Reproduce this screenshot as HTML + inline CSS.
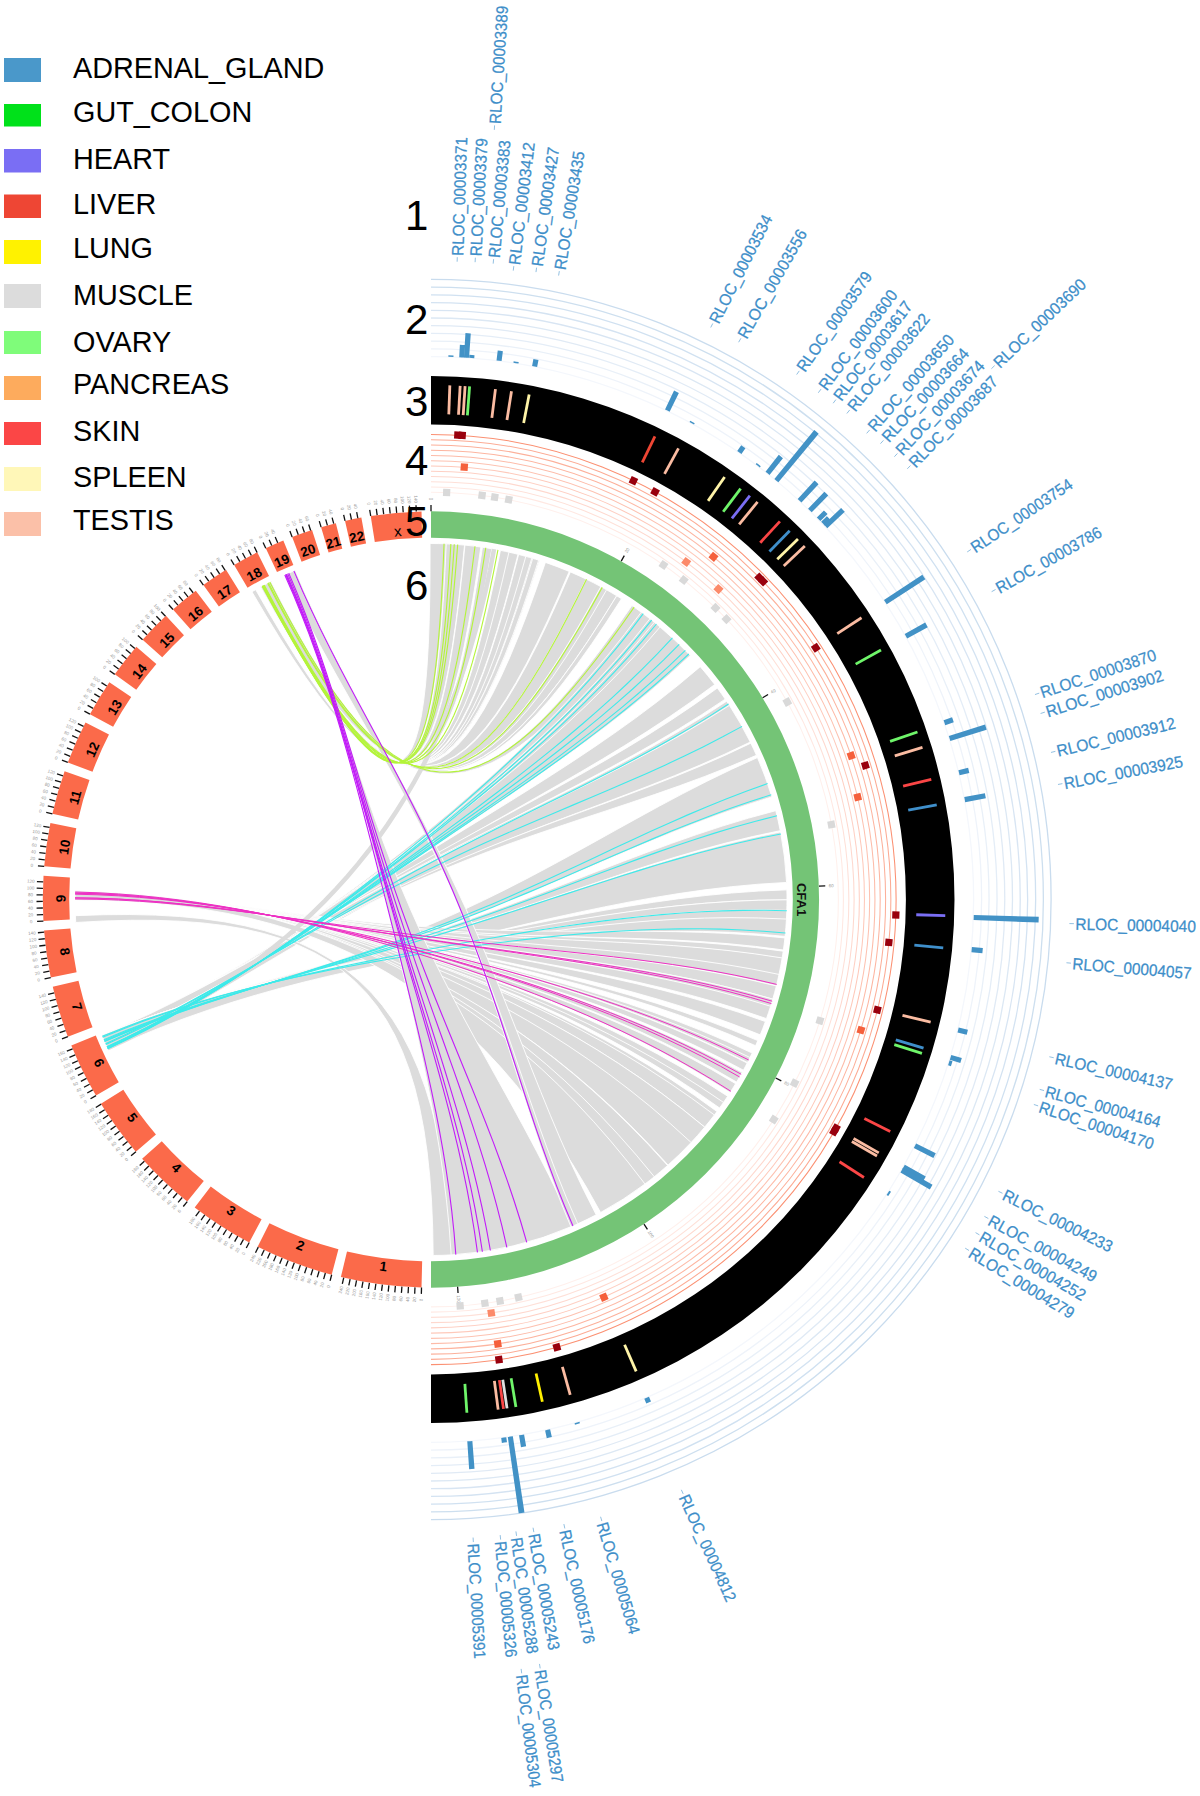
<!DOCTYPE html><html><head><meta charset="utf-8"><style>html,body{margin:0;padding:0;background:#fff;}svg{display:block;font-family:"Liberation Sans",sans-serif;}</style></head><body><svg width="1200" height="1796" viewBox="0 0 1200 1796"><rect x="4" y="58" width="37" height="24" fill="#4a98ca"/>
<text x="73" y="78.2" font-size="28.8" fill="#000">ADRENAL_GLAND</text>
<rect x="4" y="104" width="37" height="22.5" fill="#00e11a"/>
<text x="73" y="121.6" font-size="28.8" fill="#000">GUT_COLON</text>
<rect x="4" y="149" width="37" height="23.5" fill="#7a6ef4"/>
<text x="73" y="169" font-size="28.8" fill="#000">HEART</text>
<rect x="4" y="194.5" width="37" height="23.5" fill="#ee4634"/>
<text x="73" y="214" font-size="28.8" fill="#000">LIVER</text>
<rect x="4" y="240" width="37" height="24" fill="#fff200"/>
<text x="73" y="258" font-size="28.8" fill="#000">LUNG</text>
<rect x="4" y="284" width="37" height="24" fill="#dcdcdc"/>
<text x="73" y="304.6" font-size="28.8" fill="#000">MUSCLE</text>
<rect x="4" y="331" width="37" height="23" fill="#7ffc7a"/>
<text x="73" y="351.6" font-size="28.8" fill="#000">OVARY</text>
<rect x="4" y="376" width="37" height="24" fill="#fdab5d"/>
<text x="73" y="394" font-size="28.8" fill="#000">PANCREAS</text>
<rect x="4" y="422" width="37" height="23" fill="#fb4646"/>
<text x="73" y="440.8" font-size="28.8" fill="#000">SKIN</text>
<rect x="4" y="467" width="37" height="24" fill="#fff7b8"/>
<text x="73" y="487.3" font-size="28.8" fill="#000">SPLEEN</text>
<rect x="4" y="512" width="37" height="24" fill="#fbc0a8"/>
<text x="73" y="530" font-size="28.8" fill="#000">TESTIS</text>
<path d="M431.00,356.60 A542.90,542.90 0 0 1 431.00,1442.40" fill="none" stroke="#f4f7fc" stroke-width="1.3"/>
<path d="M431.00,348.88 A550.62,550.62 0 0 1 431.00,1450.12" fill="none" stroke="#eef3fa" stroke-width="1.3"/>
<path d="M431.00,341.16 A558.34,558.34 0 0 1 431.00,1457.84" fill="none" stroke="#e9f0f8" stroke-width="1.3"/>
<path d="M431.00,333.44 A566.06,566.06 0 0 1 431.00,1465.56" fill="none" stroke="#e4edf7" stroke-width="1.3"/>
<path d="M431.00,325.72 A573.78,573.78 0 0 1 431.00,1473.28" fill="none" stroke="#e0eaf5" stroke-width="1.3"/>
<path d="M431.00,318.00 A581.50,581.50 0 0 1 431.00,1481.00" fill="none" stroke="#dce8f4" stroke-width="1.3"/>
<path d="M431.00,310.28 A589.22,589.22 0 0 1 431.00,1488.72" fill="none" stroke="#d8e5f3" stroke-width="1.3"/>
<path d="M431.00,302.56 A596.94,596.94 0 0 1 431.00,1496.44" fill="none" stroke="#d4e3f2" stroke-width="1.3"/>
<path d="M431.00,294.84 A604.66,604.66 0 0 1 431.00,1504.16" fill="none" stroke="#d0e1f1" stroke-width="1.3"/>
<path d="M431.00,287.12 A612.38,612.38 0 0 1 431.00,1511.88" fill="none" stroke="#cddfef" stroke-width="1.3"/>
<path d="M431.00,279.40 A620.10,620.10 0 0 1 431.00,1519.60" fill="none" stroke="#c9dcee" stroke-width="1.3"/>
<path d="M431.00,376.00 A523.50,523.50 0 0 1 431.00,1423.00 L431.00,1374.40 A474.90,474.90 0 0 0 431.00,424.60 Z" fill="#000"/>
<path d="M431.00,434.40 A465.10,465.10 0 0 1 431.00,1364.60" fill="none" stroke="#fb9072" stroke-width="1.05"/>
<path d="M431.00,439.65 A459.85,459.85 0 0 1 431.00,1359.35" fill="none" stroke="#fcab94" stroke-width="1.05"/>
<path d="M431.00,444.90 A454.60,454.60 0 0 1 431.00,1354.10" fill="none" stroke="#fcb09a" stroke-width="1.05"/>
<path d="M431.00,450.15 A449.35,449.35 0 0 1 431.00,1348.85" fill="none" stroke="#fdb5a0" stroke-width="1.05"/>
<path d="M431.00,455.40 A444.10,444.10 0 0 1 431.00,1343.60" fill="none" stroke="#fdbba8" stroke-width="1.05"/>
<path d="M431.00,460.65 A438.85,438.85 0 0 1 431.00,1338.35" fill="none" stroke="#fdc2b1" stroke-width="1.05"/>
<path d="M431.00,465.90 A433.60,433.60 0 0 1 431.00,1333.10" fill="none" stroke="#fec9ba" stroke-width="1.05"/>
<path d="M431.00,471.15 A428.35,428.35 0 0 1 431.00,1327.85" fill="none" stroke="#fed0c4" stroke-width="1.05"/>
<path d="M431.00,476.40 A423.10,423.10 0 0 1 431.00,1322.60" fill="none" stroke="#fed8ce" stroke-width="1.05"/>
<path d="M431.00,481.65 A417.85,417.85 0 0 1 431.00,1317.35" fill="none" stroke="#fee0d8" stroke-width="1.05"/>
<path d="M431.00,486.90 A412.60,412.60 0 0 1 431.00,1312.10" fill="none" stroke="#ffe8e2" stroke-width="1.05"/>
<path d="M431.00,492.15 A407.35,407.35 0 0 1 431.00,1306.85" fill="none" stroke="#fff0ec" stroke-width="1.05"/>
<path d="M431.00,511.30 A388.20,388.20 0 0 1 431.00,1287.70 L431.00,1261.30 A361.80,361.80 0 0 0 431.00,537.70 Z" fill="#74c476"/>
<path d="M421.52,1287.58 A388.20,388.20 0 0 1 340.87,1277.09 L347.00,1251.41 A361.80,361.80 0 0 0 422.16,1261.19 Z" fill="#fb6a4a"/>
<text x="383.27" y="1266.41" font-weight="bold" font-size="13.5" text-anchor="middle" dominant-baseline="central" transform="rotate(7.41 383.27 1266.41)">1</text>
<path d="M421.52,1287.58 L421.36,1293.88" stroke="#111" stroke-width="1.3"/>
<text x="421.21" y="1299.88" font-size="4.5" fill="#999" text-anchor="middle" dominant-baseline="central" transform="rotate(271.40 421.21 1299.88)">0</text>
<path d="M414.97,1287.37 L414.71,1293.66" stroke="#111" stroke-width="1.3"/>
<text x="414.47" y="1299.66" font-size="4.5" fill="#999" text-anchor="middle" dominant-baseline="central" transform="rotate(272.37 414.47 1299.66)">20</text>
<path d="M408.44,1287.04 L408.07,1293.33" stroke="#111" stroke-width="1.3"/>
<text x="407.72" y="1299.32" font-size="4.5" fill="#999" text-anchor="middle" dominant-baseline="central" transform="rotate(273.33 407.72 1299.32)">40</text>
<path d="M401.91,1286.61 L401.43,1292.89" stroke="#111" stroke-width="1.3"/>
<text x="400.98" y="1298.87" font-size="4.5" fill="#999" text-anchor="middle" dominant-baseline="central" transform="rotate(274.30 400.98 1298.87)">60</text>
<path d="M395.38,1286.06 L394.81,1292.34" stroke="#111" stroke-width="1.3"/>
<text x="394.26" y="1298.31" font-size="4.5" fill="#999" text-anchor="middle" dominant-baseline="central" transform="rotate(275.26 394.26 1298.31)">80</text>
<path d="M388.87,1285.41 L388.19,1291.67" stroke="#111" stroke-width="1.3"/>
<text x="387.54" y="1297.63" font-size="4.5" fill="#999" text-anchor="middle" dominant-baseline="central" transform="rotate(276.23 387.54 1297.63)">100</text>
<path d="M382.37,1284.64 L381.58,1290.89" stroke="#111" stroke-width="1.3"/>
<text x="380.83" y="1296.85" font-size="4.5" fill="#999" text-anchor="middle" dominant-baseline="central" transform="rotate(277.20 380.83 1296.85)">120</text>
<path d="M375.89,1283.77 L374.99,1290.00" stroke="#111" stroke-width="1.3"/>
<text x="374.14" y="1295.94" font-size="4.5" fill="#999" text-anchor="middle" dominant-baseline="central" transform="rotate(278.16 374.14 1295.94)">140</text>
<path d="M369.42,1282.78 L368.42,1289.00" stroke="#111" stroke-width="1.3"/>
<text x="367.46" y="1294.93" font-size="4.5" fill="#999" text-anchor="middle" dominant-baseline="central" transform="rotate(279.13 367.46 1294.93)">160</text>
<path d="M362.96,1281.69 L361.86,1287.89" stroke="#111" stroke-width="1.3"/>
<text x="360.81" y="1293.80" font-size="4.5" fill="#999" text-anchor="middle" dominant-baseline="central" transform="rotate(280.09 360.81 1293.80)">180</text>
<path d="M356.53,1280.49 L355.32,1286.67" stroke="#111" stroke-width="1.3"/>
<text x="354.17" y="1292.56" font-size="4.5" fill="#999" text-anchor="middle" dominant-baseline="central" transform="rotate(281.06 354.17 1292.56)">200</text>
<path d="M350.12,1279.18 L348.80,1285.34" stroke="#111" stroke-width="1.3"/>
<text x="347.55" y="1291.21" font-size="4.5" fill="#999" text-anchor="middle" dominant-baseline="central" transform="rotate(282.03 347.55 1291.21)">220</text>
<path d="M343.73,1277.76 L342.31,1283.90" stroke="#111" stroke-width="1.3"/>
<text x="340.96" y="1289.75" font-size="4.5" fill="#999" text-anchor="middle" dominant-baseline="central" transform="rotate(282.99 340.96 1289.75)">240</text>
<path d="M331.67,1274.78 A388.20,388.20 0 0 1 257.65,1246.85 L269.44,1223.22 A361.80,361.80 0 0 0 338.43,1249.26 Z" fill="#fb6a4a"/>
<text x="300.37" y="1245.67" font-weight="bold" font-size="13.5" text-anchor="middle" dominant-baseline="central" transform="rotate(20.67 300.37 1245.67)">2</text>
<path d="M331.67,1274.78 L330.06,1280.87" stroke="#111" stroke-width="1.3"/>
<text x="328.53" y="1286.67" font-size="4.5" fill="#999" text-anchor="middle" dominant-baseline="central" transform="rotate(284.82 328.53 1286.67)">0</text>
<path d="M325.36,1273.05 L323.65,1279.11" stroke="#111" stroke-width="1.3"/>
<text x="322.01" y="1284.89" font-size="4.5" fill="#999" text-anchor="middle" dominant-baseline="central" transform="rotate(285.79 322.01 1284.89)">20</text>
<path d="M319.08,1271.22 L317.26,1277.25" stroke="#111" stroke-width="1.3"/>
<text x="315.53" y="1282.99" font-size="4.5" fill="#999" text-anchor="middle" dominant-baseline="central" transform="rotate(286.76 315.53 1282.99)">40</text>
<path d="M312.83,1269.28 L310.91,1275.28" stroke="#111" stroke-width="1.3"/>
<text x="309.08" y="1280.99" font-size="4.5" fill="#999" text-anchor="middle" dominant-baseline="central" transform="rotate(287.72 309.08 1280.99)">60</text>
<path d="M306.61,1267.23 L304.59,1273.20" stroke="#111" stroke-width="1.3"/>
<text x="302.67" y="1278.88" font-size="4.5" fill="#999" text-anchor="middle" dominant-baseline="central" transform="rotate(288.69 302.67 1278.88)">80</text>
<path d="M300.43,1265.08 L298.31,1271.02" stroke="#111" stroke-width="1.3"/>
<text x="296.29" y="1276.67" font-size="4.5" fill="#999" text-anchor="middle" dominant-baseline="central" transform="rotate(289.65 296.29 1276.67)">100</text>
<path d="M294.28,1262.83 L292.07,1268.73" stroke="#111" stroke-width="1.3"/>
<text x="289.95" y="1274.34" font-size="4.5" fill="#999" text-anchor="middle" dominant-baseline="central" transform="rotate(290.62 289.95 1274.34)">120</text>
<path d="M288.18,1260.47 L285.86,1266.33" stroke="#111" stroke-width="1.3"/>
<text x="283.65" y="1271.91" font-size="4.5" fill="#999" text-anchor="middle" dominant-baseline="central" transform="rotate(291.59 283.65 1271.91)">140</text>
<path d="M282.11,1258.01 L279.70,1263.83" stroke="#111" stroke-width="1.3"/>
<text x="277.40" y="1269.37" font-size="4.5" fill="#999" text-anchor="middle" dominant-baseline="central" transform="rotate(292.55 277.40 1269.37)">160</text>
<path d="M276.09,1255.45 L273.58,1261.23" stroke="#111" stroke-width="1.3"/>
<text x="271.18" y="1266.73" font-size="4.5" fill="#999" text-anchor="middle" dominant-baseline="central" transform="rotate(293.52 271.18 1266.73)">180</text>
<path d="M270.11,1252.79 L267.50,1258.52" stroke="#111" stroke-width="1.3"/>
<text x="265.01" y="1263.98" font-size="4.5" fill="#999" text-anchor="middle" dominant-baseline="central" transform="rotate(294.48 265.01 1263.98)">200</text>
<path d="M264.18,1250.03 L261.47,1255.72" stroke="#111" stroke-width="1.3"/>
<text x="258.89" y="1261.13" font-size="4.5" fill="#999" text-anchor="middle" dominant-baseline="central" transform="rotate(295.45 258.89 1261.13)">220</text>
<path d="M258.29,1247.16 L255.49,1252.81" stroke="#111" stroke-width="1.3"/>
<text x="252.82" y="1258.18" font-size="4.5" fill="#999" text-anchor="middle" dominant-baseline="central" transform="rotate(296.42 252.82 1258.18)">240</text>
<path d="M249.21,1242.51 A388.20,388.20 0 0 1 194.68,1207.48 L210.75,1186.53 A361.80,361.80 0 0 0 261.58,1219.18 Z" fill="#fb6a4a"/>
<text x="231.05" y="1210.82" font-weight="bold" font-size="13.5" text-anchor="middle" dominant-baseline="central" transform="rotate(32.71 231.05 1210.82)">3</text>
<path d="M249.21,1242.51 L246.26,1248.07" stroke="#111" stroke-width="1.3"/>
<text x="243.45" y="1253.37" font-size="4.5" fill="#999" text-anchor="middle" dominant-baseline="central" transform="rotate(297.92 243.45 1253.37)">0</text>
<path d="M243.46,1239.39 L240.41,1244.91" stroke="#111" stroke-width="1.3"/>
<text x="237.51" y="1250.16" font-size="4.5" fill="#999" text-anchor="middle" dominant-baseline="central" transform="rotate(298.89 237.51 1250.16)">20</text>
<path d="M237.75,1236.18 L234.62,1241.65" stroke="#111" stroke-width="1.3"/>
<text x="231.63" y="1246.85" font-size="4.5" fill="#999" text-anchor="middle" dominant-baseline="central" transform="rotate(299.85 231.63 1246.85)">40</text>
<path d="M232.10,1232.88 L228.88,1238.29" stroke="#111" stroke-width="1.3"/>
<text x="225.80" y="1243.44" font-size="4.5" fill="#999" text-anchor="middle" dominant-baseline="central" transform="rotate(300.82 225.80 1243.44)">60</text>
<path d="M226.51,1229.48 L223.19,1234.83" stroke="#111" stroke-width="1.3"/>
<text x="220.03" y="1239.93" font-size="4.5" fill="#999" text-anchor="middle" dominant-baseline="central" transform="rotate(301.79 220.03 1239.93)">80</text>
<path d="M220.98,1225.98 L217.57,1231.28" stroke="#111" stroke-width="1.3"/>
<text x="214.32" y="1236.33" font-size="4.5" fill="#999" text-anchor="middle" dominant-baseline="central" transform="rotate(302.75 214.32 1236.33)">100</text>
<path d="M215.50,1222.39 L212.01,1227.63" stroke="#111" stroke-width="1.3"/>
<text x="208.68" y="1232.63" font-size="4.5" fill="#999" text-anchor="middle" dominant-baseline="central" transform="rotate(303.72 208.68 1232.63)">120</text>
<path d="M210.09,1218.72 L206.51,1223.90" stroke="#111" stroke-width="1.3"/>
<text x="203.09" y="1228.83" font-size="4.5" fill="#999" text-anchor="middle" dominant-baseline="central" transform="rotate(304.68 203.09 1228.83)">140</text>
<path d="M204.74,1214.95 L201.07,1220.06" stroke="#111" stroke-width="1.3"/>
<text x="197.57" y="1224.94" font-size="4.5" fill="#999" text-anchor="middle" dominant-baseline="central" transform="rotate(305.65 197.57 1224.94)">160</text>
<path d="M199.45,1211.09 L195.70,1216.14" stroke="#111" stroke-width="1.3"/>
<text x="192.12" y="1220.96" font-size="4.5" fill="#999" text-anchor="middle" dominant-baseline="central" transform="rotate(306.62 192.12 1220.96)">180</text>
<path d="M187.22,1201.61 A388.20,388.20 0 0 1 142.11,1158.81 L161.76,1141.18 A361.80,361.80 0 0 0 203.80,1181.07 Z" fill="#fb6a4a"/>
<text x="176.34" y="1167.91" font-weight="bold" font-size="13.5" text-anchor="middle" dominant-baseline="central" transform="rotate(43.49 176.34 1167.91)">4</text>
<path d="M187.22,1201.61 L183.27,1206.52" stroke="#111" stroke-width="1.3"/>
<text x="179.50" y="1211.18" font-size="4.5" fill="#999" text-anchor="middle" dominant-baseline="central" transform="rotate(308.90 179.50 1211.18)">0</text>
<path d="M182.16,1197.46 L178.13,1202.30" stroke="#111" stroke-width="1.3"/>
<text x="174.28" y="1206.90" font-size="4.5" fill="#999" text-anchor="middle" dominant-baseline="central" transform="rotate(309.87 174.28 1206.90)">20</text>
<path d="M177.18,1193.22 L173.06,1197.99" stroke="#111" stroke-width="1.3"/>
<text x="169.13" y="1202.53" font-size="4.5" fill="#999" text-anchor="middle" dominant-baseline="central" transform="rotate(310.83 169.13 1202.53)">40</text>
<path d="M172.26,1188.90 L168.06,1193.60" stroke="#111" stroke-width="1.3"/>
<text x="164.06" y="1198.07" font-size="4.5" fill="#999" text-anchor="middle" dominant-baseline="central" transform="rotate(311.80 164.06 1198.07)">60</text>
<path d="M167.42,1184.50 L163.14,1189.12" stroke="#111" stroke-width="1.3"/>
<text x="159.07" y="1193.53" font-size="4.5" fill="#999" text-anchor="middle" dominant-baseline="central" transform="rotate(312.76 159.07 1193.53)">80</text>
<path d="M162.65,1180.01 L158.30,1184.57" stroke="#111" stroke-width="1.3"/>
<text x="154.15" y="1188.90" font-size="4.5" fill="#999" text-anchor="middle" dominant-baseline="central" transform="rotate(313.73 154.15 1188.90)">100</text>
<path d="M157.96,1175.45 L153.53,1179.93" stroke="#111" stroke-width="1.3"/>
<text x="149.31" y="1184.19" font-size="4.5" fill="#999" text-anchor="middle" dominant-baseline="central" transform="rotate(314.70 149.31 1184.19)">120</text>
<path d="M153.35,1170.81 L148.84,1175.21" stroke="#111" stroke-width="1.3"/>
<text x="144.55" y="1179.40" font-size="4.5" fill="#999" text-anchor="middle" dominant-baseline="central" transform="rotate(315.66 144.55 1179.40)">140</text>
<path d="M148.81,1166.09 L144.23,1170.41" stroke="#111" stroke-width="1.3"/>
<text x="139.87" y="1174.53" font-size="4.5" fill="#999" text-anchor="middle" dominant-baseline="central" transform="rotate(316.63 139.87 1174.53)">160</text>
<path d="M144.36,1161.29 L139.71,1165.54" stroke="#111" stroke-width="1.3"/>
<text x="135.28" y="1169.59" font-size="4.5" fill="#999" text-anchor="middle" dominant-baseline="central" transform="rotate(317.59 135.28 1169.59)">180</text>
<path d="M135.86,1151.68 A388.20,388.20 0 0 1 100.87,1103.74 L123.32,1089.85 A361.80,361.80 0 0 0 155.94,1134.53 Z" fill="#fb6a4a"/>
<text x="132.15" y="1117.65" font-weight="bold" font-size="13.5" text-anchor="middle" dominant-baseline="central" transform="rotate(53.87 132.15 1117.65)">5</text>
<path d="M135.86,1151.68 L131.07,1155.77" stroke="#111" stroke-width="1.3"/>
<text x="126.51" y="1159.67" font-size="4.5" fill="#999" text-anchor="middle" dominant-baseline="central" transform="rotate(319.49 126.51 1159.67)">0</text>
<path d="M131.65,1146.67 L126.80,1150.68" stroke="#111" stroke-width="1.3"/>
<text x="122.17" y="1154.50" font-size="4.5" fill="#999" text-anchor="middle" dominant-baseline="central" transform="rotate(320.45 122.17 1154.50)">20</text>
<path d="M127.53,1141.59 L122.61,1145.51" stroke="#111" stroke-width="1.3"/>
<text x="117.91" y="1149.26" font-size="4.5" fill="#999" text-anchor="middle" dominant-baseline="central" transform="rotate(321.42 117.91 1149.26)">40</text>
<path d="M123.49,1136.43 L118.50,1140.28" stroke="#111" stroke-width="1.3"/>
<text x="113.75" y="1143.94" font-size="4.5" fill="#999" text-anchor="middle" dominant-baseline="central" transform="rotate(322.39 113.75 1143.94)">60</text>
<path d="M119.54,1131.22 L114.49,1134.98" stroke="#111" stroke-width="1.3"/>
<text x="109.67" y="1138.56" font-size="4.5" fill="#999" text-anchor="middle" dominant-baseline="central" transform="rotate(323.35 109.67 1138.56)">80</text>
<path d="M115.68,1125.93 L110.56,1129.61" stroke="#111" stroke-width="1.3"/>
<text x="105.69" y="1133.11" font-size="4.5" fill="#999" text-anchor="middle" dominant-baseline="central" transform="rotate(324.32 105.69 1133.11)">100</text>
<path d="M111.91,1120.58 L106.73,1124.17" stroke="#111" stroke-width="1.3"/>
<text x="101.80" y="1127.59" font-size="4.5" fill="#999" text-anchor="middle" dominant-baseline="central" transform="rotate(325.28 101.80 1127.59)">120</text>
<path d="M108.22,1115.17 L102.99,1118.67" stroke="#111" stroke-width="1.3"/>
<text x="98.00" y="1122.01" font-size="4.5" fill="#999" text-anchor="middle" dominant-baseline="central" transform="rotate(326.25 98.00 1122.01)">140</text>
<path d="M104.63,1109.70 L99.34,1113.11" stroke="#111" stroke-width="1.3"/>
<text x="94.29" y="1116.36" font-size="4.5" fill="#999" text-anchor="middle" dominant-baseline="central" transform="rotate(327.22 94.29 1116.36)">160</text>
<path d="M101.14,1104.17 L95.78,1107.49" stroke="#111" stroke-width="1.3"/>
<text x="90.68" y="1110.65" font-size="4.5" fill="#999" text-anchor="middle" dominant-baseline="central" transform="rotate(328.18 90.68 1110.65)">180</text>
<path d="M95.98,1095.61 A388.20,388.20 0 0 1 71.31,1045.51 L95.77,1035.58 A361.80,361.80 0 0 0 118.76,1082.28 Z" fill="#fb6a4a"/>
<text x="99.07" y="1062.97" font-weight="bold" font-size="13.5" text-anchor="middle" dominant-baseline="central" transform="rotate(63.78 99.07 1062.97)">6</text>
<path d="M95.98,1095.61 L90.54,1098.80" stroke="#111" stroke-width="1.3"/>
<text x="85.36" y="1101.83" font-size="4.5" fill="#999" text-anchor="middle" dominant-baseline="central" transform="rotate(329.66 85.36 1101.83)">0</text>
<path d="M92.72,1089.94 L87.23,1093.03" stroke="#111" stroke-width="1.3"/>
<text x="82.00" y="1095.97" font-size="4.5" fill="#999" text-anchor="middle" dominant-baseline="central" transform="rotate(330.62 82.00 1095.97)">20</text>
<path d="M89.56,1084.21 L84.02,1087.21" stroke="#111" stroke-width="1.3"/>
<text x="78.74" y="1090.06" font-size="4.5" fill="#999" text-anchor="middle" dominant-baseline="central" transform="rotate(331.59 78.74 1090.06)">40</text>
<path d="M86.49,1078.43 L80.90,1081.33" stroke="#111" stroke-width="1.3"/>
<text x="75.58" y="1084.09" font-size="4.5" fill="#999" text-anchor="middle" dominant-baseline="central" transform="rotate(332.55 75.58 1084.09)">60</text>
<path d="M83.53,1072.59 L77.89,1075.40" stroke="#111" stroke-width="1.3"/>
<text x="72.52" y="1078.08" font-size="4.5" fill="#999" text-anchor="middle" dominant-baseline="central" transform="rotate(333.52 72.52 1078.08)">80</text>
<path d="M80.66,1066.71 L74.97,1069.42" stroke="#111" stroke-width="1.3"/>
<text x="69.56" y="1072.01" font-size="4.5" fill="#999" text-anchor="middle" dominant-baseline="central" transform="rotate(334.49 69.56 1072.01)">100</text>
<path d="M77.89,1060.78 L72.16,1063.40" stroke="#111" stroke-width="1.3"/>
<text x="66.70" y="1065.89" font-size="4.5" fill="#999" text-anchor="middle" dominant-baseline="central" transform="rotate(335.45 66.70 1065.89)">120</text>
<path d="M75.22,1054.80 L69.44,1057.32" stroke="#111" stroke-width="1.3"/>
<text x="63.95" y="1059.72" font-size="4.5" fill="#999" text-anchor="middle" dominant-baseline="central" transform="rotate(336.42 63.95 1059.72)">140</text>
<path d="M72.65,1048.78 L66.84,1051.21" stroke="#111" stroke-width="1.3"/>
<text x="61.30" y="1053.51" font-size="4.5" fill="#999" text-anchor="middle" dominant-baseline="central" transform="rotate(337.38 61.30 1053.51)">160</text>
<path d="M67.85,1036.68 A388.20,388.20 0 0 1 52.75,986.81 L78.47,980.87 A361.80,361.80 0 0 0 92.54,1027.35 Z" fill="#fb6a4a"/>
<text x="76.88" y="1006.72" font-weight="bold" font-size="13.5" text-anchor="middle" dominant-baseline="central" transform="rotate(73.15 76.88 1006.72)">7</text>
<path d="M67.85,1036.68 L61.95,1038.91" stroke="#111" stroke-width="1.3"/>
<text x="56.34" y="1041.03" font-size="4.5" fill="#999" text-anchor="middle" dominant-baseline="central" transform="rotate(339.31 56.34 1041.03)">0</text>
<path d="M65.58,1030.54 L59.65,1032.67" stroke="#111" stroke-width="1.3"/>
<text x="54.01" y="1034.69" font-size="4.5" fill="#999" text-anchor="middle" dominant-baseline="central" transform="rotate(340.27 54.01 1034.69)">20</text>
<path d="M63.43,1024.36 L57.46,1026.39" stroke="#111" stroke-width="1.3"/>
<text x="51.78" y="1028.32" font-size="4.5" fill="#999" text-anchor="middle" dominant-baseline="central" transform="rotate(341.24 51.78 1028.32)">40</text>
<path d="M61.37,1018.14 L55.38,1020.07" stroke="#111" stroke-width="1.3"/>
<text x="49.66" y="1021.90" font-size="4.5" fill="#999" text-anchor="middle" dominant-baseline="central" transform="rotate(342.20 49.66 1021.90)">60</text>
<path d="M59.43,1011.90 L53.40,1013.72" stroke="#111" stroke-width="1.3"/>
<text x="47.65" y="1015.46" font-size="4.5" fill="#999" text-anchor="middle" dominant-baseline="central" transform="rotate(343.17 47.65 1015.46)">80</text>
<path d="M57.59,1005.62 L51.53,1007.34" stroke="#111" stroke-width="1.3"/>
<text x="45.75" y="1008.98" font-size="4.5" fill="#999" text-anchor="middle" dominant-baseline="central" transform="rotate(344.14 45.75 1008.98)">100</text>
<path d="M55.85,999.31 L49.76,1000.92" stroke="#111" stroke-width="1.3"/>
<text x="43.96" y="1002.47" font-size="4.5" fill="#999" text-anchor="middle" dominant-baseline="central" transform="rotate(345.10 43.96 1002.47)">120</text>
<path d="M54.22,992.97 L48.11,994.48" stroke="#111" stroke-width="1.3"/>
<text x="42.28" y="995.93" font-size="4.5" fill="#999" text-anchor="middle" dominant-baseline="central" transform="rotate(346.07 42.28 995.93)">140</text>
<path d="M50.73,977.54 A388.20,388.20 0 0 1 44.04,930.55 L70.36,928.44 A361.80,361.80 0 0 0 76.59,972.23 Z" fill="#fb6a4a"/>
<text x="64.68" y="951.58" font-weight="bold" font-size="13.5" text-anchor="middle" dominant-baseline="central" transform="rotate(81.91 64.68 951.58)">8</text>
<path d="M50.73,977.54 L44.55,978.81" stroke="#111" stroke-width="1.3"/>
<text x="38.68" y="980.01" font-size="4.5" fill="#999" text-anchor="middle" dominant-baseline="central" transform="rotate(348.40 38.68 980.01)">0</text>
<path d="M49.46,971.12 L43.27,972.28" stroke="#111" stroke-width="1.3"/>
<text x="37.37" y="973.39" font-size="4.5" fill="#999" text-anchor="middle" dominant-baseline="central" transform="rotate(349.37 37.37 973.39)">20</text>
<path d="M48.31,964.68 L42.10,965.73" stroke="#111" stroke-width="1.3"/>
<text x="36.19" y="966.74" font-size="4.5" fill="#999" text-anchor="middle" dominant-baseline="central" transform="rotate(350.33 36.19 966.74)">40</text>
<path d="M47.27,958.22 L41.04,959.17" stroke="#111" stroke-width="1.3"/>
<text x="35.11" y="960.08" font-size="4.5" fill="#999" text-anchor="middle" dominant-baseline="central" transform="rotate(351.30 35.11 960.08)">60</text>
<path d="M46.33,951.74 L40.09,952.59" stroke="#111" stroke-width="1.3"/>
<text x="34.14" y="953.39" font-size="4.5" fill="#999" text-anchor="middle" dominant-baseline="central" transform="rotate(352.27 34.14 953.39)">80</text>
<path d="M45.50,945.25 L39.25,945.99" stroke="#111" stroke-width="1.3"/>
<text x="33.29" y="946.69" font-size="4.5" fill="#999" text-anchor="middle" dominant-baseline="central" transform="rotate(353.23 33.29 946.69)">100</text>
<path d="M44.79,938.74 L38.52,939.38" stroke="#111" stroke-width="1.3"/>
<text x="32.55" y="939.98" font-size="4.5" fill="#999" text-anchor="middle" dominant-baseline="central" transform="rotate(354.20 32.55 939.98)">120</text>
<path d="M44.18,932.22 L37.90,932.75" stroke="#111" stroke-width="1.3"/>
<text x="31.93" y="933.26" font-size="4.5" fill="#999" text-anchor="middle" dominant-baseline="central" transform="rotate(355.16 31.93 933.26)">140</text>
<path d="M43.40,921.08 A388.20,388.20 0 0 1 43.52,875.82 L69.87,877.43 A361.80,361.80 0 0 0 69.76,919.62 Z" fill="#fb6a4a"/>
<text x="61.00" y="898.50" font-weight="bold" font-size="13.5" text-anchor="middle" dominant-baseline="central" transform="rotate(-89.85 61.00 898.50)">9</text>
<path d="M43.40,921.08 L37.11,921.43" stroke="#111" stroke-width="1.3"/>
<text x="31.12" y="921.77" font-size="4.5" fill="#999" text-anchor="middle" dominant-baseline="central" transform="rotate(356.81 31.12 921.77)">0</text>
<path d="M43.09,914.55 L36.80,914.79" stroke="#111" stroke-width="1.3"/>
<text x="30.80" y="915.02" font-size="4.5" fill="#999" text-anchor="middle" dominant-baseline="central" transform="rotate(357.78 30.80 915.02)">20</text>
<path d="M42.89,908.00 L36.59,908.14" stroke="#111" stroke-width="1.3"/>
<text x="30.60" y="908.27" font-size="4.5" fill="#999" text-anchor="middle" dominant-baseline="central" transform="rotate(358.74 30.60 908.27)">40</text>
<path d="M42.80,901.46 L36.51,901.49" stroke="#111" stroke-width="1.3"/>
<text x="30.51" y="901.52" font-size="4.5" fill="#999" text-anchor="middle" dominant-baseline="central" transform="rotate(359.71 30.51 901.52)">60</text>
<path d="M42.83,894.91 L36.53,894.84" stroke="#111" stroke-width="1.3"/>
<text x="30.53" y="894.77" font-size="4.5" fill="#999" text-anchor="middle" dominant-baseline="central" transform="rotate(360.68 30.53 894.77)">80</text>
<path d="M42.96,888.37 L36.66,888.19" stroke="#111" stroke-width="1.3"/>
<text x="30.66" y="888.02" font-size="4.5" fill="#999" text-anchor="middle" dominant-baseline="central" transform="rotate(361.64 30.66 888.02)">100</text>
<path d="M43.20,881.83 L36.91,881.54" stroke="#111" stroke-width="1.3"/>
<text x="30.92" y="881.27" font-size="4.5" fill="#999" text-anchor="middle" dominant-baseline="central" transform="rotate(362.61 30.92 881.27)">120</text>
<path d="M44.22,866.36 A388.20,388.20 0 0 1 50.40,823.04 L76.29,828.24 A361.80,361.80 0 0 0 70.52,868.61 Z" fill="#fb6a4a"/>
<text x="64.72" y="847.18" font-weight="bold" font-size="13.5" text-anchor="middle" dominant-baseline="central" transform="rotate(-81.87 64.72 847.18)">10</text>
<path d="M44.22,866.36 L37.94,865.82" stroke="#111" stroke-width="1.3"/>
<text x="31.96" y="865.31" font-size="4.5" fill="#999" text-anchor="middle" dominant-baseline="central" transform="rotate(364.90 31.96 865.31)">0</text>
<path d="M44.83,859.84 L38.56,859.20" stroke="#111" stroke-width="1.3"/>
<text x="32.60" y="858.59" font-size="4.5" fill="#999" text-anchor="middle" dominant-baseline="central" transform="rotate(365.86 32.60 858.59)">20</text>
<path d="M45.55,853.34 L39.30,852.59" stroke="#111" stroke-width="1.3"/>
<text x="33.34" y="851.88" font-size="4.5" fill="#999" text-anchor="middle" dominant-baseline="central" transform="rotate(366.83 33.34 851.88)">40</text>
<path d="M46.39,846.85 L40.15,845.99" stroke="#111" stroke-width="1.3"/>
<text x="34.20" y="845.18" font-size="4.5" fill="#999" text-anchor="middle" dominant-baseline="central" transform="rotate(367.80 34.20 845.18)">60</text>
<path d="M47.33,840.37 L41.10,839.41" stroke="#111" stroke-width="1.3"/>
<text x="35.17" y="838.50" font-size="4.5" fill="#999" text-anchor="middle" dominant-baseline="central" transform="rotate(368.76 35.17 838.50)">80</text>
<path d="M48.38,833.91 L42.17,832.85" stroke="#111" stroke-width="1.3"/>
<text x="36.26" y="831.83" font-size="4.5" fill="#999" text-anchor="middle" dominant-baseline="central" transform="rotate(369.73 36.26 831.83)">100</text>
<path d="M49.54,827.47 L43.35,826.30" stroke="#111" stroke-width="1.3"/>
<text x="37.45" y="825.19" font-size="4.5" fill="#999" text-anchor="middle" dominant-baseline="central" transform="rotate(370.69 37.45 825.19)">120</text>
<path d="M52.39,813.76 A388.20,388.20 0 0 1 64.58,771.29 L89.50,780.01 A361.80,361.80 0 0 0 78.13,819.59 Z" fill="#fb6a4a"/>
<text x="75.37" y="797.38" font-weight="bold" font-size="13.5" text-anchor="middle" dominant-baseline="central" transform="rotate(-73.98 75.37 797.38)">11</text>
<path d="M52.39,813.76 L46.24,812.37" stroke="#111" stroke-width="1.3"/>
<text x="40.39" y="811.04" font-size="4.5" fill="#999" text-anchor="middle" dominant-baseline="central" transform="rotate(372.76 40.39 811.04)">0</text>
<path d="M53.89,807.39 L47.77,805.90" stroke="#111" stroke-width="1.3"/>
<text x="41.94" y="804.47" font-size="4.5" fill="#999" text-anchor="middle" dominant-baseline="central" transform="rotate(373.73 41.94 804.47)">20</text>
<path d="M55.49,801.05 L49.40,799.45" stroke="#111" stroke-width="1.3"/>
<text x="43.59" y="797.93" font-size="4.5" fill="#999" text-anchor="middle" dominant-baseline="central" transform="rotate(374.69 43.59 797.93)">40</text>
<path d="M57.21,794.73 L51.14,793.03" stroke="#111" stroke-width="1.3"/>
<text x="45.36" y="791.41" font-size="4.5" fill="#999" text-anchor="middle" dominant-baseline="central" transform="rotate(375.66 45.36 791.41)">60</text>
<path d="M59.03,788.44 L52.99,786.64" stroke="#111" stroke-width="1.3"/>
<text x="47.24" y="784.92" font-size="4.5" fill="#999" text-anchor="middle" dominant-baseline="central" transform="rotate(376.62 47.24 784.92)">80</text>
<path d="M60.95,782.19 L54.94,780.28" stroke="#111" stroke-width="1.3"/>
<text x="49.23" y="778.47" font-size="4.5" fill="#999" text-anchor="middle" dominant-baseline="central" transform="rotate(377.59 49.23 778.47)">100</text>
<path d="M62.98,775.96 L57.01,773.96" stroke="#111" stroke-width="1.3"/>
<text x="51.32" y="772.05" font-size="4.5" fill="#999" text-anchor="middle" dominant-baseline="central" transform="rotate(378.56 51.32 772.05)">120</text>
<path d="M67.82,762.38 A388.20,388.20 0 0 1 85.49,722.53 L108.98,734.56 A361.80,361.80 0 0 0 92.52,771.70 Z" fill="#fb6a4a"/>
<text x="92.73" y="749.58" font-weight="bold" font-size="13.5" text-anchor="middle" dominant-baseline="central" transform="rotate(-66.10 92.73 749.58)">12</text>
<path d="M67.82,762.38 L61.93,760.15" stroke="#111" stroke-width="1.3"/>
<text x="56.32" y="758.04" font-size="4.5" fill="#999" text-anchor="middle" dominant-baseline="central" transform="rotate(380.68 56.32 758.04)">0</text>
<path d="M70.19,756.28 L64.33,753.95" stroke="#111" stroke-width="1.3"/>
<text x="58.75" y="751.74" font-size="4.5" fill="#999" text-anchor="middle" dominant-baseline="central" transform="rotate(381.65 58.75 751.74)">20</text>
<path d="M72.65,750.21 L66.84,747.79" stroke="#111" stroke-width="1.3"/>
<text x="61.30" y="745.48" font-size="4.5" fill="#999" text-anchor="middle" dominant-baseline="central" transform="rotate(382.62 61.30 745.48)">40</text>
<path d="M75.22,744.19 L69.45,741.67" stroke="#111" stroke-width="1.3"/>
<text x="63.95" y="739.27" font-size="4.5" fill="#999" text-anchor="middle" dominant-baseline="central" transform="rotate(383.58 63.95 739.27)">60</text>
<path d="M77.89,738.22 L72.16,735.60" stroke="#111" stroke-width="1.3"/>
<text x="66.70" y="733.11" font-size="4.5" fill="#999" text-anchor="middle" dominant-baseline="central" transform="rotate(384.55 66.70 733.11)">80</text>
<path d="M80.66,732.29 L74.97,729.57" stroke="#111" stroke-width="1.3"/>
<text x="69.56" y="726.99" font-size="4.5" fill="#999" text-anchor="middle" dominant-baseline="central" transform="rotate(385.51 69.56 726.99)">100</text>
<path d="M83.53,726.40 L77.89,723.60" stroke="#111" stroke-width="1.3"/>
<text x="72.52" y="720.92" font-size="4.5" fill="#999" text-anchor="middle" dominant-baseline="central" transform="rotate(386.48 72.52 720.92)">120</text>
<path d="M89.91,714.14 A388.20,388.20 0 0 1 109.34,682.17 L131.21,696.95 A361.80,361.80 0 0 0 113.11,726.74 Z" fill="#fb6a4a"/>
<text x="114.80" y="707.37" font-weight="bold" font-size="13.5" text-anchor="middle" dominant-baseline="central" transform="rotate(-58.72 114.80 707.37)">13</text>
<path d="M89.91,714.14 L84.38,711.13" stroke="#111" stroke-width="1.3"/>
<text x="79.11" y="708.27" font-size="4.5" fill="#999" text-anchor="middle" dominant-baseline="central" transform="rotate(388.52 79.11 708.27)">0</text>
<path d="M93.09,708.41 L87.60,705.31" stroke="#111" stroke-width="1.3"/>
<text x="82.38" y="702.36" font-size="4.5" fill="#999" text-anchor="middle" dominant-baseline="central" transform="rotate(389.49 82.38 702.36)">20</text>
<path d="M96.36,702.74 L90.93,699.55" stroke="#111" stroke-width="1.3"/>
<text x="85.75" y="696.51" font-size="4.5" fill="#999" text-anchor="middle" dominant-baseline="central" transform="rotate(390.45 85.75 696.51)">40</text>
<path d="M99.72,697.13 L94.34,693.85" stroke="#111" stroke-width="1.3"/>
<text x="89.22" y="690.72" font-size="4.5" fill="#999" text-anchor="middle" dominant-baseline="central" transform="rotate(391.42 89.22 690.72)">60</text>
<path d="M103.18,691.57 L97.86,688.20" stroke="#111" stroke-width="1.3"/>
<text x="92.79" y="684.99" font-size="4.5" fill="#999" text-anchor="middle" dominant-baseline="central" transform="rotate(392.39 92.79 684.99)">80</text>
<path d="M106.73,686.08 L101.47,682.61" stroke="#111" stroke-width="1.3"/>
<text x="96.46" y="679.31" font-size="4.5" fill="#999" text-anchor="middle" dominant-baseline="central" transform="rotate(393.35 96.46 679.31)">100</text>
<path d="M114.75,674.37 A388.20,388.20 0 0 1 136.32,646.79 L156.36,663.97 A361.80,361.80 0 0 0 136.25,689.68 Z" fill="#fb6a4a"/>
<text x="139.56" y="671.55" font-weight="bold" font-size="13.5" text-anchor="middle" dominant-baseline="central" transform="rotate(-51.97 139.56 671.55)">14</text>
<path d="M114.75,674.37 L109.61,670.72" stroke="#111" stroke-width="1.3"/>
<text x="104.73" y="667.24" font-size="4.5" fill="#999" text-anchor="middle" dominant-baseline="central" transform="rotate(395.45 104.73 667.24)">0</text>
<path d="M118.59,669.07 L113.52,665.33" stroke="#111" stroke-width="1.3"/>
<text x="108.69" y="661.77" font-size="4.5" fill="#999" text-anchor="middle" dominant-baseline="central" transform="rotate(396.41 108.69 661.77)">20</text>
<path d="M122.52,663.84 L117.51,660.01" stroke="#111" stroke-width="1.3"/>
<text x="112.74" y="656.37" font-size="4.5" fill="#999" text-anchor="middle" dominant-baseline="central" transform="rotate(397.38 112.74 656.37)">40</text>
<path d="M126.53,658.67 L121.59,654.76" stroke="#111" stroke-width="1.3"/>
<text x="116.89" y="651.04" font-size="4.5" fill="#999" text-anchor="middle" dominant-baseline="central" transform="rotate(398.34 116.89 651.04)">60</text>
<path d="M130.64,653.57 L125.76,649.58" stroke="#111" stroke-width="1.3"/>
<text x="121.12" y="645.78" font-size="4.5" fill="#999" text-anchor="middle" dominant-baseline="central" transform="rotate(399.31 121.12 645.78)">80</text>
<path d="M134.82,648.54 L130.02,644.47" stroke="#111" stroke-width="1.3"/>
<text x="125.44" y="640.59" font-size="4.5" fill="#999" text-anchor="middle" dominant-baseline="central" transform="rotate(400.28 125.44 640.59)">100</text>
<path d="M142.58,639.66 A388.20,388.20 0 0 1 165.96,615.86 L183.98,635.15 A361.80,361.80 0 0 0 162.20,657.33 Z" fill="#fb6a4a"/>
<text x="167.00" y="640.26" font-weight="bold" font-size="13.5" text-anchor="middle" dominant-baseline="central" transform="rotate(-45.52 167.00 640.26)">15</text>
<path d="M142.58,639.66 L137.90,635.45" stroke="#111" stroke-width="1.3"/>
<text x="133.44" y="631.43" font-size="4.5" fill="#999" text-anchor="middle" dominant-baseline="central" transform="rotate(402.02 133.44 631.43)">0</text>
<path d="M147.00,634.84 L142.39,630.54" stroke="#111" stroke-width="1.3"/>
<text x="138.01" y="626.45" font-size="4.5" fill="#999" text-anchor="middle" dominant-baseline="central" transform="rotate(402.98 138.01 626.45)">20</text>
<path d="M151.51,630.09 L146.97,625.72" stroke="#111" stroke-width="1.3"/>
<text x="142.65" y="621.55" font-size="4.5" fill="#999" text-anchor="middle" dominant-baseline="central" transform="rotate(403.95 142.65 621.55)">40</text>
<path d="M156.09,625.41 L151.63,620.97" stroke="#111" stroke-width="1.3"/>
<text x="147.38" y="616.73" font-size="4.5" fill="#999" text-anchor="middle" dominant-baseline="central" transform="rotate(404.91 147.38 616.73)">60</text>
<path d="M160.75,620.82 L156.36,616.30" stroke="#111" stroke-width="1.3"/>
<text x="152.19" y="611.99" font-size="4.5" fill="#999" text-anchor="middle" dominant-baseline="central" transform="rotate(405.88 152.19 611.99)">80</text>
<path d="M165.48,616.30 L161.18,611.71" stroke="#111" stroke-width="1.3"/>
<text x="157.07" y="607.33" font-size="4.5" fill="#999" text-anchor="middle" dominant-baseline="central" transform="rotate(406.85 157.07 607.33)">100</text>
<path d="M172.97,609.47 A388.20,388.20 0 0 1 195.78,590.68 L211.78,611.68 A361.80,361.80 0 0 0 190.52,629.19 Z" fill="#fb6a4a"/>
<text x="195.77" y="613.90" font-weight="bold" font-size="13.5" text-anchor="middle" dominant-baseline="central" transform="rotate(-39.48 195.77 613.90)">16</text>
<path d="M172.97,609.47 L168.78,604.76" stroke="#111" stroke-width="1.3"/>
<text x="164.79" y="600.28" font-size="4.5" fill="#999" text-anchor="middle" dominant-baseline="central" transform="rotate(408.34 164.79 600.28)">0</text>
<path d="M177.90,605.16 L173.79,600.38" stroke="#111" stroke-width="1.3"/>
<text x="169.88" y="595.83" font-size="4.5" fill="#999" text-anchor="middle" dominant-baseline="central" transform="rotate(409.31 169.88 595.83)">20</text>
<path d="M182.89,600.93 L178.87,596.09" stroke="#111" stroke-width="1.3"/>
<text x="175.03" y="591.47" font-size="4.5" fill="#999" text-anchor="middle" dominant-baseline="central" transform="rotate(410.27 175.03 591.47)">40</text>
<path d="M187.96,596.79 L184.02,591.88" stroke="#111" stroke-width="1.3"/>
<text x="180.26" y="587.20" font-size="4.5" fill="#999" text-anchor="middle" dominant-baseline="central" transform="rotate(411.24 180.26 587.20)">60</text>
<path d="M193.10,592.74 L189.24,587.76" stroke="#111" stroke-width="1.3"/>
<text x="185.56" y="583.02" font-size="4.5" fill="#999" text-anchor="middle" dominant-baseline="central" transform="rotate(412.21 185.56 583.02)">80</text>
<path d="M203.40,585.02 A388.20,388.20 0 0 1 226.01,569.83 L239.95,592.25 A361.80,361.80 0 0 0 218.88,606.41 Z" fill="#fb6a4a"/>
<text x="224.72" y="592.34" font-weight="bold" font-size="13.5" text-anchor="middle" dominant-baseline="central" transform="rotate(-33.88 224.72 592.34)">17</text>
<path d="M203.40,585.02 L199.71,579.92" stroke="#111" stroke-width="1.3"/>
<text x="196.19" y="575.06" font-size="4.5" fill="#999" text-anchor="middle" dominant-baseline="central" transform="rotate(414.11 196.19 575.06)">0</text>
<path d="M208.73,581.23 L205.13,576.06" stroke="#111" stroke-width="1.3"/>
<text x="201.69" y="571.14" font-size="4.5" fill="#999" text-anchor="middle" dominant-baseline="central" transform="rotate(415.07 201.69 571.14)">20</text>
<path d="M214.13,577.53 L210.61,572.30" stroke="#111" stroke-width="1.3"/>
<text x="207.26" y="567.32" font-size="4.5" fill="#999" text-anchor="middle" dominant-baseline="central" transform="rotate(416.04 207.26 567.32)">40</text>
<path d="M219.59,573.92 L216.16,568.63" stroke="#111" stroke-width="1.3"/>
<text x="212.89" y="563.60" font-size="4.5" fill="#999" text-anchor="middle" dominant-baseline="central" transform="rotate(417.00 212.89 563.60)">60</text>
<path d="M225.11,570.40 L221.77,565.06" stroke="#111" stroke-width="1.3"/>
<text x="218.59" y="559.97" font-size="4.5" fill="#999" text-anchor="middle" dominant-baseline="central" transform="rotate(417.97 218.59 559.97)">80</text>
<path d="M234.13,564.92 A388.20,388.20 0 0 1 257.23,552.36 L269.05,575.97 A361.80,361.80 0 0 0 247.52,587.68 Z" fill="#fb6a4a"/>
<text x="254.27" y="574.44" font-weight="bold" font-size="13.5" text-anchor="middle" dominant-baseline="central" transform="rotate(-28.53 254.27 574.44)">18</text>
<path d="M234.13,564.92 L230.93,559.49" stroke="#111" stroke-width="1.3"/>
<text x="227.89" y="554.32" font-size="4.5" fill="#999" text-anchor="middle" dominant-baseline="central" transform="rotate(419.53 227.89 554.32)">0</text>
<path d="M239.80,561.65 L236.69,556.17" stroke="#111" stroke-width="1.3"/>
<text x="233.74" y="550.95" font-size="4.5" fill="#999" text-anchor="middle" dominant-baseline="central" transform="rotate(420.49 233.74 550.95)">20</text>
<path d="M245.52,558.48 L242.51,552.94" stroke="#111" stroke-width="1.3"/>
<text x="239.64" y="547.67" font-size="4.5" fill="#999" text-anchor="middle" dominant-baseline="central" transform="rotate(421.46 239.64 547.67)">40</text>
<path d="M251.30,555.40 L248.38,549.81" stroke="#111" stroke-width="1.3"/>
<text x="245.60" y="544.50" font-size="4.5" fill="#999" text-anchor="middle" dominant-baseline="central" transform="rotate(422.42 245.60 544.50)">60</text>
<path d="M257.12,552.42 L254.30,546.79" stroke="#111" stroke-width="1.3"/>
<text x="251.61" y="541.42" font-size="4.5" fill="#999" text-anchor="middle" dominant-baseline="central" transform="rotate(423.39 251.61 541.42)">80</text>
<path d="M265.77,548.22 A388.20,388.20 0 0 1 283.32,540.49 L293.36,564.90 A361.80,361.80 0 0 0 277.00,572.11 Z" fill="#fb6a4a"/>
<text x="281.83" y="560.90" font-weight="bold" font-size="13.5" text-anchor="middle" dominant-baseline="central" transform="rotate(-23.78 281.83 560.90)">19</text>
<path d="M265.77,548.22 L263.08,542.52" stroke="#111" stroke-width="1.3"/>
<text x="260.53" y="537.09" font-size="4.5" fill="#999" text-anchor="middle" dominant-baseline="central" transform="rotate(424.81 260.53 537.09)">0</text>
<path d="M271.71,545.49 L269.13,539.74" stroke="#111" stroke-width="1.3"/>
<text x="266.66" y="534.27" font-size="4.5" fill="#999" text-anchor="middle" dominant-baseline="central" transform="rotate(425.77 266.66 534.27)">20</text>
<path d="M277.70,542.85 L275.21,537.06" stroke="#111" stroke-width="1.3"/>
<text x="272.85" y="531.55" font-size="4.5" fill="#999" text-anchor="middle" dominant-baseline="central" transform="rotate(426.74 272.85 531.55)">40</text>
<path d="M292.13,536.99 A388.20,388.20 0 0 1 312.02,529.98 L320.11,555.11 A361.80,361.80 0 0 0 301.58,561.64 Z" fill="#fb6a4a"/>
<text x="308.08" y="550.52" font-weight="bold" font-size="13.5" text-anchor="middle" dominant-baseline="central" transform="rotate(-19.40 308.08 550.52)">20</text>
<path d="M292.13,536.99 L289.88,531.10" stroke="#111" stroke-width="1.3"/>
<text x="287.73" y="525.50" font-size="4.5" fill="#999" text-anchor="middle" dominant-baseline="central" transform="rotate(429.04 287.73 525.50)">0</text>
<path d="M298.27,534.70 L296.11,528.78" stroke="#111" stroke-width="1.3"/>
<text x="294.06" y="523.14" font-size="4.5" fill="#999" text-anchor="middle" dominant-baseline="central" transform="rotate(430.01 294.06 523.14)">20</text>
<path d="M304.43,532.51 L302.38,526.56" stroke="#111" stroke-width="1.3"/>
<text x="300.42" y="520.88" font-size="4.5" fill="#999" text-anchor="middle" dominant-baseline="central" transform="rotate(430.97 300.42 520.88)">40</text>
<path d="M310.64,530.43 L308.69,524.44" stroke="#111" stroke-width="1.3"/>
<text x="306.83" y="518.74" font-size="4.5" fill="#999" text-anchor="middle" dominant-baseline="central" transform="rotate(431.94 306.83 518.74)">60</text>
<path d="M321.09,527.19 A388.20,388.20 0 0 1 335.83,523.15 L342.30,548.74 A361.80,361.80 0 0 0 328.56,552.50 Z" fill="#fb6a4a"/>
<text x="333.25" y="542.65" font-weight="bold" font-size="13.5" text-anchor="middle" dominant-baseline="central" transform="rotate(-15.32 333.25 542.65)">21</text>
<path d="M321.09,527.19 L319.30,521.14" stroke="#111" stroke-width="1.3"/>
<text x="317.60" y="515.39" font-size="4.5" fill="#999" text-anchor="middle" dominant-baseline="central" transform="rotate(433.55 317.60 515.39)">0</text>
<path d="M327.38,525.39 L325.70,519.31" stroke="#111" stroke-width="1.3"/>
<text x="324.10" y="513.53" font-size="4.5" fill="#999" text-anchor="middle" dominant-baseline="central" transform="rotate(434.52 324.10 513.53)">20</text>
<path d="M333.70,523.69 L332.12,517.59" stroke="#111" stroke-width="1.3"/>
<text x="330.62" y="511.78" font-size="4.5" fill="#999" text-anchor="middle" dominant-baseline="central" transform="rotate(435.48 330.62 511.78)">40</text>
<path d="M345.05,520.93 A388.20,388.20 0 0 1 361.34,517.60 L366.08,543.57 A361.80,361.80 0 0 0 350.90,546.68 Z" fill="#fb6a4a"/>
<text x="356.83" y="537.01" font-weight="bold" font-size="13.5" text-anchor="middle" dominant-baseline="central" transform="rotate(-11.56 356.83 537.01)">22</text>
<path d="M345.05,520.93 L343.66,514.79" stroke="#111" stroke-width="1.3"/>
<text x="342.33" y="508.94" font-size="4.5" fill="#999" text-anchor="middle" dominant-baseline="central" transform="rotate(437.21 342.33 508.94)">0</text>
<path d="M351.45,519.54 L350.16,513.37" stroke="#111" stroke-width="1.3"/>
<text x="348.93" y="507.50" font-size="4.5" fill="#999" text-anchor="middle" dominant-baseline="central" transform="rotate(438.17 348.93 507.50)">20</text>
<path d="M357.86,518.25 L356.68,512.06" stroke="#111" stroke-width="1.3"/>
<text x="355.55" y="506.17" font-size="4.5" fill="#999" text-anchor="middle" dominant-baseline="central" transform="rotate(439.14 355.55 506.17)">40</text>
<path d="M370.70,516.01 A388.20,388.20 0 0 1 421.52,511.42 L422.16,537.81 A361.80,361.80 0 0 0 374.80,542.09 Z" fill="#fb6a4a"/>
<text x="397.67" y="531.00" font-size="15" text-anchor="middle" dominant-baseline="central" transform="rotate(-5.17 397.67 531.00)">x</text>
<path d="M370.70,516.01 L369.72,509.79" stroke="#111" stroke-width="1.3"/>
<text x="368.78" y="503.86" font-size="4.5" fill="#999" text-anchor="middle" dominant-baseline="central" transform="rotate(441.06 368.78 503.86)">0</text>
<path d="M377.17,515.05 L376.30,508.81" stroke="#111" stroke-width="1.3"/>
<text x="375.46" y="502.87" font-size="4.5" fill="#999" text-anchor="middle" dominant-baseline="central" transform="rotate(442.03 375.46 502.87)">20</text>
<path d="M383.66,514.20 L382.89,507.94" stroke="#111" stroke-width="1.3"/>
<text x="382.16" y="501.99" font-size="4.5" fill="#999" text-anchor="middle" dominant-baseline="central" transform="rotate(443.00 382.16 501.99)">40</text>
<path d="M390.16,513.45 L389.50,507.19" stroke="#111" stroke-width="1.3"/>
<text x="388.87" y="501.22" font-size="4.5" fill="#999" text-anchor="middle" dominant-baseline="central" transform="rotate(443.96 388.87 501.22)">60</text>
<path d="M396.67,512.82 L396.12,506.55" stroke="#111" stroke-width="1.3"/>
<text x="395.59" y="500.57" font-size="4.5" fill="#999" text-anchor="middle" dominant-baseline="central" transform="rotate(444.93 395.59 500.57)">80</text>
<path d="M403.20,512.30 L402.75,506.01" stroke="#111" stroke-width="1.3"/>
<text x="402.32" y="500.03" font-size="4.5" fill="#999" text-anchor="middle" dominant-baseline="central" transform="rotate(445.89 402.32 500.03)">100</text>
<path d="M409.73,511.88 L409.39,505.59" stroke="#111" stroke-width="1.3"/>
<text x="409.06" y="499.60" font-size="4.5" fill="#999" text-anchor="middle" dominant-baseline="central" transform="rotate(446.86 409.06 499.60)">120</text>
<path d="M416.27,511.58 L416.03,505.28" stroke="#111" stroke-width="1.3"/>
<text x="415.80" y="499.29" font-size="4.5" fill="#999" text-anchor="middle" dominant-baseline="central" transform="rotate(447.83 415.80 499.29)">140</text>
<path d="M431.00,511.30 L431.00,505.00" stroke="#111" stroke-width="1.3"/>
<text x="431.00" y="499.00" font-size="4.5" fill="#999" text-anchor="middle" dominant-baseline="central" transform="rotate(-90.00 431.00 499.00)">0</text>
<path d="M621.24,561.11 L624.33,555.62" stroke="#111" stroke-width="1.3"/>
<text x="627.27" y="550.39" font-size="4.5" fill="#999" text-anchor="middle" dominant-baseline="central" transform="rotate(-60.66 627.27 550.39)">20</text>
<path d="M762.67,697.76 L768.05,694.49" stroke="#111" stroke-width="1.3"/>
<text x="773.17" y="691.37" font-size="4.5" fill="#999" text-anchor="middle" dominant-baseline="central" transform="rotate(-31.31 773.17 691.37)">40</text>
<path d="M818.97,886.19 L825.27,885.97" stroke="#111" stroke-width="1.3"/>
<text x="831.26" y="885.77" font-size="4.5" fill="#999" text-anchor="middle" dominant-baseline="central" transform="rotate(-1.97 831.26 885.77)">60</text>
<path d="M775.71,1078.03 L781.31,1080.92" stroke="#111" stroke-width="1.3"/>
<text x="786.64" y="1083.68" font-size="4.5" fill="#999" text-anchor="middle" dominant-baseline="central" transform="rotate(27.38 786.64 1083.68)">80</text>
<path d="M643.99,1224.05 L647.45,1229.32" stroke="#111" stroke-width="1.3"/>
<text x="650.74" y="1234.34" font-size="4.5" fill="#999" text-anchor="middle" dominant-baseline="central" transform="rotate(56.72 650.74 1234.34)">100</text>
<path d="M457.61,1286.79 L458.04,1293.07" stroke="#111" stroke-width="1.3"/>
<text x="458.45" y="1299.06" font-size="4.5" fill="#999" text-anchor="middle" dominant-baseline="central" transform="rotate(86.07 458.45 1299.06)">120</text>
<text x="801.00" y="899.50" font-size="13" font-weight="bold" text-anchor="middle" dominant-baseline="central" transform="rotate(90 801.00 899.50)" fill="#111">CFA1</text>
<path d="M430.07,543.50 A356.0,356.0 0 0 1 446.47,543.84 L445.13,571.56 L443.59,597.64 L441.80,622.01 L439.75,644.61 L437.41,665.36 L434.74,684.23 L431.73,701.15 L428.35,716.09 L424.58,729.02 L420.40,739.89 L415.79,748.70 L410.74,755.41 L405.23,760.02 L399.24,762.52 L392.76,762.91 L385.78,761.20 L378.29,757.39 L370.28,751.52 L361.74,743.59 L352.67,733.64 L343.06,721.71 L332.90,707.84 L322.20,692.08 L310.96,674.47 L299.18,655.08 L286.85,633.99 L273.98,611.24 L260.59,586.94 A356.0,356.0 0 0 1 271.04,581.46 L283.61,606.20 L295.65,629.36 L307.17,650.87 L318.15,670.65 L328.58,688.64 L338.47,704.76 L347.82,718.98 L356.62,731.23 L364.87,741.47 L372.58,749.67 L379.74,755.80 L386.38,759.84 L392.48,761.76 L398.07,761.55 L403.15,759.21 L407.73,754.74 L411.83,748.15 L415.46,739.44 L418.63,728.64 L421.36,715.77 L423.68,700.87 L425.60,683.97 L427.14,665.11 L428.33,644.35 L429.19,621.75 L429.75,597.36 L430.03,571.25 L430.07,543.50 Z" fill="#dcdcdc" stroke="#fff" stroke-width="0.9" stroke-linejoin="round"/>
<path d="M446.22,543.83 A356.0,356.0 0 0 1 464.56,545.09 L461.81,572.71 L458.90,598.69 L455.81,622.96 L452.51,645.45 L448.98,666.11 L445.19,684.88 L441.12,701.71 L436.74,716.57 L432.03,729.41 L426.98,740.21 L421.55,748.95 L415.75,755.60 L409.54,760.16 L402.91,762.61 L395.86,762.96 L388.36,761.22 L380.40,757.39 L371.97,751.50 L363.07,743.56 L353.69,733.61 L343.81,721.68 L333.44,707.81 L322.56,692.05 L311.18,674.45 L299.30,655.07 L286.90,633.98 L274.00,611.24 L260.59,586.94 A356.0,356.0 0 0 1 271.04,581.46 L283.62,606.20 L295.70,629.36 L307.27,650.86 L318.34,670.63 L328.90,688.60 L338.95,704.72 L348.49,718.92 L357.53,731.16 L366.06,741.40 L374.09,749.60 L381.63,755.73 L388.68,759.77 L395.25,761.69 L401.35,761.49 L407.00,759.17 L412.20,754.71 L416.97,748.14 L421.32,739.45 L425.28,728.68 L428.85,715.84 L432.06,700.97 L434.92,684.10 L437.47,665.28 L439.72,644.55 L441.69,621.98 L443.41,597.62 L444.91,571.55 L446.22,543.83 Z" fill="#dcdcdc" stroke="#fff" stroke-width="0.9" stroke-linejoin="round"/>
<path d="M464.94,545.12 A356.0,356.0 0 0 1 480.85,547.01 L476.82,574.47 L472.68,600.30 L468.42,624.42 L464.00,646.77 L459.40,667.28 L454.60,685.92 L449.57,702.62 L444.29,717.35 L438.74,730.08 L432.90,740.78 L426.74,749.42 L420.26,755.98 L413.42,760.46 L406.23,762.84 L398.65,763.14 L390.68,761.34 L382.30,757.47 L373.51,751.55 L364.28,743.58 L354.61,733.61 L344.50,721.67 L333.93,707.79 L322.89,692.03 L311.38,674.43 L299.40,655.06 L286.95,633.97 L274.01,611.24 L260.59,586.94 A356.0,356.0 0 0 1 271.04,581.46 L283.63,606.20 L295.75,629.35 L307.40,650.84 L318.57,670.61 L329.28,688.57 L339.51,704.69 L349.28,718.89 L358.59,731.13 L367.44,741.38 L375.85,749.59 L383.81,755.74 L391.34,759.80 L398.45,761.76 L405.16,761.60 L411.46,759.32 L417.38,754.92 L422.93,748.41 L428.13,739.79 L432.99,729.09 L437.53,716.34 L441.77,701.55 L445.74,684.78 L449.44,666.05 L452.91,645.43 L456.17,622.96 L459.25,598.71 L462.16,572.74 L464.94,545.12 Z" fill="#dcdcdc" stroke="#fff" stroke-width="0.9" stroke-linejoin="round"/>
<path d="M482.45,547.24 A356.0,356.0 0 0 1 491.90,548.75 L487.00,576.08 L482.03,601.77 L476.97,625.75 L471.79,647.97 L466.47,668.36 L460.99,686.87 L455.31,703.46 L449.42,718.08 L443.30,730.71 L436.92,741.31 L430.27,749.87 L423.32,756.35 L416.06,760.76 L408.48,763.08 L400.55,763.32 L392.26,761.48 L383.60,757.57 L374.55,751.61 L365.10,743.62 L355.24,733.63 L344.96,721.68 L334.26,707.79 L323.11,692.02 L311.52,674.43 L299.48,655.05 L286.98,633.97 L274.01,611.24 L260.59,586.94 A356.0,356.0 0 0 1 271.04,581.46 L283.64,606.19 L295.80,629.34 L307.51,650.83 L318.79,670.59 L329.63,688.56 L340.03,704.68 L350.02,718.89 L359.58,731.14 L368.74,741.41 L377.49,749.65 L385.86,755.84 L393.84,759.95 L401.46,761.96 L408.72,761.87 L415.64,759.67 L422.23,755.35 L428.51,748.93 L434.50,740.42 L440.21,729.84 L445.66,717.21 L450.87,702.56 L455.86,685.93 L460.65,667.35 L465.27,646.88 L469.73,624.58 L474.07,600.49 L478.30,574.68 L482.45,547.24 Z" fill="#dcdcdc" stroke="#fff" stroke-width="0.9" stroke-linejoin="round"/>
<path d="M500.45,550.34 A356.0,356.0 0 0 1 510.17,552.42 L503.83,579.45 L497.49,604.85 L491.11,628.56 L484.68,650.50 L478.17,670.63 L471.55,688.90 L464.80,705.25 L457.91,719.65 L450.84,732.07 L443.58,742.48 L436.10,750.85 L428.39,757.17 L420.43,761.43 L412.21,763.63 L403.69,763.75 L394.88,761.81 L385.74,757.82 L376.27,751.79 L366.46,743.74 L356.29,733.71 L345.74,721.72 L334.81,707.81 L323.48,692.03 L311.75,674.42 L299.60,655.05 L287.03,633.96 L274.03,611.24 L260.59,586.94 A356.0,356.0 0 0 1 271.04,581.46 L283.66,606.19 L295.85,629.34 L307.63,650.83 L319.01,670.59 L329.99,688.56 L340.57,704.69 L350.78,718.91 L360.61,731.20 L370.08,741.50 L379.19,749.79 L387.97,756.04 L396.42,760.22 L404.56,762.31 L412.39,762.32 L419.94,760.23 L427.23,756.04 L434.26,749.76 L441.05,741.40 L447.63,730.98 L454.01,718.53 L460.22,704.07 L466.26,687.64 L472.17,669.27 L477.96,649.03 L483.66,626.95 L489.29,603.10 L494.88,577.54 L500.45,550.34 Z" fill="#dcdcdc" stroke="#fff" stroke-width="0.9" stroke-linejoin="round"/>
<path d="M508.96,552.14 A356.0,356.0 0 0 1 518.03,554.30 L511.07,581.19 L504.13,606.44 L497.19,630.01 L490.22,651.81 L483.19,671.81 L476.09,689.94 L468.88,706.17 L461.55,720.46 L454.08,732.78 L446.44,743.08 L438.61,751.37 L430.58,757.61 L422.32,761.79 L413.81,763.92 L405.05,763.98 L396.00,761.99 L386.67,757.95 L377.02,751.89 L367.05,743.81 L356.74,733.75 L346.07,721.74 L335.05,707.82 L323.64,692.03 L311.85,674.42 L299.65,655.05 L287.05,633.96 L274.03,611.24 L260.59,586.94 A356.0,356.0 0 0 1 271.04,581.46 L283.66,606.19 L295.88,629.34 L307.69,650.83 L319.12,670.59 L330.16,688.56 L340.83,704.70 L351.14,718.94 L361.10,731.24 L370.71,741.57 L380.00,749.88 L388.97,756.16 L397.64,760.38 L406.02,762.53 L414.13,762.59 L421.98,760.56 L429.59,756.45 L436.97,750.25 L444.15,741.98 L451.14,731.65 L457.96,719.30 L464.64,704.95 L471.18,688.64 L477.61,670.39 L483.96,650.28 L490.25,628.33 L496.49,604.62 L502.72,579.20 L508.96,552.14 Z" fill="#dcdcdc" stroke="#fff" stroke-width="0.9" stroke-linejoin="round"/>
<path d="M518.63,554.45 A356.0,356.0 0 0 1 527.03,556.70 L519.37,583.39 L511.75,608.46 L504.16,631.84 L496.57,653.47 L488.96,673.30 L481.30,691.28 L473.56,707.36 L465.74,721.50 L457.80,733.68 L449.72,743.86 L441.49,752.03 L433.08,758.17 L424.48,762.26 L415.66,764.30 L406.60,764.28 L397.30,762.23 L387.73,758.13 L377.88,752.02 L367.72,743.90 L357.25,733.81 L346.46,721.78 L335.32,707.84 L323.82,692.04 L311.96,674.43 L299.72,655.05 L287.08,633.96 L274.04,611.24 L260.59,586.94 A356.0,356.0 0 0 1 271.04,581.46 L283.67,606.19 L295.90,629.34 L307.76,650.83 L319.24,670.59 L330.36,688.57 L341.12,704.72 L351.55,718.97 L361.65,731.30 L371.43,741.65 L380.92,750.01 L390.11,756.33 L399.03,760.61 L407.69,762.82 L416.11,762.96 L424.30,761.01 L432.28,756.98 L440.06,750.89 L447.68,742.73 L455.14,732.52 L462.46,720.30 L469.66,706.09 L476.77,689.92 L483.80,671.84 L490.78,651.88 L497.73,630.10 L504.68,606.57 L511.63,581.33 L518.63,554.45 Z" fill="#dcdcdc" stroke="#fff" stroke-width="0.9" stroke-linejoin="round"/>
<path d="M525.84,556.36 A356.0,356.0 0 0 1 533.60,558.60 L525.42,585.15 L517.31,610.07 L509.24,633.31 L501.20,654.80 L493.16,674.49 L485.09,692.34 L476.98,708.30 L468.79,722.33 L460.51,734.40 L452.12,744.49 L443.59,752.56 L434.91,758.61 L426.05,762.63 L417.00,764.60 L407.74,764.53 L398.25,762.42 L388.51,758.28 L378.50,752.13 L368.22,743.98 L357.63,733.87 L346.74,721.82 L335.52,707.86 L323.96,692.05 L312.04,674.43 L299.76,655.05 L287.10,633.96 L274.04,611.24 L260.59,586.94 A356.0,356.0 0 0 1 271.04,581.46 L283.67,606.19 L295.93,629.34 L307.81,650.83 L319.33,670.60 L330.50,688.58 L341.34,704.74 L351.86,719.01 L362.07,731.35 L371.98,741.73 L381.60,750.12 L390.96,756.48 L400.07,760.80 L408.93,763.07 L417.58,763.26 L426.02,761.38 L434.28,757.43 L442.37,751.42 L450.31,743.35 L458.11,733.25 L465.81,721.13 L473.41,707.04 L480.94,690.99 L488.42,673.03 L495.87,653.21 L503.31,631.57 L510.77,608.18 L518.27,583.09 L525.84,556.36 Z" fill="#dcdcdc" stroke="#fff" stroke-width="0.9" stroke-linejoin="round"/>
<path d="M531.81,558.07 A356.0,356.0 0 0 1 539.53,560.45 L530.88,586.84 L522.33,611.62 L513.84,634.72 L505.39,656.08 L496.96,675.65 L488.53,693.37 L480.06,709.21 L471.55,723.13 L462.96,735.10 L454.28,745.09 L445.49,753.08 L436.56,759.05 L427.48,762.99 L418.22,764.90 L408.77,764.77 L399.10,762.61 L389.21,758.43 L379.07,752.24 L368.66,744.06 L357.98,733.92 L347.00,721.85 L335.70,707.88 L324.08,692.06 L312.12,674.43 L299.80,655.05 L287.12,633.96 L274.05,611.24 L260.59,586.94 A356.0,356.0 0 0 1 271.04,581.46 L283.68,606.19 L295.94,629.34 L307.85,650.83 L319.41,670.60 L330.63,688.59 L341.53,704.75 L352.12,719.04 L362.41,731.40 L372.42,741.80 L382.17,750.22 L391.67,756.62 L400.93,760.98 L409.97,763.29 L418.81,763.54 L427.46,761.72 L435.94,757.84 L444.28,751.90 L452.49,743.91 L460.58,733.90 L468.58,721.88 L476.51,707.88 L484.39,691.94 L492.24,674.10 L500.08,654.39 L507.94,632.88 L515.83,609.62 L523.78,584.66 L531.81,558.07 Z" fill="#dcdcdc" stroke="#fff" stroke-width="0.9" stroke-linejoin="round"/>
<path d="M545.43,562.39 A356.0,356.0 0 0 1 569.24,571.44 L558.26,596.96 L547.47,620.89 L536.84,643.17 L526.36,663.73 L515.99,682.53 L505.72,699.53 L495.52,714.68 L485.38,727.95 L475.26,739.32 L465.15,748.74 L455.02,756.20 L444.86,761.70 L434.63,765.20 L424.33,766.72 L413.93,766.24 L403.41,763.78 L392.74,759.33 L381.92,752.92 L370.91,744.56 L359.71,734.27 L348.28,722.08 L336.62,708.02 L324.70,692.14 L312.50,674.47 L300.01,655.06 L287.20,633.96 L274.07,611.24 L260.59,586.94 A356.0,356.0 0 0 1 271.04,581.46 L283.69,606.19 L295.98,629.34 L307.94,650.83 L319.58,670.61 L330.91,688.62 L341.94,704.81 L352.70,719.12 L363.20,731.53 L373.45,741.99 L383.47,750.48 L393.28,756.97 L402.89,761.43 L412.33,763.86 L421.60,764.24 L430.73,762.58 L439.74,758.87 L448.64,753.12 L457.46,745.34 L466.21,735.55 L474.92,723.77 L483.60,710.03 L492.27,694.36 L500.96,676.80 L509.69,657.40 L518.48,636.20 L527.35,613.26 L536.33,588.64 L545.43,562.39 Z" fill="#dcdcdc" stroke="#fff" stroke-width="0.9" stroke-linejoin="round"/>
<path d="M570.39,571.92 A356.0,356.0 0 0 1 587.90,579.94 L575.45,604.79 L563.26,628.07 L551.29,649.70 L539.53,669.66 L527.95,687.87 L516.53,704.31 L505.24,718.93 L494.07,731.71 L483.00,742.60 L471.99,751.59 L461.02,758.65 L450.08,763.77 L439.15,766.94 L428.19,768.16 L417.19,767.41 L406.13,764.71 L394.98,760.06 L383.73,753.47 L372.34,744.96 L360.81,734.56 L349.10,722.27 L337.21,708.15 L325.09,692.21 L312.75,674.51 L300.14,655.07 L287.26,633.97 L274.08,611.24 L260.59,586.94 A356.0,356.0 0 0 1 271.04,581.46 L283.71,606.19 L296.06,629.34 L308.12,650.84 L319.90,670.65 L331.43,688.69 L342.72,704.94 L353.79,719.33 L364.66,731.85 L375.35,742.44 L385.87,751.09 L396.25,757.77 L406.51,762.46 L416.67,765.16 L426.74,765.84 L436.75,764.52 L446.71,761.18 L456.65,755.84 L466.59,748.52 L476.54,739.22 L486.53,727.96 L496.59,714.78 L506.72,699.71 L516.95,682.78 L527.30,664.04 L537.80,643.53 L548.47,621.30 L559.32,597.41 L570.39,571.92 Z" fill="#dcdcdc" stroke="#fff" stroke-width="0.9" stroke-linejoin="round"/>
<path d="M586.22,579.12 A356.0,356.0 0 0 1 601.14,586.79 L587.66,611.10 L574.47,633.85 L561.55,654.97 L548.88,674.43 L536.44,692.18 L524.21,708.17 L512.15,722.37 L500.26,734.74 L488.50,745.25 L476.85,753.89 L465.30,760.63 L453.81,765.46 L442.36,768.36 L430.94,769.33 L419.52,768.37 L408.08,765.48 L396.58,760.66 L385.02,753.93 L373.37,745.30 L361.60,734.80 L349.69,722.44 L337.63,708.25 L325.38,692.27 L312.92,674.54 L300.24,655.09 L287.30,633.97 L274.09,611.24 L260.59,586.94 A356.0,356.0 0 0 1 271.04,581.46 L283.72,606.19 L296.11,629.34 L308.23,650.86 L320.11,670.68 L331.76,688.76 L343.22,705.04 L354.48,719.50 L365.59,732.10 L376.56,742.79 L387.41,751.57 L398.16,758.40 L408.83,763.26 L419.44,766.16 L430.02,767.07 L440.58,766.00 L451.15,762.95 L461.75,757.92 L472.39,750.94 L483.11,742.00 L493.92,731.14 L504.84,718.39 L515.89,703.76 L527.10,687.31 L538.48,669.06 L550.07,649.06 L561.87,627.37 L573.92,604.04 L586.22,579.12 Z" fill="#dcdcdc" stroke="#fff" stroke-width="0.9" stroke-linejoin="round"/>
<path d="M600.87,586.64 A356.0,356.0 0 0 1 607.65,590.42 L593.66,614.44 L579.98,636.91 L566.59,657.77 L553.48,676.97 L540.62,694.46 L527.98,710.22 L515.55,724.19 L503.30,736.35 L491.20,746.67 L479.25,755.12 L467.40,761.69 L455.64,766.36 L443.95,769.12 L432.30,769.96 L420.67,768.88 L409.04,765.89 L397.37,760.99 L385.66,754.18 L373.87,745.49 L361.99,734.93 L349.99,722.53 L337.84,708.31 L325.52,692.31 L313.01,674.55 L300.29,655.10 L287.32,633.97 L274.10,611.24 L260.59,586.94 A356.0,356.0 0 0 1 271.04,581.46 L283.73,606.19 L296.15,629.35 L308.34,650.87 L320.30,670.72 L332.08,688.83 L343.68,705.16 L355.14,719.69 L366.46,732.37 L377.69,743.17 L388.84,752.08 L399.92,759.06 L410.98,764.11 L422.01,767.22 L433.06,768.37 L444.14,767.56 L455.27,764.81 L466.47,760.11 L477.77,753.47 L489.19,744.92 L500.75,734.48 L512.47,722.16 L524.38,708.00 L536.49,692.04 L548.83,674.31 L561.41,654.85 L574.27,633.72 L587.41,610.96 L600.87,586.64 Z" fill="#dcdcdc" stroke="#fff" stroke-width="0.9" stroke-linejoin="round"/>
<path d="M606.57,589.81 A356.0,356.0 0 0 1 616.74,595.80 L602.03,619.39 L587.67,641.45 L573.64,661.91 L559.90,680.72 L546.45,697.85 L533.26,713.25 L520.30,726.89 L507.55,738.73 L494.99,748.76 L482.59,756.94 L470.34,763.25 L458.21,767.69 L446.17,770.24 L434.20,770.89 L422.28,769.65 L410.38,766.50 L398.48,761.47 L386.56,754.55 L374.59,745.76 L362.54,735.13 L350.40,722.66 L338.13,708.40 L325.72,692.36 L313.13,674.58 L300.35,655.11 L287.35,633.98 L274.10,611.24 L260.59,586.94 A356.0,356.0 0 0 1 271.04,581.46 L283.73,606.19 L296.17,629.35 L308.38,650.88 L320.38,670.73 L332.20,688.86 L343.86,705.21 L355.39,719.77 L366.81,732.48 L378.13,743.33 L389.40,752.30 L400.62,759.35 L411.82,764.47 L423.02,767.67 L434.25,768.92 L445.53,768.23 L456.87,765.59 L468.31,761.03 L479.87,754.55 L491.56,746.16 L503.42,735.88 L515.45,723.75 L527.69,709.79 L540.15,694.03 L552.86,676.51 L565.83,657.29 L579.10,636.39 L592.67,613.88 L606.57,589.81 Z" fill="#dcdcdc" stroke="#fff" stroke-width="0.9" stroke-linejoin="round"/>
<path d="M616.74,595.80 A356.0,356.0 0 0 1 621.49,598.75 L606.41,622.12 L591.69,643.94 L577.31,664.18 L563.26,682.78 L549.50,699.71 L536.01,714.92 L522.78,728.37 L509.77,740.05 L496.97,749.91 L484.34,757.94 L471.88,764.12 L459.55,768.43 L447.33,770.86 L435.19,771.41 L423.12,770.07 L411.08,766.84 L399.06,761.73 L387.03,754.75 L374.96,745.91 L362.83,735.24 L350.61,722.74 L338.29,708.44 L325.82,692.39 L313.20,674.60 L300.39,655.11 L287.37,633.98 L274.11,611.24 L260.59,586.94 A356.0,356.0 0 0 1 271.04,581.46 L283.74,606.19 L296.20,629.36 L308.45,650.89 L320.52,670.76 L332.42,688.92 L344.19,705.31 L355.85,719.92 L367.42,732.71 L378.93,743.64 L390.40,752.71 L401.85,759.89 L413.32,765.16 L424.82,768.52 L436.37,769.96 L448.01,769.48 L459.74,767.09 L471.61,762.78 L483.62,756.58 L495.80,748.49 L508.17,738.55 L520.76,726.76 L533.59,713.17 L546.68,697.80 L560.04,680.70 L573.71,661.90 L587.70,641.45 L602.04,619.39 L616.74,595.80 Z" fill="#dcdcdc" stroke="#fff" stroke-width="0.9" stroke-linejoin="round"/>
<path d="M631.87,605.58 A356.0,356.0 0 0 1 642.01,612.77 L625.31,635.03 L609.06,655.78 L593.21,674.97 L577.76,692.57 L562.67,708.54 L547.93,722.84 L533.51,735.43 L519.38,746.28 L505.53,755.38 L491.93,762.70 L478.55,768.22 L465.37,771.93 L452.36,773.81 L439.51,773.86 L426.78,772.08 L414.15,768.46 L401.59,763.01 L389.08,755.73 L376.59,746.65 L364.09,735.77 L351.55,723.10 L338.96,708.68 L326.28,692.53 L313.49,674.67 L300.55,655.15 L287.44,633.99 L274.13,611.24 L260.59,586.94 A356.0,356.0 0 0 1 271.04,581.46 L283.75,606.19 L296.25,629.36 L308.57,650.92 L320.73,670.82 L332.76,689.02 L344.69,705.48 L356.54,720.18 L368.34,733.08 L380.12,744.16 L391.90,753.40 L403.71,760.78 L415.57,766.29 L427.51,769.93 L439.55,771.68 L451.71,771.54 L464.03,769.53 L476.51,765.65 L489.20,759.90 L502.10,752.32 L515.25,742.90 L528.67,731.69 L542.37,718.70 L556.39,703.97 L570.73,687.53 L585.43,669.43 L600.51,649.71 L615.98,628.41 L631.87,605.58 Z" fill="#dcdcdc" stroke="#fff" stroke-width="0.9" stroke-linejoin="round"/>
<path d="M641.26,612.22 A356.0,356.0 0 0 1 650.91,619.54 L633.21,641.39 L615.38,662.11 L597.48,681.84 L579.52,700.68 L561.53,718.73 L543.53,736.10 L525.52,752.87 L507.53,769.12 L489.54,784.94 L471.55,800.38 L453.56,815.52 L435.54,830.40 L417.47,845.07 L399.33,859.57 L381.08,873.94 L362.68,888.20 L344.09,902.36 L325.25,916.44 L306.12,930.44 L286.63,944.36 L266.71,958.19 L246.28,971.90 L225.28,985.48 L203.60,998.89 L181.17,1012.09 L157.89,1025.04 L133.65,1037.68 L108.35,1049.95 A356.0,356.0 0 0 1 101.86,1035.16 L127.68,1024.06 L152.41,1012.55 L176.17,1000.69 L199.05,988.52 L221.14,976.08 L242.52,963.42 L263.27,950.55 L283.47,937.49 L303.19,924.27 L322.50,910.89 L341.44,897.35 L360.08,883.64 L378.47,869.76 L396.65,855.69 L414.65,841.39 L432.52,826.85 L450.27,812.01 L467.94,796.84 L485.54,781.29 L503.09,765.29 L520.58,748.79 L538.03,731.70 L555.43,713.96 L572.78,695.48 L590.05,676.17 L607.24,655.92 L624.32,634.64 L641.26,612.22 Z" fill="#dcdcdc" stroke="#fff" stroke-width="0.9" stroke-linejoin="round"/>
<path d="M649.93,618.78 A356.0,356.0 0 0 1 655.28,623.03 L637.23,644.60 L619.08,665.05 L600.86,684.51 L582.60,703.09 L564.33,720.89 L546.05,738.01 L527.79,754.55 L509.56,770.59 L491.34,786.21 L473.14,801.47 L454.95,816.43 L436.75,831.15 L418.51,845.69 L400.22,860.06 L381.83,874.32 L363.30,888.48 L344.60,902.57 L325.67,916.58 L306.45,930.53 L286.88,944.41 L266.89,958.21 L246.41,971.91 L225.36,985.48 L203.66,998.88 L181.20,1012.09 L157.90,1025.04 L133.66,1037.68 L108.35,1049.95 A356.0,356.0 0 0 1 101.86,1035.16 L127.68,1024.06 L152.44,1012.54 L176.23,1000.67 L199.16,988.50 L221.31,976.07 L242.78,963.42 L263.64,950.59 L283.96,937.59 L303.84,924.44 L323.31,911.15 L342.46,897.74 L361.32,884.18 L379.96,870.48 L398.41,856.61 L416.72,842.55 L434.92,828.26 L453.04,813.72 L471.10,798.88 L489.12,783.68 L507.11,768.06 L525.08,751.96 L543.04,735.30 L560.98,718.01 L578.89,700.00 L596.77,681.18 L614.58,661.44 L632.31,640.68 L649.93,618.78 Z" fill="#dcdcdc" stroke="#fff" stroke-width="0.9" stroke-linejoin="round"/>
<path d="M654.31,622.25 A356.0,356.0 0 0 1 660.55,627.39 L642.08,648.61 L623.54,668.72 L604.94,687.84 L586.32,706.09 L567.70,723.58 L549.10,740.41 L530.53,756.66 L512.00,772.44 L493.52,787.80 L475.06,802.82 L456.64,817.57 L438.21,832.10 L419.78,846.46 L401.30,860.68 L382.74,874.80 L364.06,888.85 L345.22,902.83 L326.17,916.77 L306.84,930.65 L287.18,944.48 L267.12,958.24 L246.57,971.92 L225.47,985.47 L203.72,998.87 L181.24,1012.08 L157.92,1025.03 L133.66,1037.68 L108.35,1049.95 A356.0,356.0 0 0 1 101.86,1035.16 L127.69,1024.06 L152.45,1012.54 L176.26,1000.66 L199.21,988.49 L221.40,976.07 L242.91,963.43 L263.82,950.61 L284.22,937.64 L304.16,924.53 L323.73,911.30 L342.97,897.95 L361.95,884.47 L380.71,870.86 L399.31,857.10 L417.77,843.16 L436.14,829.02 L454.44,814.63 L472.69,799.96 L490.93,784.94 L509.15,769.53 L527.36,753.64 L545.58,737.21 L563.79,720.16 L581.99,702.40 L600.16,683.84 L618.29,664.36 L636.35,643.87 L654.31,622.25 Z" fill="#dcdcdc" stroke="#fff" stroke-width="0.9" stroke-linejoin="round"/>
<path d="M660.07,626.99 A356.0,356.0 0 0 1 690.30,655.57 L669.50,674.55 L648.72,692.45 L627.98,709.42 L607.33,725.58 L586.77,741.05 L566.34,755.95 L546.05,770.37 L525.89,784.42 L505.87,798.17 L485.99,811.69 L466.23,825.06 L446.57,838.34 L426.99,851.56 L407.47,864.78 L387.96,878.02 L368.42,891.30 L348.81,904.64 L329.07,918.03 L309.14,931.49 L288.95,944.99 L268.44,958.51 L247.52,972.01 L226.11,985.47 L204.12,998.83 L181.45,1012.02 L158.01,1024.99 L133.68,1037.67 L108.35,1049.95 A356.0,356.0 0 0 1 101.86,1035.16 L127.69,1024.05 L152.47,1012.53 L176.30,1000.65 L199.29,988.48 L221.52,976.06 L243.09,963.44 L264.07,950.65 L284.55,937.72 L304.60,924.66 L324.28,911.50 L343.65,898.24 L362.78,884.87 L381.71,871.39 L400.49,857.77 L419.15,844.01 L437.74,830.06 L456.28,815.88 L474.80,801.44 L493.31,786.68 L511.82,771.53 L530.36,755.94 L548.91,739.82 L567.47,723.09 L586.05,705.67 L604.62,687.46 L623.16,668.35 L641.65,648.23 L660.07,626.99 Z" fill="#dcdcdc" stroke="#fff" stroke-width="0.9" stroke-linejoin="round"/>
<path d="M700.29,666.65 A356.0,356.0 0 0 1 714.75,684.51 L692.04,701.18 L669.42,716.82 L646.94,731.58 L624.63,745.61 L602.50,759.03 L580.58,771.96 L558.88,784.52 L537.39,796.81 L516.13,808.91 L495.09,820.91 L474.24,832.87 L453.58,844.86 L433.07,856.93 L412.69,869.12 L392.40,881.45 L372.15,893.94 L351.89,906.61 L331.57,919.45 L311.13,932.45 L290.50,945.60 L269.60,958.85 L248.36,972.17 L226.68,985.51 L204.48,998.81 L181.65,1011.99 L158.10,1024.97 L133.70,1037.66 L108.35,1049.95 A356.0,356.0 0 0 1 101.86,1035.16 L127.72,1024.04 L152.60,1012.48 L176.60,1000.59 L199.83,988.43 L222.40,976.09 L244.39,963.61 L265.89,951.06 L286.98,938.48 L307.74,925.90 L328.25,913.35 L348.56,900.84 L368.74,888.38 L388.83,875.97 L408.90,863.61 L428.97,851.26 L449.10,838.89 L469.30,826.48 L489.61,813.98 L510.05,801.32 L530.63,788.44 L551.36,775.27 L572.24,761.72 L593.28,747.69 L614.46,733.10 L635.77,717.83 L657.20,701.75 L678.71,684.73 L700.29,666.65 Z" fill="#dcdcdc" stroke="#fff" stroke-width="0.9" stroke-linejoin="round"/>
<path d="M717.36,687.99 A356.0,356.0 0 0 1 725.27,699.14 L701.73,714.65 L678.33,729.15 L655.10,742.80 L632.08,755.75 L609.28,768.13 L586.73,780.08 L564.42,791.70 L542.38,803.10 L520.59,814.37 L499.05,825.60 L477.74,836.86 L456.65,848.20 L435.74,859.69 L414.99,871.35 L394.36,883.22 L373.80,895.31 L353.27,907.64 L332.70,920.20 L312.03,932.97 L291.20,945.93 L270.14,959.05 L248.75,972.27 L226.95,985.55 L204.65,998.81 L181.75,1011.98 L158.14,1024.96 L133.71,1037.65 L108.35,1049.95 A356.0,356.0 0 0 1 101.86,1035.16 L127.74,1024.03 L152.66,1012.47 L176.74,1000.57 L200.10,988.43 L222.81,976.13 L244.99,963.75 L266.72,951.34 L288.09,938.95 L309.17,926.64 L330.03,914.42 L350.75,902.33 L371.37,890.37 L391.97,878.54 L412.58,866.84 L433.25,855.25 L454.03,843.75 L474.93,832.28 L496.00,820.81 L517.24,809.27 L538.69,797.60 L560.34,785.72 L582.20,773.55 L604.27,760.97 L626.55,747.89 L649.02,734.18 L671.66,719.73 L694.45,704.38 L717.36,687.99 Z" fill="#dcdcdc" stroke="#fff" stroke-width="0.9" stroke-linejoin="round"/>
<path d="M726.66,701.20 A356.0,356.0 0 0 1 730.07,706.39 L706.16,721.32 L682.40,735.25 L658.84,748.36 L635.49,760.77 L612.39,772.65 L589.55,784.10 L566.97,795.26 L544.67,806.22 L522.64,817.08 L500.87,827.93 L479.35,838.84 L458.06,849.86 L436.98,861.06 L416.06,872.46 L395.27,884.10 L374.57,896.00 L353.91,908.16 L333.23,920.57 L312.46,933.23 L291.54,946.10 L270.39,959.15 L248.93,972.33 L227.07,985.57 L204.73,998.81 L181.79,1011.97 L158.16,1024.95 L133.72,1037.65 L108.35,1049.95 A356.0,356.0 0 0 1 101.86,1035.16 L127.75,1024.03 L152.70,1012.46 L176.83,1000.56 L200.25,988.43 L223.05,976.17 L245.34,963.84 L267.20,951.52 L288.72,939.26 L309.98,927.11 L331.04,915.11 L351.98,903.27 L372.85,891.62 L393.72,880.15 L414.63,868.87 L435.63,857.75 L456.75,846.77 L478.04,835.89 L499.51,825.06 L521.20,814.21 L543.11,803.29 L565.25,792.21 L587.64,780.88 L610.28,769.19 L633.14,757.04 L656.24,744.31 L679.54,730.85 L703.02,716.54 L726.66,701.20 Z" fill="#dcdcdc" stroke="#fff" stroke-width="0.9" stroke-linejoin="round"/>
<path d="M729.40,705.35 A356.0,356.0 0 0 1 750.29,742.05 L724.79,754.14 L699.54,765.30 L674.56,775.70 L649.87,785.51 L625.50,794.87 L601.46,803.93 L577.76,812.81 L554.39,821.62 L531.36,830.48 L508.66,839.46 L486.27,848.65 L464.16,858.10 L442.31,867.87 L420.69,878.01 L399.25,888.53 L377.96,899.45 L356.75,910.77 L335.57,922.49 L314.35,934.57 L293.03,946.99 L271.53,959.69 L249.77,972.62 L227.66,985.70 L205.10,998.84 L182.00,1011.96 L158.25,1024.93 L133.74,1037.64 L108.35,1049.95 A356.0,356.0 0 0 1 101.86,1035.16 L127.75,1024.03 L152.71,1012.45 L176.86,1000.56 L200.29,988.44 L223.13,976.18 L245.45,963.87 L267.35,951.58 L288.91,939.36 L310.22,927.26 L331.34,915.32 L352.34,903.57 L373.29,892.01 L394.24,880.66 L415.24,869.51 L436.33,858.54 L457.56,847.72 L478.96,837.02 L500.55,826.39 L522.37,815.77 L544.41,805.08 L566.71,794.25 L589.25,783.18 L612.05,771.78 L635.09,759.92 L658.37,747.49 L681.86,734.35 L705.54,720.35 L729.40,705.35 Z" fill="#dcdcdc" stroke="#fff" stroke-width="0.9" stroke-linejoin="round"/>
<path d="M750.83,743.16 A356.0,356.0 0 0 1 756.47,755.27 L730.50,766.31 L704.81,776.43 L679.41,785.81 L654.33,794.62 L629.59,803.01 L605.19,811.13 L581.14,819.09 L557.45,827.02 L534.09,835.01 L511.07,843.17 L488.36,851.56 L465.94,860.25 L443.77,869.29 L421.83,878.72 L400.08,888.56 L378.46,898.83 L356.92,909.53 L335.41,920.65 L313.86,932.15 L292.21,944.00 L270.38,956.15 L248.28,968.54 L225.84,981.09 L202.96,993.70 L179.55,1006.28 L155.49,1018.71 L130.69,1030.86 L105.02,1042.59 A356.0,356.0 0 0 0 105.02,1042.59 L130.68,1030.86 L155.46,1018.71 L179.48,1006.28 L202.84,993.68 L225.66,981.03 L248.02,968.43 L270.02,955.95 L291.75,943.68 L313.29,931.67 L334.70,919.97 L356.07,908.62 L377.45,897.64 L398.90,887.03 L420.48,876.81 L442.22,866.95 L464.18,857.43 L486.37,848.20 L508.84,839.23 L531.61,830.44 L554.69,821.77 L578.10,813.11 L601.84,804.38 L625.91,795.46 L650.30,786.22 L675.01,776.52 L700.02,766.23 L725.30,755.16 L750.83,743.16 Z" fill="#dcdcdc" stroke="#fff" stroke-width="0.9" stroke-linejoin="round"/>
<path d="M757.47,757.55 A356.0,356.0 0 0 1 771.90,796.90 L745.02,805.44 L719.01,814.50 L693.74,823.95 L669.13,833.67 L645.09,843.56 L621.53,853.50 L598.36,863.42 L575.51,873.25 L552.91,882.92 L530.49,892.38 L508.18,901.60 L485.92,910.55 L463.66,919.21 L441.35,927.59 L418.93,935.69 L396.37,943.54 L373.63,951.17 L350.67,958.63 L327.47,965.98 L304.00,973.28 L280.24,980.63 L256.17,988.11 L231.79,995.83 L207.08,1003.90 L182.05,1012.47 L156.69,1021.67 L131.01,1031.66 L105.02,1042.59 A356.0,356.0 0 0 0 105.02,1042.59 L131.03,1031.64 L156.77,1021.61 L182.20,1012.32 L207.31,1003.60 L232.08,995.29 L256.50,987.26 L280.58,979.39 L304.30,971.54 L327.68,963.63 L350.73,955.55 L373.47,947.24 L395.93,938.63 L418.12,929.67 L440.09,920.31 L461.88,910.55 L483.54,900.35 L505.11,889.73 L526.66,878.69 L548.25,867.26 L569.94,855.48 L591.82,843.41 L613.96,831.10 L636.44,818.63 L659.36,806.10 L682.82,793.60 L706.92,781.25 L731.77,769.19 L757.47,757.55 Z" fill="#dcdcdc" stroke="#fff" stroke-width="0.9" stroke-linejoin="round"/>
<path d="M775.74,810.67 A356.0,356.0 0 0 1 780.28,830.66 L752.73,836.53 L726.03,843.01 L700.08,849.98 L674.81,857.32 L650.12,864.95 L625.94,872.76 L602.20,880.69 L578.82,888.65 L555.73,896.61 L532.87,904.50 L510.18,912.30 L487.60,919.98 L465.08,927.53 L442.57,934.94 L420.01,942.24 L397.37,949.43 L374.61,956.54 L351.69,963.63 L328.58,970.74 L305.24,977.94 L281.66,985.30 L257.82,992.91 L233.69,1000.86 L209.25,1009.27 L184.51,1018.24 L159.45,1027.92 L134.06,1038.44 L108.35,1049.95 A356.0,356.0 0 0 1 101.86,1035.16 L128.09,1024.82 L153.97,1015.42 L179.52,1006.82 L204.73,998.84 L229.61,991.36 L254.15,984.24 L278.37,977.37 L302.29,970.64 L325.93,963.96 L349.30,957.25 L372.44,950.44 L395.38,943.48 L418.15,936.31 L440.80,928.91 L463.36,921.25 L485.88,913.33 L508.41,905.15 L531.01,896.72 L553.74,888.07 L576.66,879.24 L599.83,870.28 L623.34,861.25 L647.25,852.22 L671.64,843.30 L696.59,834.56 L722.20,826.12 L748.55,818.12 L775.74,810.67 Z" fill="#dcdcdc" stroke="#fff" stroke-width="0.9" stroke-linejoin="round"/>
<path d="M780.52,831.88 A356.0,356.0 0 0 1 786.59,882.42 L758.51,884.20 L731.24,886.72 L704.70,889.87 L678.83,893.55 L653.54,897.66 L628.78,902.14 L604.47,906.90 L580.56,911.89 L556.97,917.05 L533.66,922.34 L510.57,927.73 L487.64,933.20 L464.82,938.72 L442.07,944.31 L419.33,949.96 L396.56,955.69 L373.73,961.53 L350.78,967.52 L327.69,973.69 L304.41,980.10 L280.93,986.82 L257.20,993.93 L233.20,1001.49 L208.90,1009.62 L184.29,1018.42 L159.34,1027.98 L134.03,1038.45 L108.35,1049.95 A356.0,356.0 0 0 1 101.86,1035.16 L128.07,1024.82 L153.93,1015.45 L179.44,1006.89 L204.60,998.99 L229.42,991.63 L253.93,984.67 L278.12,978.00 L302.03,971.54 L325.67,965.19 L349.07,958.86 L372.27,952.51 L395.29,946.07 L418.18,939.50 L440.97,932.77 L463.70,925.86 L486.43,918.77 L509.20,911.49 L532.07,904.05 L555.10,896.46 L578.34,888.77 L601.86,881.03 L625.74,873.29 L650.03,865.64 L674.81,858.14 L700.17,850.91 L726.19,844.04 L752.94,837.65 L780.52,831.88 Z" fill="#dcdcdc" stroke="#fff" stroke-width="0.9" stroke-linejoin="round"/>
<path d="M786.87,889.87 A356.0,356.0 0 0 1 787.00,899.81 L758.88,900.21 L731.55,901.40 L704.94,903.27 L678.98,905.71 L653.62,908.65 L628.77,912.00 L604.38,915.70 L580.38,919.68 L556.72,923.90 L533.35,928.31 L510.20,932.89 L487.23,937.61 L464.38,942.46 L441.60,947.43 L418.86,952.53 L396.10,957.77 L373.27,963.19 L350.36,968.80 L327.30,974.66 L304.07,980.81 L280.64,987.32 L256.96,994.25 L233.02,1001.70 L208.78,1009.74 L184.21,1018.47 L159.30,1028.00 L134.02,1038.46 L108.35,1049.95 A356.0,356.0 0 0 1 101.86,1035.16 L128.04,1024.84 L153.81,1015.52 L179.19,1007.08 L204.20,999.38 L228.87,992.32 L253.21,985.78 L277.27,979.68 L301.06,973.93 L324.63,968.45 L348.00,963.17 L371.20,958.05 L394.29,953.04 L417.30,948.10 L440.27,943.21 L463.25,938.36 L486.28,933.53 L509.42,928.74 L532.71,923.99 L556.20,919.33 L579.96,914.77 L604.04,910.37 L628.50,906.18 L653.41,902.27 L678.82,898.71 L704.80,895.59 L731.42,893.01 L758.75,891.06 L786.87,889.87 Z" fill="#dcdcdc" stroke="#fff" stroke-width="0.9" stroke-linejoin="round"/>
<path d="M787.00,899.81 A356.0,356.0 0 0 1 786.81,910.99 L758.70,910.51 L731.37,910.84 L704.75,911.88 L678.77,913.53 L653.38,915.71 L628.51,918.33 L604.09,921.34 L580.07,924.68 L556.39,928.30 L533.00,932.15 L509.83,936.20 L486.85,940.44 L464.00,944.85 L441.23,949.43 L418.49,954.17 L395.74,959.10 L372.94,964.24 L350.05,969.62 L327.03,975.27 L303.83,981.26 L280.44,987.63 L256.80,994.46 L232.90,1001.83 L208.69,1009.81 L184.16,1018.50 L159.28,1028.02 L134.02,1038.46 L108.35,1049.95 A356.0,356.0 0 0 1 101.86,1035.16 L128.03,1024.84 L153.79,1015.53 L179.14,1007.11 L204.13,999.44 L228.76,992.43 L253.08,985.97 L277.10,979.96 L300.86,974.33 L324.40,968.99 L347.74,963.90 L370.94,958.99 L394.01,954.22 L417.01,949.56 L439.99,944.99 L462.97,940.48 L486.02,936.04 L509.17,931.68 L532.49,927.40 L556.02,923.24 L579.81,919.22 L603.94,915.39 L628.44,911.81 L653.38,908.55 L678.83,905.66 L704.85,903.25 L731.51,901.40 L758.87,900.22 L787.00,899.81 Z" fill="#dcdcdc" stroke="#fff" stroke-width="0.9" stroke-linejoin="round"/>
<path d="M786.83,910.37 A356.0,356.0 0 0 1 786.43,919.68 L758.34,918.52 L731.02,918.18 L704.41,918.57 L678.44,919.60 L653.04,921.19 L628.16,923.25 L603.74,925.73 L579.72,928.57 L556.03,931.71 L532.64,935.12 L509.48,938.77 L486.50,942.64 L463.65,946.71 L440.89,950.98 L418.17,955.45 L395.44,960.13 L372.66,965.06 L349.80,970.25 L326.80,975.75 L303.64,981.61 L280.28,987.88 L256.67,994.62 L232.80,1001.93 L208.63,1009.86 L184.12,1018.53 L159.26,1028.02 L134.01,1038.46 L108.35,1049.95 A356.0,356.0 0 0 1 101.86,1035.16 L128.03,1024.84 L153.77,1015.54 L179.10,1007.14 L204.05,999.51 L228.65,992.55 L252.92,986.16 L276.91,980.25 L300.64,974.75 L324.14,969.57 L347.46,964.66 L370.62,959.98 L393.68,955.47 L416.67,951.11 L439.63,946.87 L462.61,942.74 L485.66,938.71 L508.83,934.80 L532.16,931.02 L555.70,927.38 L579.52,923.94 L603.67,920.72 L628.20,917.79 L653.17,915.21 L678.64,913.05 L704.68,911.38 L731.35,910.32 L758.71,909.94 L786.83,910.37 Z" fill="#dcdcdc" stroke="#fff" stroke-width="0.9" stroke-linejoin="round"/>
<path d="M786.46,919.06 A356.0,356.0 0 0 1 785.08,936.40 L757.09,933.91 L729.85,932.30 L703.30,931.45 L677.37,931.29 L652.02,931.74 L627.17,932.72 L602.77,934.17 L578.77,936.04 L555.11,938.28 L531.74,940.84 L508.61,943.71 L485.66,946.86 L462.85,950.27 L440.14,953.95 L417.46,957.89 L394.79,962.11 L372.07,966.62 L349.27,971.46 L326.34,976.66 L303.25,982.27 L279.95,988.34 L256.42,994.93 L232.61,1002.11 L208.50,1009.97 L184.04,1018.58 L159.22,1028.04 L134.00,1038.46 L108.35,1049.95 A356.0,356.0 0 0 1 101.86,1035.16 L128.02,1024.84 L153.75,1015.55 L179.06,1007.16 L203.98,999.56 L228.55,992.65 L252.80,986.32 L276.75,980.49 L300.44,975.09 L323.92,970.04 L347.20,965.29 L370.34,960.79 L393.38,956.50 L416.35,952.38 L439.29,948.41 L462.27,944.59 L485.31,940.90 L508.47,937.37 L531.80,933.99 L555.35,930.79 L579.18,927.82 L603.33,925.11 L627.86,922.71 L652.84,920.69 L678.32,919.12 L704.35,918.08 L731.01,917.65 L758.36,917.94 L786.46,919.06 Z" fill="#dcdcdc" stroke="#fff" stroke-width="0.9" stroke-linejoin="round"/>
<path d="M784.92,937.95 A356.0,356.0 0 0 1 783.40,949.97 L755.44,946.40 L728.04,943.67 L701.16,941.62 L674.77,940.10 L648.83,938.98 L623.30,938.13 L598.13,937.45 L573.30,936.84 L548.75,936.21 L524.45,935.50 L500.35,934.63 L476.40,933.57 L452.57,932.28 L428.80,930.74 L405.05,928.94 L381.27,926.88 L357.42,924.57 L333.43,922.05 L309.27,919.36 L284.87,916.54 L260.20,913.67 L235.19,910.82 L209.79,908.08 L183.95,905.56 L157.60,903.37 L130.70,901.64 L103.19,900.50 L75.00,900.12 A356.0,356.0 0 0 1 75.11,890.80 L103.29,891.92 L130.80,893.76 L157.70,896.17 L184.05,899.00 L209.90,902.11 L235.31,905.38 L260.34,908.71 L285.03,911.99 L309.45,915.14 L333.64,918.10 L357.66,920.81 L381.55,923.23 L405.37,925.32 L429.17,927.07 L452.99,928.48 L476.87,929.56 L500.88,930.32 L525.04,930.82 L549.41,931.08 L574.03,931.18 L598.94,931.20 L624.19,931.21 L649.81,931.33 L675.85,931.67 L702.34,932.35 L729.32,933.52 L756.84,935.33 L784.92,937.95 Z" fill="#dcdcdc" stroke="#fff" stroke-width="0.9" stroke-linejoin="round"/>
<path d="M783.23,951.20 A356.0,356.0 0 0 1 782.07,958.56 L754.20,954.31 L726.89,950.92 L700.09,948.23 L673.77,946.09 L647.89,944.38 L622.42,942.96 L597.31,941.75 L572.52,940.63 L548.02,939.53 L523.77,938.38 L499.71,937.11 L475.81,935.67 L452.02,934.05 L428.30,932.20 L404.59,930.13 L380.86,927.83 L357.05,925.31 L333.11,922.62 L308.99,919.78 L284.64,916.84 L260.01,913.87 L235.04,910.95 L209.68,908.16 L183.87,905.60 L157.56,903.38 L130.68,901.64 L103.18,900.50 L75.00,900.12 A356.0,356.0 0 0 1 75.11,890.80 L103.28,891.92 L130.77,893.77 L157.63,896.20 L183.94,899.06 L209.74,902.22 L235.09,905.58 L260.06,909.01 L284.69,912.44 L309.05,915.78 L333.17,918.97 L357.13,921.95 L380.96,924.69 L404.72,927.15 L428.46,929.32 L452.22,931.20 L476.05,932.80 L500.00,934.14 L524.12,935.26 L548.43,936.20 L573.00,937.03 L597.86,937.82 L623.05,938.67 L648.60,939.65 L674.57,940.90 L700.98,942.54 L727.87,944.70 L755.27,947.53 L783.23,951.20 Z" fill="#dcdcdc" stroke="#fff" stroke-width="0.9" stroke-linejoin="round"/>
<path d="M782.17,957.95 A356.0,356.0 0 0 1 778.76,975.64 L751.15,970.04 L724.06,965.33 L697.47,961.36 L671.34,957.99 L645.63,955.10 L620.31,952.57 L595.34,950.29 L570.69,948.17 L546.32,946.12 L522.19,944.09 L498.25,942.02 L474.47,939.84 L450.79,937.54 L427.18,935.09 L403.59,932.48 L379.96,929.70 L356.26,926.78 L332.42,923.73 L308.41,920.59 L284.16,917.42 L259.62,914.26 L234.74,911.19 L209.46,908.29 L183.73,905.67 L157.47,903.41 L130.64,901.65 L103.17,900.50 L75.00,900.12 A356.0,356.0 0 0 1 75.11,890.80 L103.27,891.92 L130.75,893.77 L157.60,896.21 L183.88,899.09 L209.66,902.28 L234.98,905.67 L259.91,909.17 L284.51,912.67 L308.83,916.11 L332.92,919.41 L356.84,922.53 L380.63,925.43 L404.36,928.08 L428.06,930.47 L451.79,932.59 L475.58,934.45 L499.50,936.08 L523.58,937.52 L547.86,938.81 L572.39,940.01 L597.21,941.20 L622.35,942.46 L647.86,943.90 L673.78,945.61 L700.13,947.73 L726.96,950.39 L754.29,953.75 L782.17,957.95 Z" fill="#dcdcdc" stroke="#fff" stroke-width="0.9" stroke-linejoin="round"/>
<path d="M779.03,974.43 A356.0,356.0 0 0 1 776.35,985.93 L748.92,979.51 L722.01,974.00 L695.57,969.26 L669.57,965.16 L644.00,961.55 L618.80,958.34 L593.95,955.42 L569.41,952.70 L545.14,950.09 L521.10,947.53 L497.25,944.96 L473.55,942.35 L449.96,939.64 L426.43,936.82 L402.92,933.88 L379.37,930.82 L355.74,927.65 L331.98,924.39 L308.04,921.08 L283.85,917.76 L259.38,914.49 L234.56,911.33 L209.33,908.38 L183.63,905.71 L157.42,903.43 L130.62,901.65 L103.16,900.50 L75.00,900.12 A356.0,356.0 0 0 1 75.11,890.80 L103.26,891.92 L130.71,893.78 L157.52,896.23 L183.74,899.15 L209.45,902.41 L234.69,905.91 L259.54,909.54 L284.05,913.23 L308.27,916.89 L332.26,920.48 L356.08,923.94 L379.77,927.24 L403.39,930.34 L426.99,933.25 L450.61,935.95 L474.30,938.46 L498.11,940.81 L522.07,943.03 L546.24,945.16 L570.65,947.27 L595.34,949.43 L620.34,951.72 L645.71,954.24 L671.46,957.09 L697.64,960.40 L724.27,964.29 L751.39,968.92 L779.03,974.43 Z" fill="#dcdcdc" stroke="#fff" stroke-width="0.9" stroke-linejoin="round"/>
<path d="M776.35,985.93 A356.0,356.0 0 0 1 772.78,999.12 L745.63,991.65 L718.96,985.13 L692.76,979.41 L666.98,974.35 L641.60,969.83 L616.59,965.75 L591.91,962.01 L567.54,958.50 L543.42,955.17 L519.53,951.93 L495.82,948.74 L472.26,945.55 L448.80,942.32 L425.39,939.04 L401.99,935.68 L378.56,932.26 L355.04,928.77 L331.38,925.24 L307.53,921.70 L283.44,918.20 L259.05,914.78 L234.30,911.52 L209.15,908.48 L183.51,905.76 L157.35,903.45 L130.58,901.65 L103.16,900.50 L75.00,900.12 A356.0,356.0 0 0 1 75.11,890.80 L103.26,891.92 L130.68,893.78 L157.46,896.25 L183.64,899.20 L209.29,902.50 L234.48,906.07 L259.27,909.79 L283.70,913.61 L307.85,917.43 L331.77,921.22 L355.51,924.91 L379.12,928.49 L402.65,931.91 L426.16,935.18 L449.69,938.29 L473.29,941.26 L496.99,944.11 L520.86,946.87 L544.92,949.59 L569.21,952.34 L593.79,955.17 L618.67,958.18 L643.90,961.46 L669.50,965.10 L695.52,969.24 L721.99,973.99 L748.92,979.50 L776.35,985.93 Z" fill="#dcdcdc" stroke="#fff" stroke-width="0.9" stroke-linejoin="round"/>
<path d="M772.78,999.12 A356.0,356.0 0 0 1 770.43,1006.85 L743.46,998.77 L716.96,991.65 L690.91,985.35 L665.28,979.73 L640.04,974.68 L615.15,970.09 L590.59,965.86 L566.33,961.90 L542.32,958.14 L518.53,954.51 L494.91,950.95 L471.44,947.42 L448.06,943.89 L424.73,940.33 L401.41,936.73 L378.05,933.09 L354.60,929.42 L331.01,925.73 L307.22,922.06 L283.19,918.45 L258.85,914.95 L234.15,911.62 L209.04,908.54 L183.44,905.78 L157.31,903.46 L130.56,901.66 L103.15,900.50 L75.00,900.12 A356.0,356.0 0 0 1 75.11,890.80 L103.25,891.92 L130.65,893.79 L157.39,896.27 L183.52,899.24 L209.11,902.60 L234.23,906.24 L258.94,910.08 L283.29,914.04 L307.35,918.05 L331.17,922.06 L354.80,926.02 L378.30,929.91 L401.73,933.70 L425.12,937.39 L448.52,940.97 L471.99,944.46 L495.57,947.88 L519.29,951.27 L543.21,954.67 L567.35,958.14 L591.75,961.75 L616.46,965.59 L641.50,969.73 L666.91,974.29 L692.71,979.38 L718.94,985.12 L745.62,991.65 L772.78,999.12 Z" fill="#dcdcdc" stroke="#fff" stroke-width="0.9" stroke-linejoin="round"/>
<path d="M770.62,1006.25 A356.0,356.0 0 0 1 766.48,1018.63 L739.81,1009.62 L713.60,1001.59 L687.81,994.40 L662.43,987.93 L637.42,982.07 L612.75,976.70 L588.39,971.73 L564.32,967.08 L540.49,962.67 L516.87,958.43 L493.41,954.31 L470.09,950.27 L446.86,946.27 L423.67,942.30 L400.47,938.33 L377.23,934.36 L353.90,930.40 L330.41,926.47 L306.73,922.60 L282.79,918.83 L258.54,915.20 L233.92,911.78 L208.87,908.62 L183.33,905.83 L157.24,903.47 L130.53,901.66 L103.14,900.50 L75.00,900.12 A356.0,356.0 0 0 1 75.11,890.80 L103.24,891.92 L130.63,893.79 L157.35,896.28 L183.45,899.27 L209.01,902.66 L234.09,906.34 L258.75,910.24 L283.06,914.27 L307.06,918.38 L330.83,922.51 L354.40,926.62 L377.84,930.68 L401.19,934.67 L424.51,938.58 L447.85,942.41 L471.24,946.18 L494.73,949.92 L518.37,953.64 L542.19,957.41 L566.23,961.28 L590.54,965.31 L615.14,969.59 L640.06,974.21 L665.35,979.26 L691.02,984.87 L717.10,991.14 L743.63,998.22 L770.62,1006.25 Z" fill="#dcdcdc" stroke="#fff" stroke-width="0.9" stroke-linejoin="round"/>
<path d="M765.42,1021.55 A356.0,356.0 0 0 1 760.26,1034.87 L734.07,1024.57 L708.31,1015.29 L682.95,1006.89 L657.96,999.24 L633.32,992.25 L609.00,985.81 L584.97,979.82 L561.20,974.21 L537.66,968.90 L514.31,963.83 L491.12,958.94 L468.04,954.19 L445.03,949.55 L422.05,944.99 L399.06,940.51 L376.01,936.09 L352.85,931.75 L329.53,927.49 L306.00,923.34 L282.20,919.35 L258.08,915.54 L233.57,911.99 L208.62,908.74 L183.17,905.88 L157.15,903.49 L130.49,901.66 L103.13,900.50 L75.00,900.12 A356.0,356.0 0 0 1 75.11,890.80 L103.23,891.92 L130.60,893.79 L157.26,896.30 L183.31,899.32 L208.79,902.77 L233.78,906.54 L258.34,910.56 L282.54,914.76 L306.42,919.08 L330.05,923.47 L353.48,927.89 L376.77,932.32 L399.97,936.73 L423.12,941.13 L446.27,945.50 L469.47,949.88 L492.77,954.27 L516.19,958.73 L539.79,963.28 L563.60,967.99 L587.65,972.93 L611.98,978.17 L636.62,983.80 L661.60,989.91 L686.95,996.62 L712.68,1004.04 L738.84,1012.31 L765.42,1021.55 Z" fill="#dcdcdc" stroke="#fff" stroke-width="0.9" stroke-linejoin="round"/>
<path d="M757.84,1040.60 A356.0,356.0 0 0 1 755.59,1045.72 L729.77,1034.56 L704.35,1024.43 L679.30,1015.22 L654.61,1006.79 L630.26,999.05 L606.20,991.89 L582.42,985.22 L558.89,978.97 L535.57,973.05 L512.43,967.42 L489.43,962.01 L466.53,956.79 L443.70,951.73 L420.88,946.79 L398.05,941.96 L375.14,937.24 L352.11,932.64 L328.91,928.16 L305.49,923.83 L281.79,919.69 L257.76,915.77 L233.33,912.12 L208.46,908.81 L183.06,905.91 L157.09,903.50 L130.46,901.66 L103.13,900.50 L75.00,900.12 A356.0,356.0 0 0 1 75.11,890.80 L103.22,891.92 L130.55,893.79 L157.16,896.32 L183.12,899.38 L208.50,902.90 L233.38,906.78 L257.80,910.95 L281.84,915.36 L305.56,919.94 L329.00,924.65 L352.23,929.46 L375.31,934.34 L398.27,939.28 L421.18,944.28 L444.07,949.33 L466.99,954.46 L489.99,959.68 L513.10,965.04 L536.36,970.58 L559.82,976.35 L583.49,982.41 L607.42,988.85 L631.64,995.74 L656.16,1003.17 L681.02,1011.26 L706.24,1020.11 L731.84,1029.84 L757.84,1040.60 Z" fill="#dcdcdc" stroke="#fff" stroke-width="0.9" stroke-linejoin="round"/>
<path d="M752.19,1053.04 A356.0,356.0 0 0 1 749.46,1058.62 L724.12,1046.44 L699.14,1035.32 L674.52,1025.13 L650.23,1015.77 L626.25,1007.13 L602.55,999.12 L579.10,991.64 L555.88,984.62 L532.86,977.99 L509.99,971.69 L487.25,965.67 L464.60,959.89 L441.99,954.31 L419.39,948.91 L396.75,943.68 L374.02,938.60 L351.17,933.69 L328.12,928.95 L304.85,924.41 L281.28,920.08 L257.36,916.03 L233.04,912.28 L208.25,908.90 L182.93,905.95 L157.01,903.51 L130.43,901.66 L103.12,900.50 L75.00,900.12 A356.0,356.0 0 0 1 75.11,890.80 L103.21,891.92 L130.51,893.80 L157.08,896.33 L182.99,899.42 L208.31,902.98 L233.10,906.93 L257.43,911.20 L281.36,915.74 L304.95,920.49 L328.26,925.41 L351.35,930.47 L374.27,935.65 L397.06,940.93 L419.78,946.32 L442.48,951.82 L465.19,957.44 L487.96,963.21 L510.84,969.16 L533.85,975.34 L557.03,981.80 L580.42,988.60 L604.04,995.82 L627.93,1003.53 L652.11,1011.83 L676.61,1020.82 L701.44,1030.60 L726.63,1041.30 L752.19,1053.04 Z" fill="#dcdcdc" stroke="#fff" stroke-width="0.9" stroke-linejoin="round"/>
<path d="M750.01,1057.51 A356.0,356.0 0 0 1 747.49,1062.50 L722.30,1050.01 L697.47,1038.59 L672.99,1028.11 L648.83,1018.47 L624.97,1009.56 L601.38,1001.29 L578.04,993.57 L554.92,986.32 L531.99,979.47 L509.21,972.97 L486.56,966.77 L463.98,960.81 L441.45,955.08 L418.92,949.55 L396.34,944.19 L373.67,939.01 L350.87,934.00 L327.88,929.19 L304.65,924.58 L281.12,920.20 L257.24,916.10 L232.95,912.33 L208.18,908.92 L182.88,905.96 L156.99,903.52 L130.42,901.66 L103.11,900.50 L75.00,900.12 A356.0,356.0 0 0 1 75.11,890.80 L103.21,891.92 L130.50,893.80 L157.06,896.33 L182.94,899.43 L208.23,903.01 L232.99,906.98 L257.29,911.29 L281.18,915.88 L304.73,920.69 L327.99,925.68 L351.02,930.83 L373.87,936.12 L396.60,941.53 L419.25,947.05 L441.87,952.71 L464.51,958.50 L487.19,964.47 L509.97,970.63 L532.89,977.04 L555.97,983.75 L579.24,990.82 L602.75,998.32 L626.51,1006.33 L650.56,1014.94 L674.91,1024.25 L699.59,1034.37 L724.62,1045.41 L750.01,1057.51 Z" fill="#dcdcdc" stroke="#fff" stroke-width="0.9" stroke-linejoin="round"/>
<path d="M747.21,1063.06 A356.0,356.0 0 0 1 743.41,1070.19 L718.54,1057.09 L694.01,1045.07 L669.81,1034.01 L645.92,1023.82 L622.31,1014.37 L598.96,1005.59 L575.85,997.38 L552.94,989.68 L530.20,982.40 L507.61,975.51 L485.13,968.94 L462.72,962.65 L440.34,956.61 L417.95,950.80 L395.50,945.20 L372.96,939.81 L350.27,934.62 L327.38,929.65 L304.24,924.91 L280.79,920.43 L256.99,916.25 L232.76,912.42 L208.05,908.97 L182.80,905.98 L156.94,903.52 L130.40,901.66 L103.11,900.50 L75.00,900.12 A356.0,356.0 0 0 1 75.11,890.80 L103.21,891.92 L130.49,893.80 L157.02,896.34 L182.88,899.45 L208.14,903.04 L232.86,907.05 L257.11,911.40 L280.95,916.04 L304.44,920.93 L327.64,926.02 L350.60,931.28 L373.38,936.70 L396.02,942.26 L418.58,947.96 L441.10,953.81 L463.63,959.83 L486.21,966.03 L508.87,972.46 L531.65,979.16 L554.59,986.18 L577.73,993.57 L601.08,1001.42 L624.68,1009.80 L648.56,1018.79 L672.73,1028.51 L697.21,1039.04 L722.03,1050.52 L747.21,1063.06 Z" fill="#dcdcdc" stroke="#fff" stroke-width="0.9" stroke-linejoin="round"/>
<path d="M742.21,1072.36 A356.0,356.0 0 0 1 736.63,1082.05 L712.29,1068.01 L688.26,1055.07 L664.53,1043.13 L641.09,1032.07 L617.90,1021.80 L594.95,1012.23 L572.21,1003.27 L549.65,994.86 L527.25,986.93 L504.97,979.42 L482.78,972.28 L460.64,965.47 L438.52,958.97 L416.36,952.74 L394.14,946.76 L371.79,941.04 L349.29,935.57 L326.57,930.36 L303.58,925.42 L280.27,920.79 L256.59,916.48 L232.47,912.55 L207.85,909.04 L182.67,906.01 L156.86,903.53 L130.36,901.66 L103.10,900.50 L75.00,900.12 A356.0,356.0 0 0 1 75.11,890.80 L103.20,891.92 L130.46,893.80 L156.96,896.34 L182.78,899.47 L207.99,903.10 L232.64,907.16 L256.81,911.58 L280.56,916.32 L303.94,921.33 L327.03,926.57 L349.86,932.02 L372.50,937.66 L395.00,943.48 L417.40,949.48 L439.75,955.66 L462.09,962.05 L484.46,968.66 L506.91,975.53 L529.47,982.71 L552.17,990.24 L575.04,998.19 L598.12,1006.63 L621.43,1015.62 L645.00,1025.27 L668.84,1035.66 L692.98,1046.89 L717.43,1059.09 L742.21,1072.36 Z" fill="#dcdcdc" stroke="#fff" stroke-width="0.9" stroke-linejoin="round"/>
<path d="M735.67,1083.65 A356.0,356.0 0 0 1 730.07,1092.61 L706.24,1077.73 L682.70,1063.97 L659.43,1051.23 L636.42,1039.41 L613.64,1028.40 L591.08,1018.13 L568.71,1008.50 L546.50,999.46 L524.42,990.94 L502.44,982.89 L480.53,975.24 L458.66,967.98 L436.78,961.05 L414.85,954.45 L392.84,948.14 L370.69,942.13 L348.36,936.41 L325.80,930.98 L302.96,925.87 L279.78,921.09 L256.21,916.68 L232.19,912.67 L207.66,909.10 L182.55,906.04 L156.79,903.54 L130.33,901.66 L103.09,900.50 L75.00,900.12 A356.0,356.0 0 0 1 75.11,890.80 L103.19,891.92 L130.43,893.79 L156.89,896.35 L182.66,899.50 L207.79,903.16 L232.36,907.28 L256.43,911.79 L280.06,916.65 L303.31,921.81 L326.25,927.24 L348.92,932.92 L371.39,938.83 L393.69,944.96 L415.87,951.31 L437.99,957.89 L460.09,964.73 L482.20,971.83 L504.37,979.24 L526.63,987.01 L549.00,995.17 L571.54,1003.79 L594.25,1012.94 L617.18,1022.68 L640.34,1033.12 L663.75,1044.32 L687.43,1056.41 L711.40,1069.48 L735.67,1083.65 Z" fill="#dcdcdc" stroke="#fff" stroke-width="0.9" stroke-linejoin="round"/>
<path d="M727.69,1096.25 A356.0,356.0 0 0 1 722.44,1103.95 L699.21,1088.17 L676.23,1073.53 L653.50,1059.94 L631.00,1047.29 L608.70,1035.49 L586.59,1024.46 L564.65,1014.12 L542.84,1004.40 L521.14,995.25 L499.52,986.61 L477.94,978.42 L456.38,970.66 L434.79,963.28 L413.13,956.27 L391.36,949.61 L369.44,943.29 L347.31,937.30 L324.94,931.64 L302.26,926.35 L279.24,921.42 L255.79,916.89 L231.88,912.79 L207.44,909.17 L182.41,906.06 L156.72,903.54 L130.30,901.66 L103.08,900.50 L75.00,900.12 A356.0,356.0 0 0 1 75.11,890.80 L103.18,891.91 L130.39,893.79 L156.81,896.36 L182.51,899.53 L207.56,903.23 L232.03,907.42 L255.98,912.03 L279.47,917.01 L302.57,922.34 L325.33,927.98 L347.81,933.91 L370.05,940.12 L392.12,946.59 L414.05,953.34 L435.89,960.37 L457.69,967.71 L479.48,975.36 L501.30,983.38 L523.18,991.79 L545.17,1000.66 L567.28,1010.03 L589.55,1019.97 L612.01,1030.56 L634.66,1041.87 L657.54,1054.00 L680.66,1067.03 L704.04,1081.08 L727.69,1096.25 Z" fill="#dcdcdc" stroke="#fff" stroke-width="0.9" stroke-linejoin="round"/>
<path d="M723.51,1102.42 A356.0,356.0 0 0 1 719.56,1108.00 L696.55,1091.89 L673.79,1076.95 L651.26,1063.05 L628.95,1050.10 L606.84,1038.02 L584.90,1026.72 L563.12,1016.12 L541.46,1006.17 L519.91,996.79 L498.42,987.93 L476.97,979.55 L455.52,971.61 L434.04,964.08 L412.48,956.92 L390.80,950.13 L368.97,943.70 L346.92,937.61 L324.62,931.88 L302.01,926.51 L279.03,921.53 L255.64,916.96 L231.77,912.83 L207.37,909.19 L182.36,906.07 L156.69,903.54 L130.29,901.66 L103.08,900.49 L75.00,900.12 A356.0,356.0 0 0 1 75.11,890.80 L103.18,891.91 L130.37,893.79 L156.77,896.36 L182.44,899.54 L207.44,903.26 L231.86,907.48 L255.75,912.14 L279.17,917.19 L302.19,922.60 L324.86,928.34 L347.23,934.39 L369.37,940.74 L391.31,947.39 L413.10,954.33 L434.80,961.58 L456.44,969.16 L478.06,977.09 L499.70,985.40 L521.39,994.13 L543.17,1003.34 L565.06,1013.08 L587.09,1023.42 L609.30,1034.42 L631.69,1046.16 L654.29,1058.73 L677.12,1072.23 L700.18,1086.76 L723.51,1102.42 Z" fill="#dcdcdc" stroke="#fff" stroke-width="0.9" stroke-linejoin="round"/>
<path d="M716.99,1111.51 A356.0,356.0 0 0 1 713.62,1115.97 L691.08,1099.24 L668.76,1083.67 L646.65,1069.17 L624.74,1055.64 L603.00,1043.00 L581.42,1031.17 L559.97,1020.07 L538.63,1009.63 L517.38,999.81 L496.17,990.54 L474.98,981.78 L453.77,973.49 L432.51,965.63 L411.16,958.20 L389.68,951.16 L368.01,944.50 L346.12,938.23 L323.96,932.33 L301.48,926.84 L278.62,921.75 L255.33,917.10 L231.54,912.91 L207.21,909.23 L182.26,906.09 L156.63,903.54 L130.26,901.66 L103.08,900.49 L75.00,900.12 A356.0,356.0 0 0 1 75.11,890.80 L103.17,891.91 L130.35,893.79 L156.71,896.36 L182.32,899.55 L207.27,903.31 L231.60,907.57 L255.40,912.29 L278.71,917.44 L301.61,922.97 L324.13,928.86 L346.35,935.09 L368.31,941.66 L390.06,948.56 L411.65,955.79 L433.12,963.36 L454.51,971.30 L475.86,979.62 L497.22,988.37 L518.60,997.58 L540.05,1007.30 L561.60,1017.58 L583.27,1028.49 L605.08,1040.09 L627.06,1052.47 L649.22,1065.71 L671.59,1079.89 L694.18,1095.12 L716.99,1111.51 Z" fill="#dcdcdc" stroke="#fff" stroke-width="0.9" stroke-linejoin="round"/>
<path d="M714.38,1114.98 A356.0,356.0 0 0 1 704.71,1127.14 L682.86,1109.52 L661.21,1093.08 L639.73,1077.74 L618.42,1063.40 L597.25,1049.97 L576.20,1037.39 L555.26,1025.59 L534.40,1014.48 L513.59,1004.03 L492.80,994.18 L472.00,984.88 L451.16,976.10 L430.24,967.81 L409.20,959.97 L388.00,952.58 L366.60,945.62 L344.95,939.08 L323.00,932.96 L300.71,927.29 L278.02,922.05 L254.87,917.29 L231.21,913.02 L206.98,909.28 L182.12,906.10 L156.55,903.55 L130.23,901.66 L103.07,900.49 L75.00,900.12 A356.0,356.0 0 0 1 75.11,890.80 L103.17,891.91 L130.34,893.79 L156.68,896.36 L182.28,899.56 L207.20,903.33 L231.51,907.61 L255.26,912.35 L278.53,917.53 L301.38,923.11 L323.85,929.05 L346.00,935.36 L367.89,942.01 L389.56,949.00 L411.07,956.34 L432.44,964.04 L453.74,972.11 L474.99,980.59 L496.22,989.50 L517.49,998.89 L538.81,1008.81 L560.22,1019.30 L581.74,1030.43 L603.39,1042.27 L625.21,1054.89 L647.20,1068.38 L669.38,1082.82 L691.77,1098.32 L714.38,1114.98 Z" fill="#dcdcdc" stroke="#fff" stroke-width="0.9" stroke-linejoin="round"/>
<path d="M704.71,1127.14 A356.0,356.0 0 0 1 690.30,1143.43 L669.58,1124.51 L649.00,1106.81 L628.55,1090.23 L608.21,1074.70 L587.96,1060.13 L567.79,1046.46 L547.68,1033.62 L527.59,1021.54 L507.51,1010.17 L487.40,999.47 L467.24,989.39 L446.99,979.89 L426.61,970.95 L406.08,962.53 L385.34,954.63 L364.36,947.22 L343.09,940.30 L321.48,933.86 L299.50,927.92 L277.07,922.48 L254.15,917.55 L230.69,913.16 L206.63,909.34 L181.89,906.12 L156.43,903.54 L130.17,901.65 L103.05,900.49 L75.00,900.12 A356.0,356.0 0 0 1 75.11,890.80 L103.16,891.91 L130.30,893.78 L156.59,896.36 L182.12,899.58 L206.95,903.38 L231.14,907.72 L254.77,912.56 L277.88,917.86 L300.54,923.59 L322.80,929.74 L344.73,936.28 L366.36,943.22 L387.75,950.54 L408.94,958.26 L429.98,966.40 L450.91,974.95 L471.76,983.97 L492.57,993.46 L513.38,1003.49 L534.22,1014.08 L555.11,1025.30 L576.08,1037.20 L597.15,1049.85 L618.35,1063.33 L639.69,1077.70 L661.19,1093.07 L682.86,1109.51 L704.71,1127.14 Z" fill="#dcdcdc" stroke="#fff" stroke-width="0.9" stroke-linejoin="round"/>
<path d="M691.15,1142.52 A356.0,356.0 0 0 1 668.05,1165.10 L649.08,1144.46 L630.17,1125.07 L611.30,1106.85 L592.47,1089.73 L573.66,1073.63 L554.85,1058.50 L536.01,1044.27 L517.13,1030.88 L498.18,1018.30 L479.13,1006.46 L459.96,995.33 L440.62,984.88 L421.10,975.07 L401.34,965.88 L381.32,957.30 L360.98,949.29 L340.30,941.87 L319.22,935.01 L297.69,928.72 L275.67,923.00 L253.10,917.87 L229.93,913.33 L206.11,909.41 L181.57,906.14 L156.25,903.53 L130.10,901.63 L103.03,900.48 L75.00,900.12 A356.0,356.0 0 0 1 75.11,890.80 L103.15,891.91 L130.25,893.78 L156.48,896.36 L181.91,899.60 L206.62,903.44 L230.66,907.86 L254.10,912.80 L276.99,918.25 L299.40,924.18 L321.38,930.58 L342.98,937.43 L364.25,944.72 L385.25,952.47 L406.00,960.68 L426.57,969.35 L446.98,978.52 L467.28,988.21 L487.49,998.45 L507.66,1009.28 L527.81,1020.74 L547.97,1032.88 L568.17,1045.76 L588.42,1059.45 L608.75,1074.00 L629.17,1089.50 L649.70,1106.03 L670.36,1123.67 L691.15,1142.52 Z" fill="#dcdcdc" stroke="#fff" stroke-width="0.9" stroke-linejoin="round"/>
<path d="M667.59,1165.51 A356.0,356.0 0 0 1 653.83,1177.14 L635.97,1155.54 L618.13,1135.21 L600.28,1116.08 L582.42,1098.07 L564.53,1081.12 L546.59,1065.18 L528.57,1050.17 L510.47,1036.06 L492.25,1022.78 L473.88,1010.31 L455.34,998.60 L436.60,987.61 L417.61,977.33 L398.36,967.71 L378.79,958.74 L358.87,950.41 L338.55,942.71 L317.80,935.61 L296.57,929.13 L274.80,923.27 L252.45,918.02 L229.47,913.41 L205.79,909.44 L181.37,906.14 L156.14,903.52 L130.05,901.62 L103.02,900.48 L75.00,900.12 A356.0,356.0 0 0 1 75.11,890.80 L103.13,891.90 L130.16,893.76 L156.29,896.34 L181.57,899.61 L206.07,903.51 L229.86,908.03 L252.98,913.13 L275.51,918.80 L297.49,925.02 L318.98,931.78 L340.03,939.08 L360.68,946.91 L380.99,955.29 L400.99,964.22 L420.73,973.72 L440.25,983.80 L459.57,994.51 L478.74,1005.86 L497.79,1017.89 L516.74,1030.65 L535.62,1044.18 L554.46,1058.53 L573.27,1073.76 L592.08,1089.94 L610.90,1107.13 L629.76,1125.40 L648.65,1144.83 L667.59,1165.51 Z" fill="#dcdcdc" stroke="#fff" stroke-width="0.9" stroke-linejoin="round"/>
<path d="M654.31,1176.75 A356.0,356.0 0 0 1 644.50,1184.37 L627.38,1162.20 L610.23,1141.30 L593.06,1121.62 L575.83,1103.08 L558.55,1085.62 L541.18,1069.18 L523.71,1053.71 L506.11,1039.15 L488.37,1025.47 L470.45,1012.61 L452.33,1000.55 L433.97,989.24 L415.34,978.67 L396.41,968.79 L377.14,959.60 L357.49,951.07 L337.42,943.20 L316.89,935.96 L295.84,929.37 L274.24,923.42 L252.04,918.11 L229.17,913.45 L205.59,909.45 L181.25,906.13 L156.08,903.51 L130.02,901.62 L103.02,900.48 L75.00,900.12 A356.0,356.0 0 0 1 75.11,890.80 L103.12,891.90 L130.12,893.75 L156.19,896.33 L181.39,899.60 L205.78,903.53 L229.42,908.10 L252.38,913.27 L274.70,919.04 L296.45,925.40 L317.66,932.34 L338.40,939.86 L358.71,947.95 L378.63,956.64 L398.21,965.92 L417.48,975.82 L436.49,986.35 L455.27,997.55 L473.84,1009.45 L492.25,1022.07 L510.52,1035.47 L528.68,1049.68 L546.75,1064.76 L564.75,1080.75 L582.70,1097.73 L600.62,1115.74 L618.52,1134.87 L636.41,1155.18 L654.31,1176.75 Z" fill="#dcdcdc" stroke="#fff" stroke-width="0.9" stroke-linejoin="round"/>
<path d="M645.00,1184.00 A356.0,356.0 0 0 1 600.60,1212.51 L586.92,1188.09 L573.08,1164.99 L559.06,1143.15 L544.85,1122.52 L530.43,1103.04 L515.78,1084.67 L500.87,1067.37 L485.70,1051.09 L470.22,1035.79 L454.42,1021.44 L438.27,1007.99 L421.74,995.43 L404.80,983.73 L387.41,972.85 L369.54,962.77 L351.16,953.48 L332.22,944.96 L312.70,937.20 L292.54,930.18 L271.70,923.90 L250.15,918.35 L227.82,913.53 L204.69,909.44 L180.69,906.08 L155.77,903.45 L129.89,901.58 L102.98,900.46 L75.00,900.12 A356.0,356.0 0 0 1 75.11,890.80 L103.11,891.89 L130.09,893.75 L156.12,896.32 L181.26,899.60 L205.58,903.54 L229.13,908.13 L251.96,913.35 L274.14,919.19 L295.72,925.64 L316.75,932.69 L337.28,940.35 L357.34,948.61 L376.99,957.49 L396.27,967.00 L415.22,977.16 L433.87,987.98 L452.26,999.50 L470.42,1011.75 L488.38,1024.76 L506.17,1038.57 L523.82,1053.22 L541.35,1068.77 L558.77,1085.25 L576.12,1102.74 L593.40,1121.30 L610.63,1140.98 L627.83,1161.85 L645.00,1184.00 Z" fill="#dcdcdc" stroke="#fff" stroke-width="0.9" stroke-linejoin="round"/>
<path d="M453.66,1254.78 A356.0,356.0 0 0 1 433.17,1255.49 L432.68,1227.62 L431.54,1201.07 L429.70,1175.85 L427.13,1151.92 L423.81,1129.29 L419.70,1107.94 L414.77,1087.86 L408.99,1069.02 L402.33,1051.41 L394.76,1035.02 L386.25,1019.82 L376.79,1005.80 L366.33,992.94 L354.86,981.22 L342.36,970.60 L328.79,961.08 L314.14,952.63 L298.38,945.22 L281.49,938.83 L263.46,933.43 L244.26,928.99 L223.88,925.49 L202.29,922.90 L179.48,921.19 L155.44,920.32 L130.14,920.27 L103.58,920.99 L75.74,922.47 A356.0,356.0 0 0 1 75.37,915.65 L103.24,914.72 L129.86,914.53 L155.24,915.11 L179.39,916.49 L202.35,918.70 L224.13,921.77 L244.75,925.72 L264.24,930.57 L282.62,936.37 L299.91,943.12 L316.13,950.85 L331.31,959.60 L345.48,969.38 L358.65,980.21 L370.85,992.12 L382.11,1005.14 L392.46,1019.28 L401.91,1034.56 L410.51,1051.01 L418.26,1068.65 L425.21,1087.49 L431.38,1107.57 L436.80,1128.88 L441.50,1151.46 L445.51,1175.32 L448.85,1200.49 L451.56,1226.97 L453.66,1254.78 Z" fill="#dcdcdc" stroke="#fff" stroke-width="0.9" stroke-linejoin="round"/>
<path d="M572.67,1226.10 A356.0,356.0 0 0 1 451.18,1254.93 L449.16,1226.86 L446.40,1199.59 L443.03,1173.05 L439.15,1147.16 L434.84,1121.85 L430.21,1097.06 L425.32,1072.71 L420.23,1048.75 L415.01,1025.11 L409.69,1001.74 L404.31,978.57 L398.89,955.56 L393.46,932.64 L388.00,909.78 L382.52,886.93 L377.01,864.04 L371.42,841.06 L365.74,817.97 L359.91,794.71 L353.87,771.27 L347.56,747.60 L340.91,723.68 L333.83,699.47 L326.21,674.95 L317.97,650.11 L308.96,624.91 L299.09,599.35 L288.19,573.40 A356.0,356.0 0 0 0 288.19,573.40 L299.12,599.42 L309.13,625.16 L318.40,650.60 L327.10,675.72 L335.38,700.50 L343.39,724.93 L351.24,749.01 L359.07,772.74 L366.96,796.13 L375.02,819.18 L383.31,841.93 L391.90,864.39 L400.84,886.59 L410.18,908.58 L419.93,930.38 L430.10,952.04 L440.71,973.62 L451.73,995.18 L463.14,1016.78 L474.89,1038.48 L486.95,1060.37 L499.24,1082.52 L511.69,1105.01 L524.20,1127.95 L536.68,1151.42 L549.01,1175.53 L561.05,1200.38 L572.67,1226.10 Z" fill="#dcdcdc" stroke="#fff" stroke-width="0.9" stroke-linejoin="round"/>
<path d="M579.48,1223.06 A356.0,356.0 0 0 1 570.96,1226.83 L560.26,1200.72 L550.47,1174.89 L541.42,1149.37 L532.94,1124.18 L524.87,1099.33 L517.08,1074.83 L509.43,1050.68 L501.81,1026.88 L494.11,1003.43 L486.26,980.30 L478.16,957.49 L469.75,934.95 L461.00,912.68 L451.85,890.62 L442.28,868.74 L432.28,846.99 L421.85,825.32 L411.01,803.67 L399.77,781.99 L388.19,760.19 L376.31,738.21 L364.19,715.96 L351.93,693.37 L339.59,670.33 L327.30,646.76 L315.17,622.56 L303.32,597.61 L291.90,571.80 A356.0,356.0 0 0 1 295.34,570.36 L306.48,596.28 L318.07,621.33 L329.95,645.62 L342.02,669.27 L354.14,692.37 L366.23,715.02 L378.20,737.30 L389.97,759.31 L401.48,781.11 L412.69,802.80 L423.54,824.42 L434.02,846.05 L444.12,867.75 L453.84,889.56 L463.18,911.53 L472.18,933.70 L480.87,956.11 L489.30,978.79 L497.54,1001.77 L505.66,1025.05 L513.75,1048.66 L521.90,1072.60 L530.24,1096.89 L538.89,1121.50 L547.98,1146.44 L557.66,1171.69 L568.10,1197.24 L579.48,1223.06 Z" fill="#dcdcdc" stroke="#fff" stroke-width="0.9" stroke-linejoin="round"/>
<path d="M596.21,1214.84 A356.0,356.0 0 0 1 577.78,1223.83 L566.54,1197.95 L556.21,1172.33 L546.63,1147.01 L537.62,1122.00 L529.04,1097.32 L520.73,1072.99 L512.58,1049.01 L504.46,1025.37 L496.28,1002.08 L487.94,979.13 L479.36,956.49 L470.49,934.13 L461.27,912.05 L451.66,890.18 L441.63,868.51 L431.18,846.98 L420.30,825.53 L409.01,804.11 L397.32,782.67 L385.28,761.12 L372.94,739.39 L360.37,717.40 L347.63,695.07 L334.81,672.30 L322.03,648.99 L309.39,625.04 L297.02,600.35 L285.07,574.79 A356.0,356.0 0 0 1 293.62,571.08 L304.90,596.93 L316.61,621.89 L328.62,646.07 L340.83,669.59 L353.12,692.54 L365.41,715.02 L377.60,737.13 L389.63,758.94 L401.45,780.53 L413.01,801.98 L424.28,823.37 L435.23,844.74 L445.85,866.16 L456.15,887.68 L466.15,909.34 L475.86,931.19 L485.33,953.26 L494.60,975.57 L503.75,998.16 L512.83,1021.04 L521.95,1044.23 L531.18,1067.72 L540.66,1091.52 L550.49,1115.63 L560.80,1140.04 L571.76,1164.72 L583.50,1189.67 L596.21,1214.84 Z" fill="#dcdcdc" stroke="#fff" stroke-width="0.9" stroke-linejoin="round"/>
<path d="M532.71,558.34 A356.0,356.0 0 0 1 538.64,560.16 L530.06,586.59 L521.55,611.39 L513.09,634.52 L504.65,655.91 L496.20,675.52 L487.73,693.30 L479.21,709.21 L470.62,723.21 L461.92,735.26 L453.11,745.36 L444.15,753.46 L435.04,759.56 L425.74,763.65 L416.23,765.73 L406.50,765.78 L396.53,763.82 L386.30,759.85 L375.80,753.89 L364.99,745.97 L353.88,736.10 L342.44,724.31 L330.65,710.65 L318.51,695.14 L305.99,677.85 L293.09,658.81 L279.78,638.08 L266.07,615.73 L251.92,591.82 A356.0,356.0 0 0 1 255.70,589.65 L269.54,613.74 L282.96,636.25 L295.97,657.14 L308.58,676.33 L320.81,693.77 L332.66,709.40 L344.15,723.18 L355.30,735.07 L366.12,745.04 L376.62,753.04 L386.82,759.06 L396.74,763.08 L406.39,765.08 L415.80,765.04 L424.97,762.98 L433.94,758.88 L442.71,752.75 L451.31,744.60 L459.76,734.45 L468.08,722.32 L476.29,708.24 L484.42,692.24 L492.48,674.36 L500.51,654.63 L508.52,633.11 L516.54,609.85 L524.59,584.90 L532.71,558.34 Z" fill="#dcdcdc" stroke="#fff" stroke-width="0.9" stroke-linejoin="round"/>
<path d="M494.04,549.13 L489.93,570.61 L485.46,591.39 L480.64,611.50 L475.47,630.97 L469.97,649.82 L464.14,668.09 L457.99,685.81 L451.50,702.99 L444.69,719.68 L437.56,735.88 L430.10,751.63 L422.32,766.96 L414.19,781.87 L405.74,796.39 L396.93,810.55 L387.78,824.36 L378.26,837.84 L368.37,851.01 L358.10,863.88 L347.43,876.47 L336.36,888.79 L324.85,900.86 L312.91,912.68 L300.50,924.28 L287.62,935.65 L274.24,946.82 L260.33,957.78 L245.89,968.55 L230.87,979.13 L215.26,989.53 L199.03,999.75 L182.16,1009.79 L164.60,1019.66 L146.34,1029.37 L127.34,1038.90 L107.57,1048.26" fill="none" stroke="#dcdcdc" stroke-width="4.5" stroke-opacity="1.0"/>
<path d="M444.05,543.74 L443.17,565.45 L442.18,586.17 L441.04,605.88 L439.75,624.54 L438.29,642.11 L436.65,658.58 L434.82,673.92 L432.79,688.09 L430.54,701.09 L428.07,712.88 L425.36,723.45 L422.41,732.79 L419.20,740.89 L415.73,747.72 L411.99,753.30 L407.97,757.59 L403.67,760.62 L399.07,762.36 L394.18,762.83 L388.98,762.01 L383.48,759.93 L377.66,756.59 L371.53,751.99 L365.08,746.14 L358.30,739.06 L351.20,730.77 L343.78,721.29 L336.02,710.62 L327.93,698.80 L319.52,685.85 L310.78,671.80 L301.70,656.68 L292.31,640.51 L282.58,623.33 L272.53,605.17 L262.16,586.08" fill="none" stroke="#b4f43a" stroke-width="1.1" stroke-opacity="1.0"/>
<path d="M450.87,544.06 L449.58,565.74 L448.18,586.45 L446.65,606.13 L444.98,624.77 L443.16,642.33 L441.17,658.77 L439.00,674.09 L436.65,688.24 L434.09,701.21 L431.33,712.99 L428.34,723.54 L425.13,732.86 L421.67,740.94 L417.96,747.76 L414.00,753.32 L409.78,757.60 L405.28,760.61 L400.51,762.34 L395.45,762.79 L390.11,761.97 L384.46,759.88 L378.52,756.53 L372.28,751.92 L365.73,746.07 L358.86,738.99 L351.69,730.69 L344.19,721.20 L336.38,710.53 L328.25,698.70 L319.81,685.75 L311.04,671.69 L301.95,656.56 L292.54,640.39 L282.81,623.20 L272.77,605.04 L262.42,585.95" fill="none" stroke="#b4f43a" stroke-width="1.1" stroke-opacity="1.0"/>
<path d="M454.28,544.26 L452.78,565.94 L451.18,586.63 L449.45,606.30 L447.59,624.92 L445.59,642.47 L443.43,658.90 L441.09,674.20 L438.58,688.34 L435.87,701.30 L432.96,713.06 L429.83,723.61 L426.48,732.92 L422.90,740.98 L419.08,747.79 L415.01,753.34 L410.68,757.62 L406.09,760.62 L401.23,762.34 L396.09,762.79 L390.67,761.96 L384.96,759.86 L378.95,756.50 L372.65,751.89 L366.05,746.03 L359.14,738.95 L351.93,730.65 L344.40,721.15 L336.56,710.48 L328.41,698.66 L319.95,685.70 L311.17,671.64 L302.07,656.51 L292.66,640.33 L282.93,623.14 L272.89,604.98 L262.54,585.88" fill="none" stroke="#b4f43a" stroke-width="1.1" stroke-opacity="1.0"/>
<path d="M457.69,544.50 L455.98,566.16 L454.17,586.84 L452.25,606.49 L450.21,625.10 L448.02,642.63 L445.68,659.05 L443.18,674.33 L440.51,688.46 L437.64,701.41 L434.59,713.15 L431.32,723.68 L427.84,732.98 L424.14,741.04 L420.20,747.84 L416.02,753.37 L411.59,757.64 L406.90,760.63 L401.95,762.35 L396.73,762.79 L391.23,761.95 L385.45,759.85 L379.38,756.48 L373.03,751.86 L366.37,746.00 L359.42,738.91 L352.17,730.61 L344.61,721.11 L336.75,710.44 L328.57,698.61 L320.09,685.65 L311.30,671.59 L302.19,656.45 L292.77,640.27 L283.05,623.08 L273.01,604.92 L262.67,585.81" fill="none" stroke="#b4f43a" stroke-width="1.1" stroke-opacity="1.0"/>
<path d="M475.00,546.23 L472.23,567.78 L469.39,588.35 L466.48,607.90 L463.47,626.40 L460.36,643.82 L457.14,660.14 L453.79,675.32 L450.30,689.35 L446.66,702.20 L442.86,713.86 L438.89,724.30 L434.74,733.52 L430.41,741.49 L425.87,748.22 L421.13,753.68 L416.18,757.88 L411.01,760.81 L405.60,762.47 L399.96,762.86 L394.08,761.98 L387.95,759.83 L381.57,756.43 L374.93,751.78 L368.02,745.88 L360.85,738.77 L353.40,730.44 L345.67,720.92 L337.67,710.22 L329.39,698.38 L320.81,685.40 L311.96,671.33 L302.81,656.18 L293.37,639.98 L283.65,622.78 L273.63,604.59 L263.32,585.47" fill="none" stroke="#b4f43a" stroke-width="1.1" stroke-opacity="1.0"/>
<path d="M485.77,547.74 L482.34,569.19 L478.86,589.67 L475.33,609.13 L471.73,627.54 L468.04,644.87 L464.27,661.10 L460.38,676.20 L456.39,690.15 L452.27,702.92 L448.01,714.50 L443.60,724.87 L439.04,734.02 L434.31,741.93 L429.41,748.59 L424.32,754.00 L419.04,758.14 L413.56,761.02 L407.88,762.63 L401.98,762.98 L395.86,762.06 L389.51,759.87 L382.93,756.44 L376.11,751.76 L369.05,745.84 L361.73,738.70 L354.17,730.35 L346.34,720.81 L338.25,710.10 L329.89,698.24 L321.27,685.26 L312.37,671.17 L303.20,656.01 L293.75,639.80 L284.02,622.58 L274.01,604.39 L263.72,585.25" fill="none" stroke="#b4f43a" stroke-width="1.1" stroke-opacity="1.0"/>
<path d="M497.95,549.85 L493.77,571.18 L489.57,591.52 L485.34,610.85 L481.06,629.14 L476.73,646.35 L472.33,662.45 L467.85,677.44 L463.28,691.27 L458.61,703.94 L453.83,715.41 L448.93,725.68 L443.90,734.73 L438.73,742.56 L433.40,749.13 L427.93,754.46 L422.28,758.53 L416.46,761.34 L410.46,762.89 L404.27,763.18 L397.88,762.20 L391.28,759.97 L384.48,756.49 L377.46,751.77 L370.22,745.81 L362.74,738.64 L355.04,730.27 L347.09,720.71 L338.91,709.97 L330.47,698.10 L321.78,685.09 L312.84,670.99 L303.64,655.82 L294.17,639.60 L284.44,622.37 L274.45,604.16 L264.18,585.01" fill="none" stroke="#b4f43a" stroke-width="1.1" stroke-opacity="1.0"/>
<path d="M586.50,579.26 L576.89,598.76 L567.43,617.32 L558.13,634.90 L548.96,651.48 L539.92,667.03 L531.00,681.52 L522.18,694.95 L513.46,707.28 L504.83,718.50 L496.28,728.59 L487.79,737.54 L479.36,745.34 L470.97,751.97 L462.62,757.43 L454.30,761.71 L445.99,764.80 L437.68,766.69 L429.38,767.39 L421.05,766.90 L412.71,765.21 L404.32,762.32 L395.90,758.25 L387.41,753.00 L378.87,746.58 L370.25,738.99 L361.54,730.25 L352.74,720.37 L343.84,709.36 L334.82,697.25 L325.67,684.05 L316.40,669.77 L306.98,654.45 L297.41,638.11 L287.67,620.76 L277.76,602.44 L267.67,583.18" fill="none" stroke="#b4f43a" stroke-width="1.1" stroke-opacity="1.0"/>
<path d="M602.23,587.39 L591.65,606.39 L581.27,624.45 L571.06,641.55 L561.03,657.66 L551.15,672.76 L541.43,686.82 L531.85,699.82 L522.40,711.74 L513.07,722.57 L503.84,732.29 L494.72,740.88 L485.69,748.34 L476.74,754.65 L467.85,759.80 L459.02,763.79 L450.24,766.62 L441.50,768.26 L432.78,768.73 L424.08,768.02 L415.39,766.14 L406.69,763.08 L397.97,758.85 L389.23,753.46 L380.45,746.90 L371.62,739.20 L362.74,730.36 L353.79,720.40 L344.75,709.32 L335.63,697.14 L326.41,683.89 L317.07,669.57 L307.61,654.21 L298.02,637.83 L288.28,620.46 L278.39,602.12 L268.34,582.84" fill="none" stroke="#b4f43a" stroke-width="1.1" stroke-opacity="1.0"/>
<path d="M634.17,607.17 L621.64,624.95 L609.36,641.82 L597.33,657.76 L585.54,672.73 L573.98,686.73 L562.63,699.72 L551.50,711.69 L540.56,722.62 L529.82,732.50 L519.24,741.31 L508.84,749.04 L498.59,755.68 L488.49,761.21 L478.52,765.63 L468.67,768.93 L458.94,771.11 L449.31,772.15 L439.76,772.07 L430.30,770.85 L420.90,768.49 L411.55,765.00 L402.25,760.39 L392.98,754.64 L383.73,747.78 L374.48,739.80 L365.24,730.72 L355.97,720.55 L346.68,709.29 L337.34,696.96 L327.95,683.58 L318.49,669.16 L308.95,653.72 L299.32,637.27 L289.59,619.84 L279.73,601.45 L269.75,582.11" fill="none" stroke="#b4f43a" stroke-width="1.1" stroke-opacity="1.0"/>
<path d="M643.26,613.70 L629.97,631.15 L616.59,647.91 L603.14,664.02 L589.63,679.55 L576.07,694.53 L562.47,709.03 L548.85,723.07 L535.21,736.72 L521.56,750.00 L507.89,762.95 L494.21,775.61 L480.51,788.02 L466.80,800.19 L453.06,812.17 L439.30,823.97 L425.49,835.62 L411.63,847.13 L397.71,858.53 L383.70,869.82 L369.60,881.03 L355.37,892.16 L341.00,903.22 L326.47,914.22 L311.74,925.15 L296.80,936.01 L281.60,946.81 L266.13,957.54 L250.33,968.19 L234.19,978.75 L217.65,989.20 L200.68,999.54 L183.24,1009.75 L165.27,1019.79 L146.75,1029.66 L127.61,1039.33 L107.80,1048.76" fill="none" stroke="#3eeaea" stroke-width="1.1" stroke-opacity="1.0"/>
<path d="M651.64,620.12 L637.84,637.18 L623.96,653.54 L610.03,669.26 L596.05,684.40 L582.04,699.01 L568.02,713.14 L553.98,726.84 L539.95,740.14 L525.91,753.09 L511.88,765.73 L497.85,778.09 L483.83,790.21 L469.80,802.12 L455.77,813.84 L441.73,825.40 L427.66,836.83 L413.55,848.14 L399.39,859.36 L385.17,870.48 L370.87,881.54 L356.46,892.53 L341.92,903.47 L327.23,914.36 L312.36,925.20 L297.29,935.99 L281.98,946.72 L266.40,957.40 L250.52,968.00 L234.29,978.52 L217.69,988.95 L200.66,999.27 L183.17,1009.46 L165.17,1019.49 L146.62,1029.34 L127.46,1038.99 L107.64,1048.41" fill="none" stroke="#3eeaea" stroke-width="1.1" stroke-opacity="1.0"/>
<path d="M656.48,624.01 L642.38,640.83 L628.22,656.95 L614.01,672.44 L599.76,687.35 L585.50,701.73 L571.22,715.64 L556.95,729.12 L542.68,742.21 L528.43,754.96 L514.19,767.41 L499.96,779.59 L485.74,791.54 L471.54,803.29 L457.34,814.86 L443.13,826.28 L428.91,837.57 L414.66,848.76 L400.37,859.86 L386.03,870.89 L371.60,881.86 L357.09,892.77 L342.45,903.63 L327.67,914.46 L312.72,925.24 L297.58,935.98 L282.20,946.68 L266.56,957.32 L250.63,967.89 L234.36,978.40 L217.71,988.81 L200.65,999.11 L183.14,1009.29 L165.11,1019.31 L146.54,1029.16 L127.37,1038.80 L107.54,1048.20" fill="none" stroke="#3eeaea" stroke-width="1.1" stroke-opacity="1.0"/>
<path d="M672.42,637.87 L657.35,653.82 L642.24,669.09 L627.11,683.74 L611.98,697.83 L596.87,711.41 L581.78,724.53 L566.72,737.25 L551.70,749.62 L536.73,761.66 L521.80,773.44 L506.91,784.98 L492.08,796.31 L477.28,807.48 L462.52,818.51 L447.78,829.43 L433.06,840.25 L418.34,851.01 L403.62,861.71 L388.86,872.38 L374.06,883.01 L359.19,893.63 L344.23,904.24 L329.15,914.84 L313.93,925.42 L298.54,935.99 L282.94,946.54 L267.10,957.07 L250.99,967.55 L234.57,977.97 L217.79,988.32 L200.62,998.58 L183.01,1008.71 L164.92,1018.70 L146.29,1028.52 L127.07,1038.12 L107.22,1047.49" fill="none" stroke="#3eeaea" stroke-width="1.1" stroke-opacity="1.0"/>
<path d="M679.19,644.28 L663.70,659.83 L648.19,674.71 L632.67,688.97 L617.17,702.68 L601.70,715.89 L586.26,728.65 L570.87,741.02 L555.53,753.05 L540.26,764.77 L525.04,776.23 L509.88,787.48 L494.77,798.53 L479.73,809.44 L464.73,820.22 L449.77,830.90 L434.83,841.51 L419.92,852.07 L405.00,862.59 L390.07,873.08 L375.11,883.57 L360.09,894.05 L344.99,904.54 L329.79,915.03 L314.45,925.52 L298.95,936.01 L283.26,946.50 L267.33,956.97 L251.15,967.40 L234.66,977.79 L217.83,988.11 L200.61,998.34 L182.96,1008.46 L164.83,1018.44 L146.17,1028.24 L126.94,1037.83 L107.07,1047.17" fill="none" stroke="#3eeaea" stroke-width="1.1" stroke-opacity="1.0"/>
<path d="M685.35,650.42 L669.48,665.59 L653.60,680.09 L637.74,693.98 L621.90,707.33 L606.10,720.18 L590.35,732.60 L574.66,744.64 L559.03,756.34 L543.47,767.75 L527.99,778.92 L512.58,789.88 L497.24,800.67 L481.96,811.32 L466.75,821.86 L451.58,832.32 L436.46,842.72 L421.36,853.09 L406.28,863.43 L391.19,873.77 L376.08,884.11 L360.92,894.46 L345.69,904.83 L330.37,915.22 L314.93,925.63 L299.33,936.04 L283.55,946.46 L267.55,956.88 L251.29,967.27 L234.74,977.62 L217.86,987.92 L200.59,998.13 L182.91,1008.23 L164.75,1018.19 L146.07,1027.97 L126.82,1037.55 L106.94,1046.88" fill="none" stroke="#3eeaea" stroke-width="1.1" stroke-opacity="1.0"/>
<path d="M688.81,654.00 L672.72,668.95 L656.64,683.23 L640.58,696.90 L624.55,710.04 L608.56,722.68 L592.64,734.90 L576.78,746.74 L560.99,758.26 L545.28,769.49 L529.65,780.48 L514.10,791.28 L498.62,801.91 L483.22,812.41 L467.88,822.82 L452.60,833.15 L437.37,843.43 L422.17,853.68 L406.99,863.92 L391.81,874.17 L376.62,884.43 L361.39,894.70 L346.09,905.01 L330.70,915.34 L315.20,925.69 L299.55,936.06 L283.72,946.45 L267.67,956.83 L251.38,967.20 L234.79,977.53 L217.88,987.80 L200.59,998.00 L182.88,1008.09 L164.70,1018.04 L146.01,1027.82 L126.75,1037.39 L106.86,1046.71" fill="none" stroke="#3eeaea" stroke-width="1.1" stroke-opacity="1.0"/>
<path d="M728.55,704.05 L710.03,715.90 L691.60,727.11 L673.28,737.78 L655.08,747.96 L637.01,757.73 L619.08,767.16 L601.29,776.29 L583.67,785.20 L566.19,793.92 L548.88,802.52 L531.72,811.03 L514.72,819.49 L497.86,827.95 L481.15,836.42 L464.56,844.95 L448.10,853.56 L431.73,862.26 L415.46,871.08 L399.25,880.02 L383.10,889.10 L366.96,898.32 L350.83,907.69 L334.68,917.18 L318.46,926.81 L302.16,936.56 L285.74,946.42 L269.16,956.36 L252.39,966.36 L235.38,976.40 L218.09,986.44 L200.48,996.45 L182.51,1006.39 L164.11,1016.22 L145.24,1025.89 L125.86,1035.35 L105.89,1044.55" fill="none" stroke="#3eeaea" stroke-width="1.1" stroke-opacity="1.0"/>
<path d="M742.06,726.36 L722.72,736.83 L703.50,746.68 L684.42,756.01 L665.49,764.89 L646.71,773.38 L628.11,781.57 L609.69,789.51 L591.45,797.26 L573.39,804.87 L555.51,812.41 L537.82,819.90 L520.31,827.41 L502.97,834.95 L485.79,842.58 L468.77,850.31 L451.88,858.17 L435.12,866.19 L418.48,874.37 L401.92,882.74 L385.43,891.30 L368.99,900.05 L352.57,908.99 L336.14,918.11 L319.67,927.42 L303.14,936.88 L286.50,946.50 L269.72,956.24 L252.77,966.07 L235.60,975.97 L218.17,985.91 L200.44,995.83 L182.36,1005.71 L163.87,1015.48 L144.94,1025.11 L125.50,1034.52 L105.50,1043.67" fill="none" stroke="#3eeaea" stroke-width="1.1" stroke-opacity="1.0"/>
<path d="M767.60,783.60 L746.90,791.01 L726.72,798.73 L707.03,806.71 L687.77,814.87 L668.89,823.16 L650.36,831.53 L632.13,839.93 L614.16,848.31 L596.41,856.65 L578.84,864.89 L561.42,873.01 L544.11,880.99 L526.87,888.81 L509.69,896.44 L492.53,903.88 L475.36,911.11 L458.16,918.14 L440.91,924.97 L423.58,931.60 L406.15,938.04 L388.60,944.31 L370.93,950.42 L353.10,956.41 L335.12,962.29 L316.97,968.11 L298.64,973.90 L280.12,979.69 L261.40,985.55 L242.49,991.51 L223.37,997.64 L204.06,1003.99 L184.54,1010.63 L164.83,1017.63 L144.93,1025.07 L124.83,1033.01 L104.56,1041.54" fill="none" stroke="#3eeaea" stroke-width="1.1" stroke-opacity="1.0"/>
<path d="M771.26,794.82 L750.32,801.54 L729.92,808.59 L709.99,815.91 L690.49,823.43 L671.39,831.11 L652.63,838.88 L634.18,846.71 L616.00,854.54 L598.04,862.34 L580.27,870.08 L562.66,877.72 L545.17,885.24 L527.77,892.62 L510.43,899.84 L493.13,906.89 L475.83,913.77 L458.51,920.46 L441.15,926.97 L423.72,933.31 L406.21,939.48 L388.60,945.50 L370.86,951.39 L352.99,957.18 L334.98,962.88 L316.80,968.53 L298.45,974.17 L279.91,979.84 L261.20,985.59 L242.28,991.46 L223.18,997.51 L203.87,1003.79 L184.36,1010.38 L164.66,1017.33 L144.76,1024.72 L124.67,1032.63 L104.39,1041.14" fill="none" stroke="#3eeaea" stroke-width="1.1" stroke-opacity="1.0"/>
<path d="M777.02,815.79 L755.72,821.21 L734.94,827.00 L714.64,833.10 L694.77,839.43 L675.30,845.95 L656.17,852.61 L637.36,859.36 L618.83,866.16 L600.54,872.97 L582.45,879.76 L564.53,886.50 L546.75,893.16 L529.08,899.73 L511.49,906.18 L493.96,912.51 L476.45,918.71 L458.94,924.77 L441.41,930.69 L423.84,936.48 L406.20,942.15 L388.48,947.72 L370.66,953.19 L352.72,958.59 L334.65,963.96 L316.43,969.31 L298.06,974.68 L279.52,980.12 L260.80,985.66 L241.90,991.36 L222.80,997.26 L203.52,1003.42 L184.03,1009.90 L164.34,1016.77 L144.45,1024.09 L124.36,1031.94 L104.07,1040.40" fill="none" stroke="#3eeaea" stroke-width="1.1" stroke-opacity="1.0"/>
<path d="M780.92,834.01 L759.38,838.31 L738.34,843.01 L717.78,848.03 L697.65,853.33 L677.92,858.85 L658.54,864.54 L639.48,870.35 L620.69,876.25 L602.16,882.20 L583.84,888.16 L565.71,894.12 L547.73,900.03 L529.87,905.89 L512.10,911.68 L494.40,917.38 L476.74,922.98 L459.10,928.49 L441.45,933.90 L423.78,939.22 L406.06,944.46 L388.26,949.63 L370.39,954.74 L352.40,959.81 L334.30,964.88 L316.07,969.97 L297.69,975.12 L279.15,980.35 L260.44,985.72 L241.55,991.26 L222.48,997.04 L203.21,1003.09 L183.74,1009.49 L164.07,1016.28 L144.19,1023.55 L124.10,1031.35 L103.80,1039.76" fill="none" stroke="#3eeaea" stroke-width="1.1" stroke-opacity="1.0"/>
<path d="M786.82,910.68 L764.88,910.25 L743.41,910.33 L722.38,910.86 L701.76,911.78 L681.51,913.06 L661.62,914.65 L642.04,916.52 L622.75,918.62 L603.71,920.92 L584.92,923.40 L566.33,926.03 L547.91,928.79 L529.66,931.66 L511.53,934.63 L493.51,937.67 L475.56,940.80 L457.68,943.99 L439.83,947.25 L421.99,950.58 L404.14,954.00 L386.27,957.49 L368.35,961.09 L350.36,964.80 L332.28,968.65 L314.10,972.65 L295.80,976.84 L277.35,981.25 L258.76,985.90 L239.99,990.83 L221.04,996.09 L201.89,1001.71 L182.52,1007.76 L162.93,1014.26 L143.10,1021.29 L123.02,1028.89 L102.68,1037.14" fill="none" stroke="#3eeaea" stroke-width="1.1" stroke-opacity="1.0"/>
<path d="M785.42,933.00 L763.56,931.20 L742.15,929.93 L721.16,929.14 L700.58,928.79 L680.36,928.83 L660.48,929.23 L640.91,929.94 L621.62,930.93 L602.60,932.17 L583.80,933.63 L565.21,935.29 L546.81,937.12 L528.55,939.12 L510.43,941.26 L492.42,943.53 L474.50,945.93 L456.63,948.45 L438.81,951.08 L421.00,953.84 L403.19,956.72 L385.36,959.73 L367.48,962.89 L349.54,966.21 L331.51,969.71 L313.39,973.40 L295.14,977.31 L276.75,981.48 L258.21,985.92 L239.50,990.68 L220.60,995.80 L201.49,1001.30 L182.16,1007.24 L162.60,1013.67 L142.79,1020.63 L122.71,1028.18 L102.36,1036.37" fill="none" stroke="#3eeaea" stroke-width="1.1" stroke-opacity="1.0"/>
<path d="M776.72,984.42 L755.32,979.43 L734.24,975.02 L713.45,971.11 L692.94,967.63 L672.71,964.52 L652.72,961.72 L632.98,959.17 L613.46,956.83 L594.14,954.64 L575.01,952.57 L556.05,950.57 L537.25,948.61 L518.57,946.67 L500.01,944.71 L481.55,942.72 L463.16,940.67 L444.82,938.56 L426.51,936.37 L408.21,934.10 L389.90,931.75 L371.56,929.33 L353.15,926.83 L334.67,924.28 L316.07,921.68 L297.35,919.07 L278.46,916.46 L259.39,913.88 L240.12,911.37 L220.60,908.96 L200.82,906.70 L180.75,904.62 L160.36,902.79 L139.62,901.25 L118.50,900.06 L96.97,899.28 L75.00,898.98" fill="none" stroke="#ee30c4" stroke-width="1.0" stroke-opacity="1.0"/>
<path d="M772.16,1001.21 L751.04,995.18 L730.21,989.75 L709.66,984.84 L689.38,980.39 L669.36,976.34 L649.58,972.62 L630.02,969.19 L610.68,965.99 L591.53,962.99 L572.56,960.13 L553.76,957.39 L535.10,954.72 L516.57,952.10 L498.15,949.51 L479.81,946.92 L461.55,944.31 L443.34,941.67 L425.15,939.00 L406.97,936.29 L388.77,933.53 L370.54,930.73 L352.24,927.90 L333.86,925.04 L315.36,922.17 L296.73,919.32 L277.94,916.49 L258.96,913.73 L239.76,911.06 L220.32,908.51 L200.61,906.13 L180.60,903.95 L160.26,902.03 L139.56,900.41 L118.48,899.15 L96.97,898.31 L75.00,897.95" fill="none" stroke="#ee30c4" stroke-width="1.0" stroke-opacity="1.0"/>
<path d="M771.44,1003.58 L750.36,997.41 L729.57,991.84 L709.06,986.79 L688.82,982.20 L668.83,978.01 L649.08,974.17 L629.56,970.61 L610.24,967.29 L591.12,964.17 L572.18,961.20 L553.40,958.35 L534.77,955.58 L516.26,952.87 L497.86,950.19 L479.55,947.51 L461.31,944.82 L443.11,942.12 L424.94,939.37 L406.78,936.60 L388.60,933.78 L370.39,930.93 L352.10,928.05 L333.74,925.15 L315.26,922.24 L296.64,919.35 L277.86,916.50 L258.90,913.71 L239.71,911.01 L220.28,908.45 L200.58,906.04 L180.58,903.85 L160.25,901.92 L139.56,900.29 L118.47,899.02 L96.97,898.17 L75.00,897.80" fill="none" stroke="#ee30c4" stroke-width="1.0" stroke-opacity="1.0"/>
<path d="M748.76,1060.01 L729.06,1050.35 L709.58,1041.35 L690.31,1032.95 L671.24,1025.09 L652.37,1017.72 L633.69,1010.78 L615.17,1004.24 L596.82,998.04 L578.62,992.16 L560.56,986.54 L542.62,981.17 L524.78,976.00 L507.03,971.01 L489.36,966.18 L471.74,961.48 L454.17,956.91 L436.61,952.44 L419.04,948.07 L401.46,943.79 L383.83,939.60 L366.14,935.49 L348.36,931.47 L330.46,927.55 L312.43,923.73 L294.23,920.03 L275.84,916.46 L257.23,913.05 L238.38,909.82 L219.25,906.79 L199.82,903.99 L180.05,901.46 L159.91,899.23 L139.38,897.35 L118.41,895.84 L96.97,894.77 L75.04,894.18" fill="none" stroke="#ee30c4" stroke-width="1.0" stroke-opacity="1.0"/>
<path d="M741.15,1074.26 L721.91,1063.72 L702.87,1053.85 L684.03,1044.60 L665.37,1035.91 L646.88,1027.73 L628.57,1020.02 L610.41,1012.72 L592.39,1005.79 L574.51,999.20 L556.75,992.92 L539.10,986.90 L521.54,981.12 L504.06,975.55 L486.64,970.18 L469.27,964.97 L451.91,959.92 L434.57,955.01 L417.21,950.22 L399.82,945.56 L382.38,941.02 L364.86,936.60 L347.24,932.29 L329.49,928.11 L311.60,924.06 L293.53,920.16 L275.26,916.41 L256.76,912.84 L238.01,909.47 L218.97,906.33 L199.61,903.43 L179.91,900.82 L159.83,898.51 L139.33,896.56 L118.40,895.00 L96.98,893.87 L75.06,893.23" fill="none" stroke="#ee30c4" stroke-width="1.0" stroke-opacity="1.0"/>
<path d="M739.62,1076.96 L720.47,1066.25 L701.52,1056.22 L682.76,1046.81 L664.18,1037.96 L645.78,1029.63 L627.53,1021.77 L609.45,1014.32 L591.50,1007.26 L573.69,1000.54 L555.99,994.12 L538.40,987.98 L520.90,982.09 L503.47,976.41 L486.10,970.93 L468.77,965.63 L451.46,960.49 L434.16,955.49 L416.85,950.63 L399.50,945.90 L382.09,941.29 L364.60,936.80 L347.02,932.44 L329.30,928.21 L311.43,924.12 L293.39,920.18 L275.15,916.40 L256.67,912.80 L237.93,909.41 L218.91,906.24 L199.57,903.32 L179.88,900.69 L159.81,898.37 L139.33,896.41 L118.40,894.84 L96.99,893.70 L75.06,893.04" fill="none" stroke="#ee30c4" stroke-width="1.0" stroke-opacity="1.0"/>
<path d="M730.91,1091.30 L712.30,1079.71 L693.86,1068.80 L675.59,1058.54 L657.47,1048.85 L639.51,1039.71 L621.70,1031.05 L604.02,1022.85 L586.46,1015.05 L569.02,1007.62 L551.68,1000.53 L534.42,993.74 L517.24,987.23 L500.12,980.97 L483.04,974.94 L465.99,969.12 L448.95,963.50 L431.90,958.05 L414.81,952.77 L397.68,947.65 L380.48,942.69 L363.19,937.89 L345.79,933.24 L328.24,928.75 L310.53,924.42 L292.63,920.28 L274.52,916.32 L256.16,912.56 L237.53,909.03 L218.61,905.75 L199.35,902.73 L179.73,900.02 L159.72,897.62 L139.28,895.59 L118.39,893.96 L97.00,892.76 L75.08,892.04" fill="none" stroke="#ee30c4" stroke-width="1.0" stroke-opacity="1.0"/>
<path d="M572.95,1225.97 L564.42,1205.69 L556.47,1185.58 L549.02,1165.65 L541.98,1145.90 L535.28,1126.35 L528.84,1107.01 L522.61,1087.87 L516.50,1068.94 L510.48,1050.23 L504.48,1031.72 L498.46,1013.42 L492.37,995.32 L486.17,977.41 L479.83,959.68 L473.32,942.12 L466.62,924.72 L459.69,907.46 L452.54,890.33 L445.14,873.29 L437.49,856.34 L429.58,839.45 L421.43,822.59 L413.04,805.74 L404.41,788.86 L395.58,771.93 L386.55,754.91 L377.36,737.76 L368.04,720.45 L358.62,702.94 L349.14,685.19 L339.65,667.14 L330.19,648.77 L320.83,630.01 L311.62,610.83 L302.62,591.16 L293.90,570.96" fill="none" stroke="#c21cf8" stroke-width="1.1" stroke-opacity="1.0"/>
<path d="M526.74,1242.39 L520.57,1221.28 L514.06,1200.71 L507.26,1180.61 L500.24,1160.95 L493.06,1141.68 L485.76,1122.77 L478.39,1104.16 L470.99,1085.82 L463.61,1067.71 L456.27,1049.81 L449.00,1032.06 L441.84,1014.45 L434.79,996.94 L427.88,979.49 L421.12,962.09 L414.52,944.71 L408.08,927.31 L401.79,909.89 L395.66,892.40 L389.68,874.85 L383.82,857.20 L378.08,839.43 L372.42,821.54 L366.83,803.52 L361.27,785.33 L355.70,766.99 L350.08,748.46 L344.38,729.76 L338.54,710.87 L332.51,691.79 L326.22,672.51 L319.63,653.03 L312.66,633.35 L305.24,613.48 L297.30,593.41 L288.76,573.15" fill="none" stroke="#c21cf8" stroke-width="1.1" stroke-opacity="1.0"/>
<path d="M506.84,1247.33 L501.90,1225.91 L496.58,1205.02 L490.95,1184.60 L485.06,1164.63 L478.97,1145.04 L472.73,1125.81 L466.37,1106.90 L459.95,1088.27 L453.49,1069.88 L447.03,1051.71 L440.61,1033.71 L434.24,1015.86 L427.94,998.12 L421.73,980.48 L415.63,962.89 L409.63,945.34 L403.75,927.80 L397.97,910.25 L392.31,892.66 L386.75,875.01 L381.27,857.30 L375.85,839.48 L370.49,821.56 L365.14,803.52 L359.79,785.34 L354.39,767.01 L348.92,748.51 L343.31,729.85 L337.54,711.00 L331.55,691.97 L325.29,672.75 L318.69,653.33 L311.69,633.71 L304.23,613.89 L296.23,593.87 L287.62,573.65" fill="none" stroke="#c21cf8" stroke-width="1.1" stroke-opacity="1.0"/>
<path d="M490.37,1250.51 L486.45,1228.90 L482.12,1207.80 L477.45,1187.17 L472.50,1166.98 L467.32,1147.18 L461.94,1127.75 L456.43,1108.63 L450.81,1089.80 L445.12,1071.23 L439.40,1052.87 L433.67,1034.71 L427.95,1016.70 L422.27,998.82 L416.64,981.04 L411.07,963.33 L405.57,945.68 L400.15,928.04 L394.80,910.41 L389.51,892.76 L384.29,875.07 L379.11,857.32 L373.97,839.48 L368.84,821.55 L363.69,803.51 L358.50,785.35 L353.24,767.04 L347.86,748.58 L342.33,729.95 L336.61,711.16 L330.64,692.18 L324.38,673.01 L317.76,653.65 L310.73,634.08 L303.22,614.31 L295.16,594.34 L286.49,574.15" fill="none" stroke="#c21cf8" stroke-width="1.1" stroke-opacity="1.0"/>
<path d="M482.39,1251.77 L478.96,1230.07 L475.11,1208.89 L470.92,1188.18 L466.42,1167.90 L461.67,1148.02 L456.72,1128.50 L451.61,1109.30 L446.38,1090.39 L441.07,1071.74 L435.70,1053.31 L430.30,1035.07 L424.91,1017.00 L419.53,999.06 L414.17,981.23 L408.87,963.47 L403.61,945.77 L398.41,928.11 L393.26,910.45 L388.16,892.77 L383.10,875.06 L378.07,857.30 L373.06,839.46 L368.03,821.53 L362.98,803.50 L357.87,785.34 L352.67,767.05 L347.34,748.61 L341.85,730.01 L336.15,711.23 L330.19,692.28 L323.93,673.14 L317.30,653.81 L310.25,634.27 L302.72,614.52 L294.63,594.57 L285.92,574.40" fill="none" stroke="#c21cf8" stroke-width="1.1" stroke-opacity="1.0"/>
<path d="M477.47,1252.45 L474.34,1230.71 L470.79,1209.48 L466.88,1188.72 L462.66,1168.40 L458.18,1148.47 L453.50,1128.90 L448.64,1109.65 L443.65,1090.70 L438.57,1072.00 L433.42,1053.53 L428.23,1035.26 L423.03,1017.15 L417.84,999.17 L412.66,981.31 L407.51,963.53 L402.41,945.81 L397.34,928.12 L392.32,910.45 L387.34,892.76 L382.38,875.04 L377.45,857.27 L372.51,839.43 L367.56,821.50 L362.57,803.47 L357.51,785.32 L352.35,767.04 L347.06,748.61 L341.59,730.02 L335.91,711.26 L329.96,692.33 L323.70,673.20 L317.07,653.88 L310.01,634.36 L302.46,614.63 L294.36,594.69 L285.63,574.53" fill="none" stroke="#c21cf8" stroke-width="1.1" stroke-opacity="1.0"/>
<path d="M455.83,1254.63 L454.04,1232.75 L451.79,1211.37 L449.15,1190.45 L446.16,1169.96 L442.88,1149.86 L439.34,1130.13 L435.59,1110.72 L431.67,1091.60 L427.60,1072.75 L423.42,1054.13 L419.16,1035.71 L414.83,1017.47 L410.45,999.38 L406.05,981.41 L401.62,963.54 L397.18,945.74 L392.73,927.98 L388.28,910.25 L383.81,892.52 L379.33,874.78 L374.81,857.00 L370.25,839.16 L365.62,821.24 L360.92,803.23 L356.10,785.12 L351.14,766.88 L346.01,748.50 L340.66,729.96 L335.07,711.27 L329.19,692.40 L322.96,673.33 L316.34,654.08 L309.28,634.61 L301.70,614.94 L293.56,595.04 L284.78,574.91" fill="none" stroke="#c21cf8" stroke-width="1.1" stroke-opacity="1.0"/>
<path d="M448.79,414.33 L449.85,385.35" stroke="#fbbca2" stroke-width="2.8"/>
<path d="M458.52,414.78 L460.17,385.83" stroke="#fbbca2" stroke-width="2.8"/>
<path d="M463.18,415.07 L465.10,386.13" stroke="#fbbca2" stroke-width="2.8"/>
<path d="M467.40,415.37 L469.58,386.45" stroke="#6ff56a" stroke-width="2.8"/>
<path d="M491.85,417.83 L495.48,389.06" stroke="#fbbca2" stroke-width="2.8"/>
<path d="M506.95,419.98 L511.49,391.33" stroke="#fbbca2" stroke-width="2.8"/>
<path d="M523.64,422.92 L529.17,394.45" stroke="#fff4a8" stroke-width="2.8"/>
<path d="M642.30,462.40 L654.93,436.29" stroke="#ee4634" stroke-width="2.8"/>
<path d="M664.52,473.85 L678.47,448.42" stroke="#fbbca2" stroke-width="2.8"/>
<path d="M708.08,500.83 L724.63,477.02" stroke="#fff4a8" stroke-width="2.8"/>
<path d="M723.18,511.76 L740.63,488.60" stroke="#6ff56a" stroke-width="2.8"/>
<path d="M731.90,518.49 L749.88,495.73" stroke="#7a6ef4" stroke-width="2.8"/>
<path d="M739.16,524.34 L757.57,501.93" stroke="#fbbca2" stroke-width="2.8"/>
<path d="M760.25,542.70 L779.91,521.39" stroke="#fb4646" stroke-width="2.8"/>
<path d="M769.47,551.44 L789.69,530.65" stroke="#3f8fcb" stroke-width="2.8"/>
<path d="M777.28,559.21 L797.97,538.88" stroke="#fff4a8" stroke-width="2.8"/>
<path d="M783.75,565.92 L804.82,545.99" stroke="#fbbca2" stroke-width="2.8"/>
<path d="M837.25,633.66 L861.52,617.78" stroke="#fbbca2" stroke-width="2.8"/>
<path d="M855.63,664.12 L880.99,650.07" stroke="#6ff56a" stroke-width="2.8"/>
<path d="M890.05,741.44 L917.47,732.00" stroke="#6ff56a" stroke-width="2.8"/>
<path d="M894.79,755.93 L922.49,747.36" stroke="#fbbca2" stroke-width="2.8"/>
<path d="M903.09,786.16 L931.28,779.39" stroke="#fb4646" stroke-width="2.8"/>
<path d="M908.22,810.19 L936.72,804.86" stroke="#3f8fcb" stroke-width="2.8"/>
<path d="M916.26,914.75 L945.25,915.66" stroke="#7a6ef4" stroke-width="2.8"/>
<path d="M914.35,945.19 L943.22,947.92" stroke="#3f8fcb" stroke-width="2.8"/>
<path d="M902.49,1015.31 L930.65,1022.23" stroke="#fbbca2" stroke-width="2.8"/>
<path d="M895.78,1039.82 L923.54,1048.21" stroke="#3f8fcb" stroke-width="2.8"/>
<path d="M894.28,1044.68 L921.96,1053.36" stroke="#6ff56a" stroke-width="2.8"/>
<path d="M864.35,1118.40 L890.24,1131.48" stroke="#fb4646" stroke-width="2.8"/>
<path d="M853.56,1138.57 L878.80,1152.85" stroke="#fbbca2" stroke-width="2.8"/>
<path d="M851.88,1141.52 L877.02,1155.97" stroke="#fbbca2" stroke-width="2.8"/>
<path d="M839.55,1161.79 L863.96,1177.45" stroke="#fb4646" stroke-width="2.8"/>
<path d="M624.59,1344.73 L636.16,1371.33" stroke="#fff4a8" stroke-width="2.8"/>
<path d="M562.38,1366.89 L570.22,1394.80" stroke="#fbbca2" stroke-width="2.8"/>
<path d="M536.08,1373.49 L542.36,1401.80" stroke="#fff000" stroke-width="2.8"/>
<path d="M511.13,1378.34 L515.92,1406.94" stroke="#6ff56a" stroke-width="2.8"/>
<path d="M502.76,1379.67 L507.05,1408.35" stroke="#e0e0e0" stroke-width="2.8"/>
<path d="M499.41,1380.16 L503.49,1408.87" stroke="#fb4646" stroke-width="2.8"/>
<path d="M494.37,1380.85 L498.16,1409.60" stroke="#fbbca2" stroke-width="2.8"/>
<path d="M464.87,1383.82 L466.89,1412.75" stroke="#6ff56a" stroke-width="2.8"/>
<path d="M448.39,355.28 A544.50,544.50 0 0 1 453.52,355.47 L453.45,356.96 A543.00,543.00 0 0 0 448.34,356.78 Z" fill="#4292c6"/>
<path d="M459.88,344.75 A555.50,555.50 0 0 1 465.11,345.05 L464.34,357.52 A543.00,543.00 0 0 0 459.23,357.23 Z" fill="#4292c6"/>
<path d="M465.45,333.05 A567.50,567.50 0 0 1 470.78,333.40 L469.07,357.84 A543.00,543.00 0 0 0 463.96,357.50 Z" fill="#4292c6"/>
<path d="M469.37,354.85 A546.00,546.00 0 0 1 474.50,355.24 L474.26,358.23 A543.00,543.00 0 0 0 469.16,357.84 Z" fill="#4292c6"/>
<path d="M497.72,350.54 A553.00,553.00 0 0 1 502.89,351.19 L501.59,361.11 A543.00,543.00 0 0 0 496.52,360.47 Z" fill="#4292c6"/>
<path d="M513.64,361.31 A544.50,544.50 0 0 1 518.71,362.11 L518.47,363.59 A543.00,543.00 0 0 0 513.42,362.79 Z" fill="#4292c6"/>
<path d="M533.40,359.12 A550.00,550.00 0 0 1 538.49,360.11 L537.12,366.97 A543.00,543.00 0 0 0 532.10,365.99 Z" fill="#4292c6"/>
<path d="M674.07,390.57 A564.00,564.00 0 0 1 678.86,392.88 L669.63,411.75 A543.00,543.00 0 0 0 665.02,409.52 Z" fill="#4292c6"/>
<path d="M690.23,420.67 A544.50,544.50 0 0 1 694.73,423.13 L694.00,424.44 A543.00,543.00 0 0 0 689.51,421.99 Z" fill="#4292c6"/>
<path d="M741.18,445.31 A550.00,550.00 0 0 1 745.44,448.25 L741.44,453.99 A543.00,543.00 0 0 0 737.23,451.09 Z" fill="#4292c6"/>
<path d="M756.64,463.10 A544.50,544.50 0 0 1 760.73,466.19 L759.83,467.39 A543.00,543.00 0 0 0 755.74,464.31 Z" fill="#4292c6"/>
<path d="M778.77,454.85 A564.50,564.50 0 0 1 782.95,458.15 L769.54,474.96 A543.00,543.00 0 0 0 765.53,471.79 Z" fill="#4292c6"/>
<path d="M814.26,430.08 A606.00,606.00 0 0 1 818.66,433.72 L778.36,482.14 A543.00,543.00 0 0 0 774.41,478.88 Z" fill="#4292c6"/>
<path d="M814.59,480.59 A568.00,568.00 0 0 1 818.52,484.23 L801.46,502.50 A543.00,543.00 0 0 0 797.71,499.03 Z" fill="#4292c6"/>
<path d="M824.38,491.86 A566.50,566.50 0 0 1 828.21,495.58 L811.73,512.34 A543.00,543.00 0 0 0 808.06,508.77 Z" fill="#4292c6"/>
<path d="M823.94,510.39 A553.00,553.00 0 0 1 827.59,514.11 L820.41,521.08 A543.00,543.00 0 0 0 816.83,517.42 Z" fill="#4292c6"/>
<path d="M826.89,516.26 A551.00,551.00 0 0 1 830.48,520.01 L824.68,525.52 A543.00,543.00 0 0 0 821.14,521.82 Z" fill="#4292c6"/>
<path d="M841.13,507.98 A567.00,567.00 0 0 1 844.80,511.87 L827.28,528.27 A543.00,543.00 0 0 0 823.77,524.56 Z" fill="#4292c6"/>
<path d="M922.33,574.67 A589.00,589.00 0 0 1 925.37,579.31 L886.76,604.32 A543.00,543.00 0 0 0 883.96,600.04 Z" fill="#4292c6"/>
<path d="M925.17,622.52 A566.50,566.50 0 0 1 927.76,627.19 L907.15,638.49 A543.00,543.00 0 0 0 904.67,634.01 Z" fill="#4292c6"/>
<path d="M952.07,717.33 A552.00,552.00 0 0 1 953.77,722.25 L945.24,725.14 A543.00,543.00 0 0 0 943.58,720.30 Z" fill="#4292c6"/>
<path d="M985.05,724.60 A581.00,581.00 0 0 1 986.67,729.83 L950.33,740.92 A543.00,543.00 0 0 0 948.81,736.04 Z" fill="#4292c6"/>
<path d="M968.11,767.87 A553.00,553.00 0 0 1 969.32,772.94 L959.59,775.23 A543.00,543.00 0 0 0 958.39,770.25 Z" fill="#4292c6"/>
<path d="M984.88,793.14 A564.00,564.00 0 0 1 985.86,798.37 L965.20,802.13 A543.00,543.00 0 0 0 964.26,797.10 Z" fill="#4292c6"/>
<path d="M1038.75,916.79 A608.00,608.00 0 0 1 1038.56,922.52 L973.61,920.06 A543.00,543.00 0 0 0 973.78,914.95 Z" fill="#4292c6"/>
<path d="M982.87,948.07 A554.00,554.00 0 0 1 982.38,953.27 L971.44,952.20 A543.00,543.00 0 0 0 971.91,947.11 Z" fill="#4292c6"/>
<path d="M967.94,1029.70 A552.50,552.50 0 0 1 966.69,1034.75 L957.48,1032.43 A543.00,543.00 0 0 0 958.71,1027.46 Z" fill="#4292c6"/>
<path d="M961.83,1058.05 A554.00,554.00 0 0 1 960.31,1063.05 L949.80,1059.80 A543.00,543.00 0 0 0 951.29,1054.90 Z" fill="#4292c6"/>
<path d="M952.50,1061.23 A546.00,546.00 0 0 1 950.95,1066.14 L948.09,1065.22 A543.00,543.00 0 0 0 949.63,1060.34 Z" fill="#4292c6"/>
<path d="M935.80,1153.28 A565.00,565.00 0 0 1 933.38,1158.02 L913.82,1147.96 A543.00,543.00 0 0 0 916.14,1143.40 Z" fill="#4292c6"/>
<path d="M925.80,1176.38 A567.00,567.00 0 0 1 923.17,1181.03 L902.34,1169.11 A543.00,543.00 0 0 0 904.86,1164.66 Z" fill="#4292c6"/>
<path d="M932.55,1184.77 A577.00,577.00 0 0 1 929.84,1189.48 L900.44,1172.39 A543.00,543.00 0 0 0 903.00,1167.96 Z" fill="#4292c6"/>
<path d="M891.01,1191.77 A545.00,545.00 0 0 1 888.23,1196.09 L886.55,1195.00 A543.00,543.00 0 0 0 889.32,1190.69 Z" fill="#4292c6"/>
<path d="M651.00,1401.40 A548.00,548.00 0 0 1 646.26,1403.45 L644.30,1398.85 A543.00,543.00 0 0 0 649.00,1396.82 Z" fill="#4292c6"/>
<path d="M579.90,1423.25 A544.50,544.50 0 0 1 574.95,1424.63 L574.56,1423.18 A543.00,543.00 0 0 0 579.49,1421.80 Z" fill="#4292c6"/>
<path d="M551.85,1437.08 A551.00,551.00 0 0 1 546.78,1438.20 L545.10,1430.38 A543.00,543.00 0 0 0 550.10,1429.28 Z" fill="#4292c6"/>
<path d="M526.13,1446.29 A555.00,555.00 0 0 1 520.98,1447.16 L519.03,1435.32 A543.00,543.00 0 0 0 524.08,1434.46 Z" fill="#4292c6"/>
<path d="M524.46,1512.42 A620.00,620.00 0 0 1 518.68,1513.27 L507.79,1437.04 A543.00,543.00 0 0 0 512.85,1436.30 Z" fill="#4292c6"/>
<path d="M506.98,1442.21 A548.00,548.00 0 0 1 501.86,1442.90 L501.22,1437.94 A543.00,543.00 0 0 0 506.29,1437.26 Z" fill="#4292c6"/>
<path d="M474.51,1468.84 A571.00,571.00 0 0 1 469.14,1469.22 L467.27,1441.29 A543.00,543.00 0 0 0 472.37,1440.92 Z" fill="#4292c6"/>
<rect x="443.04" y="488.85" width="7.2" height="7.2" fill="#d9d9d9" transform="rotate(2.20 446.64 492.45)"/>
<rect x="454.17" y="431.57" width="7.2" height="7.2" fill="#99000d" transform="rotate(3.30 457.77 435.17)"/>
<rect x="458.63" y="431.85" width="7.2" height="7.2" fill="#99000d" transform="rotate(3.85 462.23 435.45)"/>
<rect x="460.67" y="463.58" width="7.2" height="7.2" fill="#f5603c" transform="rotate(4.40 464.27 467.18)"/>
<rect x="478.45" y="491.76" width="7.2" height="7.2" fill="#d9d9d9" transform="rotate(7.20 482.05 495.36)"/>
<rect x="491.12" y="493.57" width="7.2" height="7.2" fill="#d9d9d9" transform="rotate(9.00 494.72 497.17)"/>
<rect x="505.13" y="496.03" width="7.2" height="7.2" fill="#d9d9d9" transform="rotate(11.00 508.73 499.63)"/>
<rect x="629.83" y="477.16" width="7.2" height="7.2" fill="#99000d" transform="rotate(25.80 633.43 480.76)"/>
<rect x="651.46" y="488.33" width="7.2" height="7.2" fill="#99000d" transform="rotate(28.80 655.06 491.93)"/>
<rect x="659.88" y="561.40" width="7.2" height="7.2" fill="#d9d9d9" transform="rotate(34.80 663.48 565.00)"/>
<rect x="682.62" y="558.44" width="7.2" height="7.2" fill="#fc8a6a" transform="rotate(37.10 686.22 562.04)"/>
<rect x="680.15" y="576.44" width="7.2" height="7.2" fill="#d9d9d9" transform="rotate(38.35 683.75 580.04)"/>
<rect x="709.88" y="553.22" width="7.2" height="7.2" fill="#f5603c" transform="rotate(39.50 713.48 556.82)"/>
<rect x="714.87" y="585.46" width="7.2" height="7.2" fill="#fc8a6a" transform="rotate(42.80 718.47 589.06)"/>
<rect x="711.90" y="604.36" width="7.2" height="7.2" fill="#d9d9d9" transform="rotate(44.30 715.50 607.96)"/>
<rect x="755.67" y="573.87" width="7.2" height="7.2" fill="#99000d" transform="rotate(45.55 759.27 577.47)"/>
<rect x="759.58" y="577.91" width="7.2" height="7.2" fill="#99000d" transform="rotate(46.25 763.18 581.51)"/>
<rect x="722.88" y="615.50" width="7.2" height="7.2" fill="#d9d9d9" transform="rotate(46.50 726.48 619.10)"/>
<rect x="812.19" y="644.10" width="7.2" height="7.2" fill="#99000d" transform="rotate(56.80 815.79 647.70)"/>
<rect x="783.68" y="698.41" width="7.2" height="7.2" fill="#d9d9d9" transform="rotate(61.00 787.28 702.01)"/>
<rect x="847.56" y="752.05" width="7.2" height="7.2" fill="#f5603c" transform="rotate(71.10 851.16 755.65)"/>
<rect x="861.79" y="761.85" width="7.2" height="7.2" fill="#99000d" transform="rotate(72.85 865.39 765.45)"/>
<rect x="854.12" y="793.45" width="7.2" height="7.2" fill="#f5603c" transform="rotate(76.50 857.72 797.05)"/>
<rect x="827.80" y="820.97" width="7.2" height="7.2" fill="#d9d9d9" transform="rotate(79.40 831.40 824.57)"/>
<rect x="892.24" y="911.32" width="7.2" height="7.2" fill="#99000d" transform="rotate(91.90 895.84 914.92)"/>
<rect x="885.25" y="938.78" width="7.2" height="7.2" fill="#99000d" transform="rotate(95.35 888.85 942.38)"/>
<rect x="873.78" y="1006.37" width="7.2" height="7.2" fill="#99000d" transform="rotate(103.90 877.38 1009.97)"/>
<rect x="857.34" y="1026.53" width="7.2" height="7.2" fill="#f5603c" transform="rotate(106.90 860.94 1030.13)"/>
<rect x="816.32" y="1017.04" width="7.2" height="7.2" fill="#d9d9d9" transform="rotate(107.30 819.92 1020.64)"/>
<rect x="790.99" y="1079.56" width="7.2" height="7.2" fill="#d9d9d9" transform="rotate(116.80 794.59 1083.16)"/>
<rect x="832.40" y="1124.57" width="7.2" height="7.2" fill="#99000d" transform="rotate(119.45 836.00 1128.17)"/>
<rect x="830.39" y="1128.10" width="7.2" height="7.2" fill="#99000d" transform="rotate(119.95 833.99 1131.70)"/>
<rect x="770.19" y="1115.97" width="7.2" height="7.2" fill="#d9d9d9" transform="rotate(122.70 773.79 1119.57)"/>
<rect x="600.30" y="1293.54" width="7.2" height="7.2" fill="#f5603c" transform="rotate(156.50 603.90 1297.14)"/>
<rect x="553.26" y="1343.65" width="7.2" height="7.2" fill="#99000d" transform="rotate(164.30 556.86 1347.25)"/>
<rect x="514.87" y="1293.75" width="7.2" height="7.2" fill="#d9d9d9" transform="rotate(167.60 518.47 1297.35)"/>
<rect x="496.38" y="1297.37" width="7.2" height="7.2" fill="#d9d9d9" transform="rotate(170.25 499.98 1300.97)"/>
<rect x="494.21" y="1340.26" width="7.2" height="7.2" fill="#f5603c" transform="rotate(171.45 497.81 1343.86)"/>
<rect x="495.34" y="1356.01" width="7.2" height="7.2" fill="#99000d" transform="rotate(171.60 498.94 1359.61)"/>
<rect x="487.72" y="1309.37" width="7.2" height="7.2" fill="#fc8a6a" transform="rotate(171.70 491.32 1312.97)"/>
<rect x="481.27" y="1299.67" width="7.2" height="7.2" fill="#d9d9d9" transform="rotate(172.40 484.87 1303.27)"/>
<rect x="456.52" y="1302.21" width="7.2" height="7.2" fill="#d9d9d9" transform="rotate(175.90 460.12 1305.81)"/>
<text x="0" y="0" font-size="16.5" fill="#3d8ec9" stroke="#3d8ec9" stroke-width="0.25" dominant-baseline="central" textLength="118.56" lengthAdjust="spacingAndGlyphs" transform="translate(457.33 255.70) rotate(-88.15)">RLOC_00003371</text>
<path d="M457.14,261.69 L457.28,257.20" stroke="#3d8ec9" stroke-width="0.8" stroke-opacity="0.7"/>
<text x="0" y="0" font-size="16.5" fill="#3d8ec9" stroke="#3d8ec9" stroke-width="0.25" dominant-baseline="central" textLength="118.15" lengthAdjust="spacingAndGlyphs" transform="translate(475.43 256.19) rotate(-87.03)">RLOC_00003379</text>
<path d="M475.12,262.18 L475.35,257.69" stroke="#3d8ec9" stroke-width="0.8" stroke-opacity="0.7"/>
<text x="0" y="0" font-size="16.5" fill="#3d8ec9" stroke="#3d8ec9" stroke-width="0.25" dominant-baseline="central" textLength="117.95" lengthAdjust="spacingAndGlyphs" transform="translate(493.73 257.68) rotate(-84.79)">RLOC_00003383</text>
<path d="M493.18,263.65 L493.59,259.17" stroke="#3d8ec9" stroke-width="0.8" stroke-opacity="0.7"/>
<text x="0" y="0" font-size="16.5" fill="#3d8ec9" stroke="#3d8ec9" stroke-width="0.25" dominant-baseline="central" textLength="123.33" lengthAdjust="spacingAndGlyphs" transform="translate(513.97 264.66) rotate(-83.06)">RLOC_00003412</text>
<path d="M513.25,270.62 L513.79,266.15" stroke="#3d8ec9" stroke-width="0.8" stroke-opacity="0.7"/>
<text x="0" y="0" font-size="16.5" fill="#3d8ec9" stroke="#3d8ec9" stroke-width="0.25" dominant-baseline="central" textLength="120.03" lengthAdjust="spacingAndGlyphs" transform="translate(536.79 266.15) rotate(-82.16)">RLOC_00003427</text>
<path d="M535.97,272.10 L536.59,267.64" stroke="#3d8ec9" stroke-width="0.8" stroke-opacity="0.7"/>
<text x="0" y="0" font-size="16.5" fill="#3d8ec9" stroke="#3d8ec9" stroke-width="0.25" dominant-baseline="central" textLength="119.92" lengthAdjust="spacingAndGlyphs" transform="translate(559.57 269.63) rotate(-80.79)">RLOC_00003435</text>
<path d="M558.61,275.56 L559.33,271.11" stroke="#3d8ec9" stroke-width="0.8" stroke-opacity="0.7"/>
<text x="0" y="0" font-size="16.5" fill="#3d8ec9" stroke="#3d8ec9" stroke-width="0.25" dominant-baseline="central" textLength="118.41" lengthAdjust="spacingAndGlyphs" transform="translate(494.68 123.89) rotate(-86.46)">RLOC_00003389</text>
<path d="M494.31,129.88 L494.59,125.39" stroke="#3d8ec9" stroke-width="0.8" stroke-opacity="0.7"/>
<text x="0" y="0" font-size="16.5" fill="#3d8ec9" stroke="#3d8ec9" stroke-width="0.25" dominant-baseline="central" textLength="119.35" lengthAdjust="spacingAndGlyphs" transform="translate(713.45 322.14) rotate(-63.08)">RLOC_00003534</text>
<path d="M710.73,327.49 L712.77,323.47" stroke="#3d8ec9" stroke-width="0.8" stroke-opacity="0.7"/>
<text x="0" y="0" font-size="16.5" fill="#3d8ec9" stroke="#3d8ec9" stroke-width="0.25" dominant-baseline="central" textLength="122.60" lengthAdjust="spacingAndGlyphs" transform="translate(741.62 337.02) rotate(-60.29)">RLOC_00003556</text>
<path d="M738.65,342.23 L740.88,338.32" stroke="#3d8ec9" stroke-width="0.8" stroke-opacity="0.7"/>
<text x="0" y="0" font-size="16.5" fill="#3d8ec9" stroke="#3d8ec9" stroke-width="0.25" dominant-baseline="central" textLength="118.06" lengthAdjust="spacingAndGlyphs" transform="translate(800.11 369.65) rotate(-54.89)">RLOC_00003579</text>
<path d="M796.66,374.56 L799.25,370.88" stroke="#3d8ec9" stroke-width="0.8" stroke-opacity="0.7"/>
<text x="0" y="0" font-size="16.5" fill="#3d8ec9" stroke="#3d8ec9" stroke-width="0.25" dominant-baseline="central" textLength="120.04" lengthAdjust="spacingAndGlyphs" transform="translate(821.90 387.92) rotate(-53.41)">RLOC_00003600</text>
<path d="M818.32,392.74 L821.01,389.13" stroke="#3d8ec9" stroke-width="0.8" stroke-opacity="0.7"/>
<text x="0" y="0" font-size="16.5" fill="#3d8ec9" stroke="#3d8ec9" stroke-width="0.25" dominant-baseline="central" textLength="119.36" lengthAdjust="spacingAndGlyphs" transform="translate(836.78 398.41) rotate(-53.14)">RLOC_00003617</text>
<path d="M833.18,403.21 L835.88,399.61" stroke="#3d8ec9" stroke-width="0.8" stroke-opacity="0.7"/>
<text x="0" y="0" font-size="16.5" fill="#3d8ec9" stroke="#3d8ec9" stroke-width="0.25" dominant-baseline="central" textLength="120.13" lengthAdjust="spacingAndGlyphs" transform="translate(850.64 408.80) rotate(-51.14)">RLOC_00003622</text>
<path d="M846.87,413.47 L849.70,409.97" stroke="#3d8ec9" stroke-width="0.8" stroke-opacity="0.7"/>
<text x="0" y="0" font-size="16.5" fill="#3d8ec9" stroke="#3d8ec9" stroke-width="0.25" dominant-baseline="central" textLength="122.30" lengthAdjust="spacingAndGlyphs" transform="translate(870.60 428.83) rotate(-49.12)">RLOC_00003650</text>
<path d="M866.67,433.37 L869.61,429.97" stroke="#3d8ec9" stroke-width="0.8" stroke-opacity="0.7"/>
<text x="0" y="0" font-size="16.5" fill="#3d8ec9" stroke="#3d8ec9" stroke-width="0.25" dominant-baseline="central" textLength="120.28" lengthAdjust="spacingAndGlyphs" transform="translate(884.49 439.24) rotate(-47.57)">RLOC_00003664</text>
<path d="M880.44,443.67 L883.48,440.35" stroke="#3d8ec9" stroke-width="0.8" stroke-opacity="0.7"/>
<text x="0" y="0" font-size="16.5" fill="#3d8ec9" stroke="#3d8ec9" stroke-width="0.25" dominant-baseline="central" textLength="122.05" lengthAdjust="spacingAndGlyphs" transform="translate(898.47 452.32) rotate(-47.22)">RLOC_00003674</text>
<path d="M894.39,456.72 L897.45,453.42" stroke="#3d8ec9" stroke-width="0.8" stroke-opacity="0.7"/>
<text x="0" y="0" font-size="16.5" fill="#3d8ec9" stroke="#3d8ec9" stroke-width="0.25" dominant-baseline="central" textLength="119.55" lengthAdjust="spacingAndGlyphs" transform="translate(911.49 464.49) rotate(-45.96)">RLOC_00003687</text>
<path d="M907.31,468.80 L910.44,465.57" stroke="#3d8ec9" stroke-width="0.8" stroke-opacity="0.7"/>
<text x="0" y="0" font-size="16.5" fill="#3d8ec9" stroke="#3d8ec9" stroke-width="0.25" dominant-baseline="central" textLength="120.55" lengthAdjust="spacingAndGlyphs" transform="translate(995.74 364.59) rotate(-43.64)">RLOC_00003690</text>
<path d="M991.40,368.73 L994.65,365.62" stroke="#3d8ec9" stroke-width="0.8" stroke-opacity="0.7"/>
<text x="0" y="0" font-size="16.5" fill="#3d8ec9" stroke="#3d8ec9" stroke-width="0.25" dominant-baseline="central" textLength="118.64" lengthAdjust="spacingAndGlyphs" transform="translate(972.19 548.61) rotate(-33.97)">RLOC_00003754</text>
<path d="M967.21,551.96 L970.94,549.44" stroke="#3d8ec9" stroke-width="0.8" stroke-opacity="0.7"/>
<text x="0" y="0" font-size="16.5" fill="#3d8ec9" stroke="#3d8ec9" stroke-width="0.25" dominant-baseline="central" textLength="118.58" lengthAdjust="spacingAndGlyphs" transform="translate(996.87 588.75) rotate(-29.40)">RLOC_00003786</text>
<path d="M991.64,591.70 L995.56,589.49" stroke="#3d8ec9" stroke-width="0.8" stroke-opacity="0.7"/>
<text x="0" y="0" font-size="16.5" fill="#3d8ec9" stroke="#3d8ec9" stroke-width="0.25" dominant-baseline="central" textLength="121.28" lengthAdjust="spacingAndGlyphs" transform="translate(1040.67 692.65) rotate(-18.55)">RLOC_00003870</text>
<path d="M1034.98,694.56 L1039.25,693.13" stroke="#3d8ec9" stroke-width="0.8" stroke-opacity="0.7"/>
<text x="0" y="0" font-size="16.5" fill="#3d8ec9" stroke="#3d8ec9" stroke-width="0.25" dominant-baseline="central" textLength="122.22" lengthAdjust="spacingAndGlyphs" transform="translate(1046.29 711.68) rotate(-17.64)">RLOC_00003902</text>
<path d="M1040.58,713.49 L1044.86,712.13" stroke="#3d8ec9" stroke-width="0.8" stroke-opacity="0.7"/>
<text x="0" y="0" font-size="16.5" fill="#3d8ec9" stroke="#3d8ec9" stroke-width="0.25" dominant-baseline="central" textLength="121.47" lengthAdjust="spacingAndGlyphs" transform="translate(1056.85 751.02) rotate(-13.59)">RLOC_00003912</text>
<path d="M1051.01,752.43 L1055.39,751.37" stroke="#3d8ec9" stroke-width="0.8" stroke-opacity="0.7"/>
<text x="0" y="0" font-size="16.5" fill="#3d8ec9" stroke="#3d8ec9" stroke-width="0.25" dominant-baseline="central" textLength="120.93" lengthAdjust="spacingAndGlyphs" transform="translate(1063.89 783.37) rotate(-10.70)">RLOC_00003925</text>
<path d="M1057.99,784.48 L1062.42,783.64" stroke="#3d8ec9" stroke-width="0.8" stroke-opacity="0.7"/>
<text x="0" y="0" font-size="16.5" fill="#3d8ec9" stroke="#3d8ec9" stroke-width="0.25" dominant-baseline="central" textLength="120.52" lengthAdjust="spacingAndGlyphs" transform="translate(1075.40 923.69) rotate(1.19)">RLOC_00004040</text>
<path d="M1069.40,923.57 L1073.90,923.66" stroke="#3d8ec9" stroke-width="0.8" stroke-opacity="0.7"/>
<text x="0" y="0" font-size="16.5" fill="#3d8ec9" stroke="#3d8ec9" stroke-width="0.25" dominant-baseline="central" textLength="119.37" lengthAdjust="spacingAndGlyphs" transform="translate(1072.42 963.27) rotate(4.72)">RLOC_00004057</text>
<path d="M1066.44,962.78 L1070.92,963.15" stroke="#3d8ec9" stroke-width="0.8" stroke-opacity="0.7"/>
<text x="0" y="0" font-size="16.5" fill="#3d8ec9" stroke="#3d8ec9" stroke-width="0.25" dominant-baseline="central" textLength="120.15" lengthAdjust="spacingAndGlyphs" transform="translate(1055.22 1058.07) rotate(12.59)">RLOC_00004137</text>
<path d="M1049.37,1056.76 L1053.76,1057.74" stroke="#3d8ec9" stroke-width="0.8" stroke-opacity="0.7"/>
<text x="0" y="0" font-size="16.5" fill="#3d8ec9" stroke="#3d8ec9" stroke-width="0.25" dominant-baseline="central" textLength="119.09" lengthAdjust="spacingAndGlyphs" transform="translate(1045.48 1090.94) rotate(15.14)">RLOC_00004164</text>
<path d="M1039.69,1089.37 L1044.03,1090.55" stroke="#3d8ec9" stroke-width="0.8" stroke-opacity="0.7"/>
<text x="0" y="0" font-size="16.5" fill="#3d8ec9" stroke="#3d8ec9" stroke-width="0.25" dominant-baseline="central" textLength="120.08" lengthAdjust="spacingAndGlyphs" transform="translate(1039.56 1106.37) rotate(18.32)">RLOC_00004170</text>
<path d="M1033.87,1104.48 L1038.14,1105.89" stroke="#3d8ec9" stroke-width="0.8" stroke-opacity="0.7"/>
<text x="0" y="0" font-size="16.5" fill="#3d8ec9" stroke="#3d8ec9" stroke-width="0.25" dominant-baseline="central" textLength="120.35" lengthAdjust="spacingAndGlyphs" transform="translate(1003.83 1193.95) rotate(26.22)">RLOC_00004233</text>
<path d="M998.45,1191.30 L1002.49,1193.29" stroke="#3d8ec9" stroke-width="0.8" stroke-opacity="0.7"/>
<text x="0" y="0" font-size="16.5" fill="#3d8ec9" stroke="#3d8ec9" stroke-width="0.25" dominant-baseline="central" textLength="121.09" lengthAdjust="spacingAndGlyphs" transform="translate(989.69 1219.26) rotate(28.64)">RLOC_00004249</text>
<path d="M984.42,1216.38 L988.37,1218.54" stroke="#3d8ec9" stroke-width="0.8" stroke-opacity="0.7"/>
<text x="0" y="0" font-size="16.5" fill="#3d8ec9" stroke="#3d8ec9" stroke-width="0.25" dominant-baseline="central" textLength="120.24" lengthAdjust="spacingAndGlyphs" transform="translate(980.76 1235.63) rotate(30.23)">RLOC_00004252</text>
<path d="M975.57,1232.61 L979.46,1234.88" stroke="#3d8ec9" stroke-width="0.8" stroke-opacity="0.7"/>
<text x="0" y="0" font-size="16.5" fill="#3d8ec9" stroke="#3d8ec9" stroke-width="0.25" dominant-baseline="central" textLength="120.75" lengthAdjust="spacingAndGlyphs" transform="translate(970.31 1251.29) rotate(31.43)">RLOC_00004279</text>
<path d="M965.19,1248.16 L969.03,1250.51" stroke="#3d8ec9" stroke-width="0.8" stroke-opacity="0.7"/>
<text x="0" y="0" font-size="16.5" fill="#3d8ec9" stroke="#3d8ec9" stroke-width="0.25" dominant-baseline="central" textLength="115.83" lengthAdjust="spacingAndGlyphs" transform="translate(683.84 1495.27) rotate(65.43)">RLOC_00004812</text>
<path d="M681.34,1489.81 L683.21,1493.91" stroke="#3d8ec9" stroke-width="0.8" stroke-opacity="0.7"/>
<text x="0" y="0" font-size="16.5" fill="#3d8ec9" stroke="#3d8ec9" stroke-width="0.25" dominant-baseline="central" textLength="115.60" lengthAdjust="spacingAndGlyphs" transform="translate(602.27 1522.51) rotate(73.50)">RLOC_00005064</text>
<path d="M600.57,1516.76 L601.85,1521.08" stroke="#3d8ec9" stroke-width="0.8" stroke-opacity="0.7"/>
<text x="0" y="0" font-size="16.5" fill="#3d8ec9" stroke="#3d8ec9" stroke-width="0.25" dominant-baseline="central" textLength="116.16" lengthAdjust="spacingAndGlyphs" transform="translate(565.15 1529.92) rotate(77.76)">RLOC_00005176</text>
<path d="M563.88,1524.05 L564.83,1528.45" stroke="#3d8ec9" stroke-width="0.8" stroke-opacity="0.7"/>
<text x="0" y="0" font-size="16.5" fill="#3d8ec9" stroke="#3d8ec9" stroke-width="0.25" dominant-baseline="central" textLength="117.89" lengthAdjust="spacingAndGlyphs" transform="translate(534.10 1533.63) rotate(79.99)">RLOC_00005243</text>
<path d="M533.05,1527.72 L533.84,1532.15" stroke="#3d8ec9" stroke-width="0.8" stroke-opacity="0.7"/>
<text x="0" y="0" font-size="16.5" fill="#3d8ec9" stroke="#3d8ec9" stroke-width="0.25" dominant-baseline="central" textLength="117.30" lengthAdjust="spacingAndGlyphs" transform="translate(516.77 1537.35) rotate(81.96)">RLOC_00005288</text>
<path d="M515.93,1531.41 L516.56,1535.87" stroke="#3d8ec9" stroke-width="0.8" stroke-opacity="0.7"/>
<text x="0" y="0" font-size="16.5" fill="#3d8ec9" stroke="#3d8ec9" stroke-width="0.25" dominant-baseline="central" textLength="116.72" lengthAdjust="spacingAndGlyphs" transform="translate(500.76 1541.07) rotate(84.62)">RLOC_00005326</text>
<path d="M500.20,1535.10 L500.62,1539.58" stroke="#3d8ec9" stroke-width="0.8" stroke-opacity="0.7"/>
<text x="0" y="0" font-size="16.5" fill="#3d8ec9" stroke="#3d8ec9" stroke-width="0.25" dominant-baseline="central" textLength="115.19" lengthAdjust="spacingAndGlyphs" transform="translate(473.44 1543.56) rotate(86.59)">RLOC_00005391</text>
<path d="M473.08,1537.57 L473.35,1542.06" stroke="#3d8ec9" stroke-width="0.8" stroke-opacity="0.7"/>
<text x="0" y="0" font-size="16.5" fill="#3d8ec9" stroke="#3d8ec9" stroke-width="0.25" dominant-baseline="central" textLength="113.78" lengthAdjust="spacingAndGlyphs" transform="translate(540.44 1669.86) rotate(80.99)">RLOC_00005297</text>
<path d="M539.50,1663.94 L540.20,1668.38" stroke="#3d8ec9" stroke-width="0.8" stroke-opacity="0.7"/>
<text x="0" y="0" font-size="16.5" fill="#3d8ec9" stroke="#3d8ec9" stroke-width="0.25" dominant-baseline="central" textLength="113.26" lengthAdjust="spacingAndGlyphs" transform="translate(521.87 1674.84) rotate(83.05)">RLOC_00005304</text>
<path d="M521.14,1668.88 L521.69,1673.35" stroke="#3d8ec9" stroke-width="0.8" stroke-opacity="0.7"/>
<text x="416.6" y="229.7" font-size="42" text-anchor="middle" fill="#000">1</text>
<text x="416.6" y="333.7" font-size="42" text-anchor="middle" fill="#000">2</text>
<text x="416.6" y="416" font-size="42" text-anchor="middle" fill="#000">3</text>
<text x="416.6" y="474.8" font-size="42" text-anchor="middle" fill="#000">4</text>
<text x="416.6" y="536.2" font-size="42" text-anchor="middle" fill="#000">5</text>
<text x="416.6" y="600.4" font-size="42" text-anchor="middle" fill="#000">6</text></svg></body></html>
